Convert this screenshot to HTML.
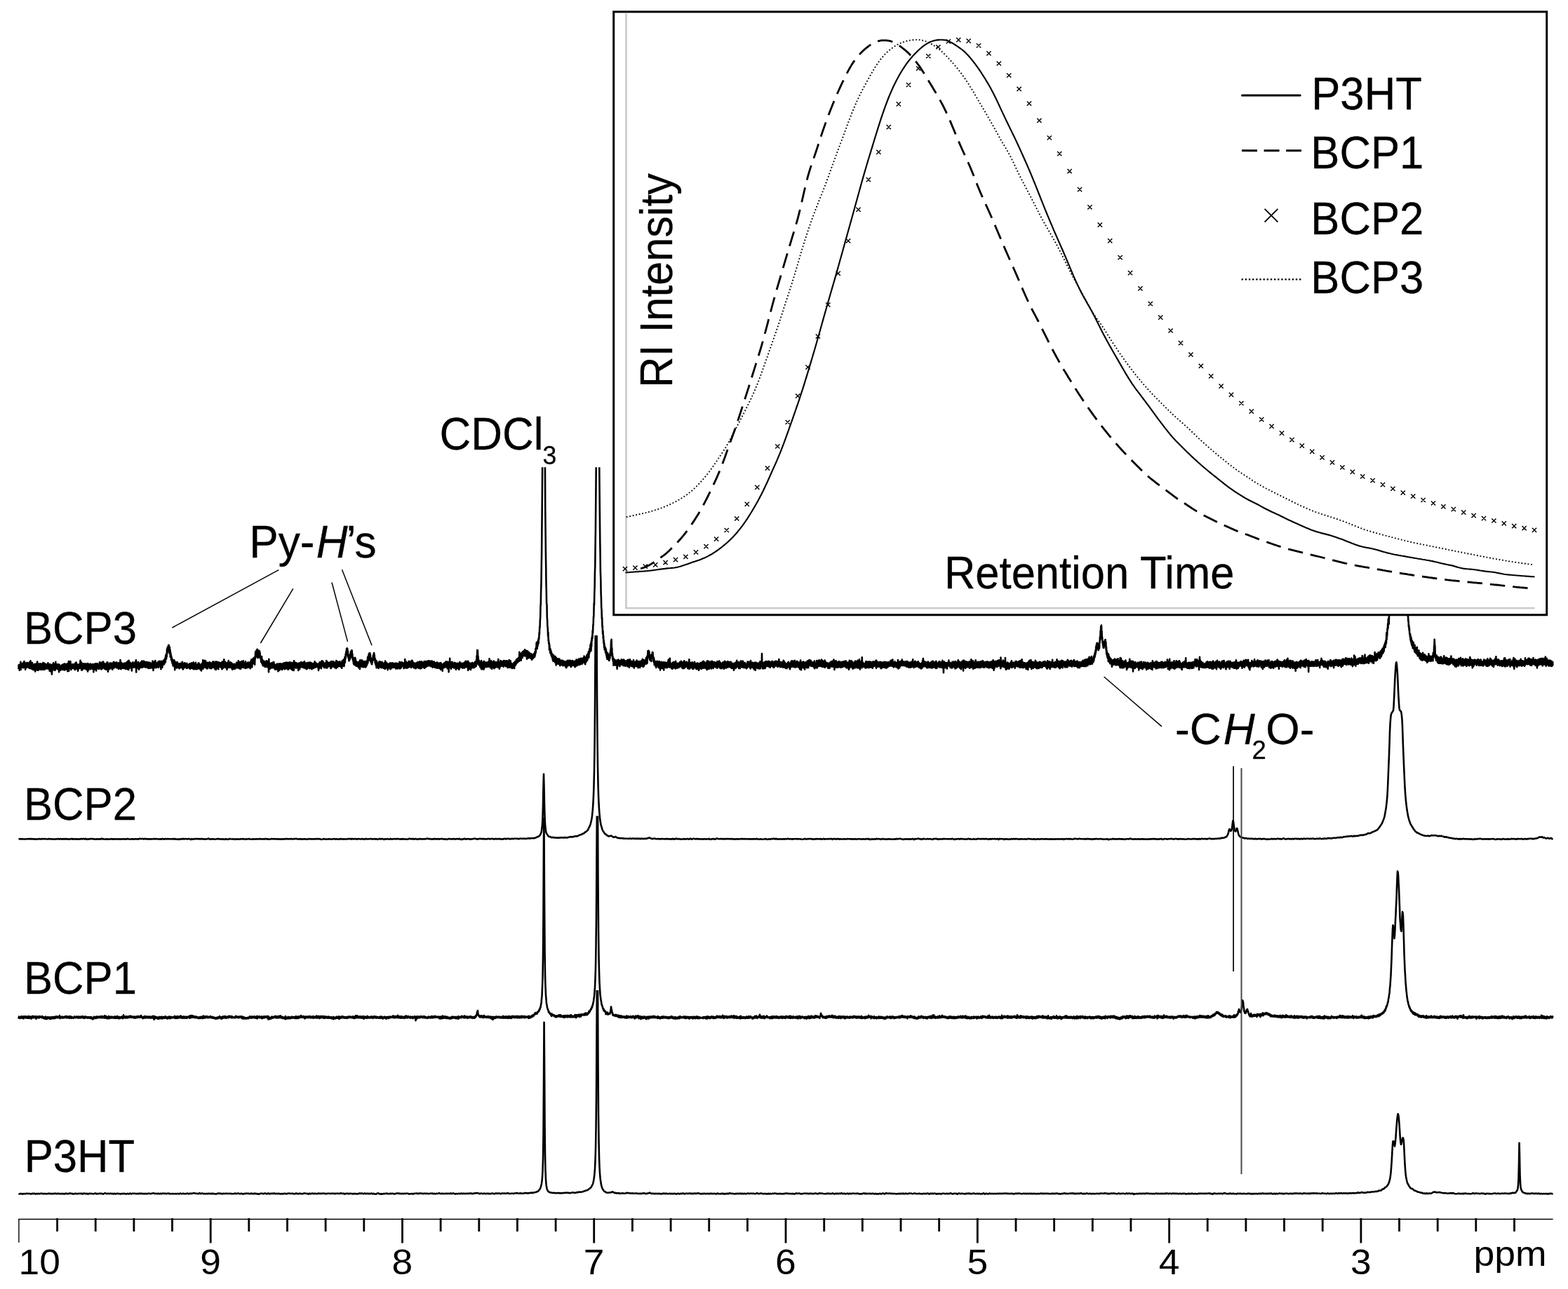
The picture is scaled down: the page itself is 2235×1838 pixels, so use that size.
<!DOCTYPE html>
<html lang="en"><head><meta charset="utf-8"><title>NMR spectra and GPC traces</title>
<style>html,body{margin:0;padding:0;background:#fff}svg{display:block}</style></head>
<body>
<svg width="2235" height="1838" viewBox="0 0 2235 1838" role="img" aria-label="1H NMR spectra of P3HT, BCP1, BCP2 and BCP3 with GPC traces inset">
<defs><clipPath id="c_bcp3"><rect x="0" y="666.3" width="2235" height="600"/></clipPath><clipPath id="c_bcp2"><rect x="0" y="905.9" width="2235" height="600"/></clipPath><clipPath id="c_bcp1"><rect x="0" y="1163.5" width="2235" height="600"/></clipPath><clipPath id="c_p3ht"><rect x="0" y="1411.9" width="2235" height="600"/></clipPath></defs>
<rect width="2235" height="1838" fill="#fff"/>
<g clip-path="url(#c_bcp3)"><polyline fill="none" stroke="#000" stroke-width="2.6" stroke-linejoin="round" points="26.5,954.1 26.8,948.1 27.1,952.4 27.5,949.1 27.8,955.8 28.1,949.6 28.4,953.8 28.7,947.6 29.1,953.2 29.4,943.7 29.7,954.6 30,947.9 30.3,951.2 30.7,946.4 31,951.5 31.3,946.4 31.6,951.5 31.9,946.4 32.3,950.9 32.6,946.1 32.9,952.3 33.2,944.8 33.5,949.8 33.9,946.2 34.2,951.3 34.5,943 34.8,951.3 35.1,944.3 35.5,952.2 35.8,945.7 36.1,954.6 36.4,945.9 36.7,952.6 37.1,946.3 37.4,952.2 37.7,946.8 38,951.9 38.3,945.1 38.7,950.4 39,945 39.3,950.3 39.6,946.3 39.9,950.6 40.3,945.8 40.6,951.7 40.9,945.7 41.2,951.2 41.5,945.8 41.9,953 42.2,944.1 42.5,952.1 42.8,947.3 43.1,950.5 43.5,942.2 43.8,949.6 44.1,946.1 44.4,953.4 44.7,944.7 45.1,952.9 45.4,947.9 45.7,951.1 46,945 46.3,954.1 46.7,947.7 47,952.7 47.3,949.1 47.6,955.2 47.9,947.9 48.3,953.2 48.6,948 48.9,954.6 49.2,947.1 49.5,954.6 49.9,947 50.2,957.4 50.5,948.5 50.8,953.4 51.1,946.7 51.5,951.7 51.8,946.6 52.1,952.7 52.4,947.2 52.7,955.5 53.1,943.5 53.4,952.4 53.7,948.7 54,955.7 54.3,948.9 54.7,954.3 55,948.6 55.3,955.1 55.6,946.5 55.9,952.7 56.3,947.9 56.6,951.7 56.9,948.8 57.2,954 57.5,946.3 57.9,952.8 58.2,949.3 58.5,955 58.8,947 59.1,954.3 59.5,949.4 59.8,954.5 60.1,948.9 60.4,954.3 60.7,946 61.1,952.4 61.4,945.1 61.7,954.7 62,947.6 62.3,952.4 62.7,945.6 63,954.8 63.3,948.3 63.6,952.4 63.9,946.4 64.3,951 64.6,949.7 64.9,953.9 65.2,947.6 65.5,952.8 65.9,947.3 66.2,952.9 66.5,947.8 66.8,951.7 67.1,948.9 67.5,953.1 67.8,947.5 68.1,953.3 68.4,945.4 68.7,953.7 69.1,948 69.4,951.3 69.7,947.6 70,954.2 70.3,947.2 70.7,956.6 71,947.1 71.3,955.9 71.6,950 71.9,957.3 72.3,949.6 72.6,956.2 72.9,947.7 73.2,957.3 73.5,949 73.9,961.5 74.2,950.2 74.5,956.9 74.8,949.7 75.1,954.8 75.5,947.1 75.8,953.5 76.1,945.4 76.4,953.4 76.7,948.3 77.1,954.9 77.4,947.1 77.7,955.7 78,946.9 78.3,954.5 78.7,949.5 79,955.4 79.3,943.8 79.6,952.7 79.9,948.9 80.3,951.8 80.6,948.1 80.9,953 81.2,948.9 81.5,951.9 81.9,947.2 82.2,954 82.5,948.2 82.8,954.5 83.1,948.3 83.5,953.4 83.8,947.3 84.1,958.1 84.4,950.4 84.7,954.4 85.1,948.2 85.4,955.1 85.7,952.1 86,955.8 86.3,949.8 86.7,953.6 87,950.3 87.3,953.2 87.6,949.8 87.9,954.8 88.3,948.2 88.6,953.7 88.9,948 89.2,954 89.5,948.7 89.9,954.8 90.2,947.4 90.5,952.9 90.8,948.1 91.1,954.7 91.5,946.9 91.8,955.4 92.1,946.6 92.4,954 92.7,948.6 93.1,955 93.4,947 93.7,954.2 94,949.8 94.3,953.5 94.7,949.4 95,953.5 95.3,947.6 95.6,953.9 95.9,946.2 96.3,957.3 96.6,948.5 96.9,955.3 97.2,946.6 97.5,954.3 97.9,943.1 98.2,956.6 98.5,947.3 98.8,952.9 99.1,947.1 99.5,951.7 99.8,947.2 100.1,951.8 100.4,943 100.7,952.4 101.1,948.8 101.4,954.9 101.7,947.7 102,953.2 102.3,947.8 102.7,952 103,947.2 103.3,951.7 103.6,948.2 103.9,952.9 104.3,947.8 104.6,952.5 104.9,947.4 105.2,952.5 105.5,947.2 105.9,953 106.2,947 106.5,954.9 106.8,946.8 107.1,954.7 107.5,945.4 107.8,952.6 108.1,948.9 108.4,953.4 108.7,944.6 109.1,953.4 109.4,947.2 109.7,952.3 110,947.8 110.3,952.3 110.7,947.5 111,956.6 111.3,949.1 111.6,954.6 111.9,948.2 112.3,951.9 112.6,947.5 112.9,951.9 113.2,947.4 113.5,952.8 113.9,946.3 114.2,951.9 114.5,941.9 114.8,952.8 115.1,947.8 115.5,951.9 115.8,944.3 116.1,955.3 116.4,945.4 116.7,955.7 117.1,948.4 117.4,953.9 117.7,949.9 118,954.4 118.3,949.9 118.7,953.1 119,946.4 119.3,953.3 119.6,948.2 119.9,952.6 120.3,948.8 120.6,952.7 120.9,946.6 121.2,953.5 121.5,946.9 121.9,950.7 122.2,946.5 122.5,951.7 122.8,947 123.1,954.6 123.5,948.2 123.8,953.7 124.1,946.6 124.4,955.2 124.7,949.3 125.1,957.4 125.4,946 125.7,953.5 126,948.7 126.3,955.3 126.7,948.3 127,952.6 127.3,947.7 127.6,953.8 127.9,948.4 128.3,952.7 128.6,946.6 128.9,954.1 129.2,949.2 129.5,950.8 129.9,947.5 130.2,951.3 130.5,947.7 130.8,953.3 131.1,947.5 131.5,953.4 131.8,947.1 132.1,953.9 132.4,947.5 132.7,952.7 133.1,947.3 133.4,958.1 133.7,948.3 134,952.7 134.3,949.8 134.7,954.4 135,946.8 135.3,953.8 135.6,949.3 135.9,954.4 136.3,946.4 136.6,953.9 136.9,947.8 137.2,956.4 137.5,946.7 137.9,952.1 138.2,948.3 138.5,953.5 138.8,946.2 139.1,952.7 139.5,947.2 139.8,951.5 140.1,947.7 140.4,952.6 140.7,948.2 141.1,953.9 141.4,948.2 141.7,950.1 142,944.3 142.3,952.8 142.7,946.8 143,951.5 143.3,946.8 143.6,952.7 143.9,944.7 144.3,954.4 144.6,947.3 144.9,952.8 145.2,947.6 145.5,951.3 145.9,944.7 146.2,953.3 146.5,943.7 146.8,952.1 147.1,943.6 147.5,950.2 147.8,946.6 148.1,952.1 148.4,945.9 148.7,951.6 149.1,946.6 149.4,953.9 149.7,946.7 150,952.6 150.3,949.1 150.7,953.5 151,946.7 151.3,954.6 151.6,946.1 151.9,952.1 152.3,945.2 152.6,953.3 152.9,944.4 153.2,951.5 153.5,944.6 153.9,957.6 154.2,947.3 154.5,954.3 154.8,947.4 155.1,952.7 155.5,948.3 155.8,954.3 156.1,947.5 156.4,953.8 156.7,945.2 157.1,952.6 157.4,946.1 157.7,951.9 158,946.9 158.3,952.1 158.7,946.1 159,951.4 159.3,945.5 159.6,953.7 159.9,946.9 160.3,954.7 160.6,947.2 160.9,952.3 161.2,946.1 161.5,952.6 161.9,943.8 162.2,951 162.5,946.5 162.8,952.1 163.1,945.6 163.5,949.4 163.8,944.7 164.1,949.9 164.4,945.3 164.7,951 165.1,944.7 165.4,950.6 165.7,946.8 166,952.2 166.3,944.6 166.7,951.3 167,946 167.3,951 167.6,946.3 167.9,952.1 168.3,947.4 168.6,953.1 168.9,945.4 169.2,954 169.5,946.6 169.9,951.5 170.2,945.2 170.5,951.5 170.8,945.5 171.1,952.6 171.5,941 171.8,951.7 172.1,946 172.4,954.1 172.7,946.1 173.1,953.2 173.4,945 173.7,951.9 174,948.6 174.3,952.8 174.7,946.9 175,952.3 175.3,947.4 175.6,952.3 175.9,946.6 176.3,952.9 176.6,947.5 176.9,951.1 177.2,945.8 177.5,952.5 177.9,945.6 178.2,951.7 178.5,946.5 178.8,953.8 179.1,945.9 179.5,952.1 179.8,945.4 180.1,952.8 180.4,944.8 180.7,953.6 181.1,946.3 181.4,953.1 181.7,943.1 182,953 182.3,948.1 182.7,955 183,943.3 183.3,955 183.6,941.9 183.9,951.3 184.3,945.1 184.6,952.2 184.9,944.4 185.2,952.3 185.5,947.5 185.9,950.6 186.2,945.8 186.5,950.9 186.8,945.6 187.1,951.9 187.5,946.8 187.8,956.5 188.1,946.3 188.4,950.2 188.7,947.3 189.1,951.8 189.4,944.4 189.7,951.5 190,946.2 190.3,951.6 190.7,946 191,950 191.3,947.5 191.6,950.9 191.9,946.6 192.3,951.4 192.6,943.9 192.9,950.6 193.2,945.9 193.5,950.5 193.9,941.4 194.2,958.4 194.5,944.1 194.8,951.6 195.1,946.1 195.5,952.6 195.8,946.2 196.1,952 196.4,946 196.7,951.8 197.1,944.1 197.4,951.3 197.7,946.1 198,954.8 198.3,945.7 198.7,952.1 199,947 199.3,952.5 199.6,945.6 199.9,951.4 200.3,944.5 200.6,951.8 200.9,945 201.2,951.3 201.5,944.3 201.9,951.8 202.2,942.5 202.5,951.6 202.8,946 203.1,951.4 203.5,944.6 203.8,950.5 204.1,944.1 204.4,951 204.7,942.5 205.1,949.8 205.4,943 205.7,948.2 206,944.1 206.3,949.9 206.7,947.3 207,951.5 207.3,944.5 207.6,951.5 207.9,946.7 208.3,950.6 208.6,943.9 208.9,951.3 209.2,945.1 209.5,951.2 209.9,946.3 210.2,951.6 210.5,946.4 210.8,949.7 211.1,944.2 211.5,953 211.8,945.9 212.1,952.1 212.4,946 212.7,950.3 213.1,945.2 213.4,950.8 213.7,944.8 214,952.7 214.3,947.1 214.7,952.5 215,946.1 215.3,950.7 215.6,946 215.9,951.2 216.3,946.9 216.6,952.1 216.9,945.8 217.2,949.5 217.5,942.5 217.9,951.5 218.2,946.8 218.5,955.9 218.8,946.6 219.1,953.1 219.5,943.7 219.8,951.2 220.1,945.4 220.4,950.4 220.7,943.7 221.1,951.8 221.4,942.1 221.7,950.5 222,944.6 222.3,952.1 222.7,947.3 223,951.6 223.3,945.7 223.6,951 223.9,945.7 224.3,948.1 224.6,944.7 224.9,951.3 225.2,945.4 225.5,948.8 225.9,943.1 226.2,951.8 226.5,944.3 226.8,949 227.1,944.4 227.5,949.4 227.8,942.7 228.1,949.2 228.4,943.7 228.7,948.8 229.1,943.3 229.4,954.1 229.7,943.6 230,950.8 230.3,942.8 230.7,948.4 231,943.3 231.3,951.7 231.6,943.6 231.9,948.7 232.3,943.5 232.6,947.9 232.9,941.8 233.2,945.7 233.5,942.4 233.9,947.1 234.2,940.6 234.5,946.1 234.8,940 235.1,944.4 235.5,938.3 235.8,944.3 236.1,935 236.4,940.5 236.7,933.3 237.1,939.1 237.4,932 237.7,936.1 238,925.5 238.3,931.7 238.7,923.4 239,928.6 239.3,922.9 239.6,925.9 239.9,920.5 240.3,927.1 240.6,919.8 240.9,927.1 241.2,921.9 241.5,931.4 241.9,923 242.2,930.8 242.5,926.7 242.8,936.6 243.1,930.5 243.5,936.4 243.8,933.7 244.1,941.3 244.4,936.3 244.7,942.2 245.1,938.7 245.4,945.1 245.7,940.3 246,946.7 246.3,942.3 246.7,949.4 247,941.3 247.3,947.6 247.6,942.6 247.9,949.8 248.3,941.3 248.6,949.9 248.9,943 249.2,955.2 249.5,943.5 249.9,949.7 250.2,944.6 250.5,948.1 250.8,944.5 251.1,951.7 251.5,946.6 251.8,952.4 252.1,946.4 252.4,951 252.7,944 253.1,951.6 253.4,946.1 253.7,951.8 254,946.8 254.3,951.1 254.7,946.4 255,952.5 255.3,946.6 255.6,953.3 255.9,947.5 256.3,951.9 256.6,946.4 256.9,951.7 257.2,947.7 257.5,952 257.9,945.9 258.2,952 258.5,946.2 258.8,951.4 259.1,946.7 259.5,951.6 259.8,943.8 260.1,952.8 260.4,945.5 260.7,954.4 261.1,947 261.4,953.5 261.7,947.2 262,950.9 262.3,945.9 262.7,951.9 263,945.4 263.3,951 263.6,945.6 263.9,951.1 264.3,947.2 264.6,950.7 264.9,947.7 265.2,951.1 265.5,947.8 265.9,953 266.2,945.9 266.5,952.6 266.8,947.2 267.1,951.6 267.5,947.6 267.8,951.6 268.1,948.5 268.4,952.1 268.7,947.7 269.1,950.9 269.4,948.9 269.7,951.7 270,946.5 270.3,952.7 270.7,946.4 271,953.6 271.3,947.3 271.6,952.7 271.9,946.6 272.3,951.5 272.6,946.4 272.9,951.5 273.2,945.3 273.5,952.6 273.9,945.5 274.2,948.2 274.5,946.8 274.8,950.4 275.1,946.5 275.5,953.9 275.8,944.2 276.1,951.6 276.4,946.3 276.7,954.2 277.1,948.6 277.4,952.7 277.7,946.9 278,953.7 278.3,946.1 278.7,953 279,944.7 279.3,954.3 279.6,948.5 279.9,952.7 280.3,948.4 280.6,953.1 280.9,948.1 281.2,953.9 281.5,949.5 281.9,952.8 282.2,947.1 282.5,952.9 282.8,945.6 283.1,953 283.5,945.5 283.8,952.7 284.1,946.7 284.4,953.5 284.7,948.1 285.1,950.4 285.4,948.3 285.7,955 286,949.1 286.3,952 286.7,948 287,956.5 287.3,946.5 287.6,953.4 287.9,947.9 288.3,951.5 288.6,947 288.9,952.7 289.2,941.3 289.5,953.7 289.9,946.5 290.2,951.6 290.5,946.5 290.8,951 291.1,943.9 291.5,949.6 291.8,941.9 292.1,950.9 292.4,945 292.7,951.6 293.1,942.5 293.4,950.1 293.7,946.9 294,949.6 294.3,946.8 294.7,953.3 295,945.8 295.3,951 295.6,944.7 295.9,953.1 296.3,945.5 296.6,950.8 296.9,946.4 297.2,950.6 297.5,945 297.9,950.5 298.2,946.6 298.5,950.7 298.8,944.1 299.1,952.9 299.5,945.7 299.8,950.2 300.1,945.3 300.4,950 300.7,947.4 301.1,953.1 301.4,946.3 301.7,951 302,947.2 302.3,952 302.7,944.8 303,951 303.3,943.6 303.6,951.5 303.9,945.7 304.3,951.9 304.6,943.5 304.9,951.1 305.2,946.1 305.5,951.6 305.9,944.8 306.2,952.6 306.5,948.4 306.8,954.7 307.1,947.5 307.5,954.1 307.8,943.4 308.1,954.7 308.4,947.6 308.7,951.7 309.1,945.4 309.4,952.1 309.7,946.4 310,952 310.3,943.8 310.7,951.9 311,948.2 311.3,954.2 311.6,945.5 311.9,949.3 312.3,944.7 312.6,950.2 312.9,944.8 313.2,950.4 313.5,945.1 313.9,950.9 314.2,946.7 314.5,949.3 314.8,945.4 315.1,951.6 315.5,945.4 315.8,950.5 316.1,945.9 316.4,954.1 316.7,943.5 317.1,950.7 317.4,945.4 317.7,953 318,945.9 318.3,949.8 318.7,943.1 319,951.7 319.3,940.4 319.6,949.4 319.9,944.5 320.3,948.9 320.6,944 320.9,950.1 321.2,943.8 321.5,951.6 321.9,946.2 322.2,952.3 322.5,945.2 322.8,952.1 323.1,947.6 323.5,954.6 323.8,946.1 324.1,952.1 324.4,947.2 324.7,951.5 325.1,944.1 325.4,950.5 325.7,942 326,951.7 326.3,946 326.7,951.9 327,944.9 327.3,951.6 327.6,946.6 327.9,951.1 328.3,944.3 328.6,950.1 328.9,946.3 329.2,951.6 329.5,946.6 329.9,951.8 330.2,945.3 330.5,953.2 330.8,947.6 331.1,954.6 331.5,947.7 331.8,951 332.1,947.1 332.4,953.9 332.7,948.1 333.1,952.7 333.4,947.2 333.7,952 334,946.9 334.3,953.7 334.7,947.6 335,953.6 335.3,948.5 335.6,952.3 335.9,947.7 336.3,952.3 336.6,946.9 336.9,950.5 337.2,944.9 337.5,952.3 337.9,945.1 338.2,950.5 338.5,945.5 338.8,950 339.1,945.2 339.5,952.4 339.8,942.2 340.1,949.9 340.4,945.9 340.7,951.1 341.1,944 341.4,953.1 341.7,945.8 342,951.4 342.3,944.1 342.7,954 343,946.7 343.3,951.3 343.6,946.4 343.9,952.5 344.3,943.1 344.6,951.2 344.9,943.3 345.2,950.8 345.5,943.9 345.9,948 346.2,944 346.5,951.6 346.8,942.3 347.1,951 347.5,945.3 347.8,949 348.1,945.9 348.4,952.2 348.7,946.3 349.1,951.9 349.4,946 349.7,951 350,943.4 350.3,952.9 350.7,945.3 351,950.5 351.3,947.8 351.6,952 351.9,946.4 352.3,951.3 352.6,946.6 352.9,951.3 353.2,944.7 353.5,952 353.9,944.6 354.2,950.8 354.5,945.1 354.8,951.1 355.1,944.7 355.5,950.1 355.8,945.1 356.1,951.1 356.4,946 356.7,953.2 357.1,943.8 357.4,951.7 357.7,942.6 358,948.7 358.3,940.5 358.7,948.8 359,943 359.3,951.1 359.6,940.2 359.9,946.3 360.3,939.9 360.6,945.3 360.9,938.8 361.2,945.1 361.5,939.7 361.9,944.8 362.2,937.8 362.5,946.6 362.8,937.5 363.1,947.7 363.5,936.3 363.8,939.8 364.1,929.8 364.4,937.4 364.7,928.9 365.1,933.8 365.4,928.1 365.7,933.9 366,926.8 366.3,934.1 366.7,925.7 367,937.3 367.3,929 367.6,938.1 367.9,929.8 368.3,937 368.6,927.5 368.9,934.8 369.2,929.4 369.5,934 369.9,928.3 370.2,935.5 370.5,930.2 370.8,938.2 371.1,934.8 371.5,939.4 371.8,937.3 372.1,943.9 372.4,937.8 372.7,943.7 373.1,936.3 373.4,946 373.7,941.7 374,946.8 374.3,941.1 374.7,948.9 375,942.9 375.3,949.5 375.6,944.5 375.9,948.6 376.3,942.8 376.6,949.2 376.9,943.1 377.2,949.8 377.5,945.8 377.9,951 378.2,944.7 378.5,949.5 378.8,943.3 379.1,950.8 379.5,943.7 379.8,948.6 380.1,942.3 380.4,950.9 380.7,943.3 381.1,951 381.4,943.4 381.7,949.1 382,945.8 382.3,951.2 382.7,943.1 383,958.3 383.3,939.8 383.6,950.7 383.9,947.9 384.3,952.7 384.6,946.5 384.9,953.8 385.2,945.9 385.5,952.6 385.9,946.5 386.2,952.7 386.5,945.9 386.8,950.5 387.1,945.6 387.5,951.6 387.8,947.4 388.1,950.6 388.4,944.7 388.7,952.3 389.1,945.6 389.4,949.9 389.7,944.9 390,950.4 390.3,944 390.7,952.1 391,948.3 391.3,951.9 391.6,947.4 391.9,954.5 392.3,948.1 392.6,953.1 392.9,948.7 393.2,954.7 393.5,948.6 393.9,953.4 394.2,949.5 394.5,952 394.8,946.5 395.1,953.7 395.5,951.2 395.8,953 396.1,947.2 396.4,957.3 396.7,946.9 397.1,951.6 397.4,946.6 397.7,956 398,946.5 398.3,951.2 398.7,947.2 399,953.1 399.3,947.7 399.6,954.5 399.9,946.4 400.3,952.4 400.6,946.5 400.9,953.3 401.2,947.5 401.5,953.7 401.9,948.4 402.2,954.9 402.5,947.7 402.8,953.7 403.1,946 403.5,952.4 403.8,946.7 404.1,952.5 404.4,947.6 404.7,953.3 405.1,945.3 405.4,952.1 405.7,948.2 406,954.3 406.3,946.3 406.7,953.4 407,944.9 407.3,951.3 407.6,945.2 407.9,951.2 408.3,944.7 408.6,951.3 408.9,948.4 409.2,953.3 409.5,944.7 409.9,953.1 410.2,947.3 410.5,954.6 410.8,945.1 411.1,954.5 411.5,948 411.8,951.3 412.1,946.1 412.4,953 412.7,944.3 413.1,951.8 413.4,944.3 413.7,952.3 414,946.1 414.3,951.8 414.7,946.3 415,954.1 415.3,946.4 415.6,952.1 415.9,945 416.3,952.6 416.6,945 416.9,955.5 417.2,948.2 417.5,953.2 417.9,947.4 418.2,952 418.5,946.9 418.8,955.9 419.1,942.4 419.5,951.2 419.8,944.9 420.1,951 420.4,945.8 420.7,950.3 421.1,944.8 421.4,952.3 421.7,945.3 422,952.4 422.3,945.4 422.7,952.1 423,946.3 423.3,951.3 423.6,946.5 423.9,952 424.3,946.6 424.6,951.5 424.9,945.7 425.2,956 425.5,946.2 425.9,951.5 426.2,946.3 426.5,950.8 426.8,945.6 427.1,954.1 427.5,945 427.8,949.7 428.1,947 428.4,950.9 428.7,946.7 429.1,951.2 429.4,944 429.7,951 430,945.6 430.3,949.3 430.7,945.7 431,950.4 431.3,944.7 431.6,951.6 431.9,946.9 432.3,951.8 432.6,946.3 432.9,950.4 433.2,944.3 433.5,952.4 433.9,943.1 434.2,951 434.5,946.3 434.8,952.5 435.1,948.3 435.5,951.5 435.8,949.4 436.1,952.1 436.4,945.2 436.7,954.2 437.1,945.8 437.4,953.3 437.7,947.6 438,953.5 438.3,947.5 438.7,952.1 439,944.8 439.3,950.5 439.6,947.2 439.9,950.8 440.3,944.9 440.6,949.5 440.9,947.3 441.2,953.3 441.5,945.6 441.9,952.9 442.2,944.5 442.5,950.1 442.8,944.8 443.1,950.6 443.5,945.1 443.8,950.6 444.1,947 444.4,954.1 444.7,946 445.1,950.9 445.4,947.9 445.7,949.4 446,946.8 446.3,952.9 446.7,946.1 447,950.2 447.3,946.3 447.6,952.2 447.9,946.2 448.3,951 448.6,943.2 448.9,951.9 449.2,945.5 449.5,949.7 449.9,945.5 450.2,950.9 450.5,945.6 450.8,950 451.1,945.9 451.5,950.2 451.8,947.4 452.1,950.6 452.4,947.1 452.7,951.4 453.1,946.7 453.4,951.8 453.7,947.9 454,955.9 454.3,946.5 454.7,953.8 455,947.3 455.3,952.3 455.6,944.3 455.9,951.3 456.3,944.4 456.6,950.8 456.9,947.3 457.2,949.1 457.5,943.8 457.9,953.2 458.2,944 458.5,948.4 458.8,942.3 459.1,947.8 459.5,942.6 459.8,949.3 460.1,943.7 460.4,948.1 460.7,943.5 461.1,950.6 461.4,945.6 461.7,949.8 462,945.5 462.3,952.1 462.7,947.2 463,950.5 463.3,945.6 463.6,951.4 463.9,946.8 464.3,952 464.6,947.9 464.9,951.8 465.2,942.1 465.5,952.3 465.9,943 466.2,952.4 466.5,944.2 466.8,951.1 467.1,944.8 467.5,950 467.8,944.9 468.1,950.4 468.4,945.9 468.7,949.3 469.1,944.9 469.4,949.9 469.7,945.7 470,949.2 470.3,944.7 470.7,949.8 471,945.9 471.3,952.9 471.6,943.5 471.9,952.8 472.3,945.9 472.6,949.6 472.9,943.1 473.2,950.2 473.5,943.6 473.9,950.4 474.2,943.3 474.5,950.8 474.8,943.4 475.1,949.9 475.5,943.5 475.8,949.8 476.1,944 476.4,949.2 476.7,945.9 477.1,951.8 477.4,945.1 477.7,949.4 478,946.1 478.3,949.3 478.7,944.7 479,953 479.3,942.1 479.6,950.8 479.9,945.1 480.3,951.8 480.6,944.8 480.9,949.3 481.2,943.4 481.5,950.4 481.9,944 482.2,947.5 482.5,945.4 482.8,950.2 483.1,944.1 483.5,950 483.8,943.7 484.1,949.6 484.4,943.2 484.7,949.6 485.1,945 485.4,949.7 485.7,947 486,951.2 486.3,945.1 486.7,950.6 487,945.4 487.3,952.8 487.6,942.6 487.9,949.5 488.3,943.1 488.6,949.4 488.9,942.6 489.2,947.6 489.5,940.5 489.9,949 490.2,943.2 490.5,949.9 490.8,940.8 491.1,945.8 491.5,936.9 491.8,944.6 492.1,937.6 492.4,939.6 492.7,932.4 493.1,937 493.4,929.1 493.7,934.1 494,925 494.3,928 494.7,924.3 495,933.2 495.3,925.4 495.6,933 495.9,928.9 496.3,937.2 496.6,933.3 496.9,939.5 497.2,936.9 497.5,942.4 497.9,936.8 498.2,940.2 498.5,935.4 498.8,940.3 499.1,933.5 499.5,938.2 499.8,929.4 500.1,936.7 500.4,929.6 500.7,933.2 501.1,927.2 501.4,933.6 501.7,927.6 502,936.5 502.3,932.3 502.7,940.3 503,937.3 503.3,942.3 503.6,937.9 503.9,945.9 504.3,942.3 504.6,947.5 504.9,941 505.2,947.9 505.5,939.9 505.9,948.1 506.2,937.8 506.5,947.2 506.8,939.5 507.1,947 507.5,943.1 507.8,949.6 508.1,943.4 508.4,948.8 508.7,944.9 509.1,948.1 509.4,945.3 509.7,949.3 510,945.4 510.3,950.6 510.7,944 511,950.3 511.3,946.3 511.6,952.4 511.9,946.3 512.3,952.7 512.6,943.1 512.9,953.9 513.2,941.3 513.5,950.3 513.9,944.4 514.2,947 514.5,945.6 514.8,946.6 515.1,941.3 515.5,950.7 515.8,941.9 516.1,948.5 516.4,941.7 516.7,950.6 517.1,943.8 517.4,950.6 517.7,943.4 518,951.2 518.3,944.2 518.7,950.3 519,945.6 519.3,950.2 519.6,943.1 519.9,949.6 520.3,947.3 520.6,951.4 520.9,943.5 521.2,951.2 521.5,945.6 521.9,950.1 522.2,943.5 522.5,948.8 522.8,942.4 523.1,948.1 523.5,941.9 523.8,945.8 524.1,936.9 524.4,945.2 524.7,938.9 525.1,941.3 525.4,934 525.7,936.4 526,931.7 526.3,936.2 526.7,931.4 527,941.4 527.3,931.3 527.6,938.6 527.9,933.3 528.3,943.1 528.6,940.6 528.9,944.5 529.2,938.6 529.5,946.5 529.9,941.1 530.2,947.1 530.5,939.1 530.8,944.2 531.1,939.4 531.5,942 531.8,935.3 532.1,939.3 532.4,933 532.7,938.5 533.1,931 533.4,937.6 533.7,933.7 534,941.1 534.3,938 534.7,945.5 535,940 535.3,947.3 535.6,942.8 535.9,949.1 536.3,943.8 536.6,952.3 536.9,942.6 537.2,951.7 537.5,947 537.9,950.8 538.2,945.9 538.5,951.2 538.8,946 539.1,952.3 539.5,945.5 539.8,952.9 540.1,944.3 540.4,950.6 540.7,943.3 541.1,949.9 541.4,944.2 541.7,951 542,943.5 542.3,950.2 542.7,944.9 543,951.9 543.3,944.4 543.6,949.4 543.9,944.3 544.3,952.2 544.6,943.8 544.9,951.9 545.2,946 545.5,951 545.9,946.2 546.2,950.6 546.5,947 546.8,952.6 547.1,945.6 547.5,952.4 547.8,948 548.1,952 548.4,946.1 548.7,954 549.1,942.5 549.4,953 549.7,944.8 550,952.5 550.3,946.4 550.7,951.7 551,944.8 551.3,949.9 551.6,946.3 551.9,950.1 552.3,946.9 552.6,955.3 552.9,947.3 553.2,951.2 553.5,947.1 553.9,951.8 554.2,946.6 554.5,951.9 554.8,947.6 555.1,952.7 555.5,947.8 555.8,952.5 556.1,945.3 556.4,954.2 556.7,946.7 557.1,953.6 557.4,946.4 557.7,951.5 558,946.4 558.3,951.9 558.7,945.3 559,951.1 559.3,946.4 559.6,952 559.9,945.9 560.3,951 560.6,946.2 560.9,951 561.2,946 561.5,951.8 561.9,947 562.2,951.1 562.5,946 562.8,951.5 563.1,946.5 563.5,952 563.8,945.9 564.1,953.5 564.4,945.8 564.7,951.7 565.1,947.4 565.4,951.8 565.7,945.9 566,952.6 566.3,947 566.7,953.4 567,947.6 567.3,952.5 567.6,947.8 567.9,952.4 568.3,946.1 568.6,952.1 568.9,947.3 569.2,951.7 569.5,943.8 569.9,953.5 570.2,947.4 570.5,952 570.8,946.5 571.1,952.4 571.5,944.5 571.8,952.2 572.1,947.9 572.4,948.7 572.7,944.4 573.1,949 573.4,945.8 573.7,950 574,945.4 574.3,948.4 574.7,945.4 575,950 575.3,946.6 575.6,953 575.9,945.6 576.3,950.4 576.6,946 576.9,952.3 577.2,940 577.5,950 577.9,946.4 578.2,951.6 578.5,943 578.8,952.3 579.1,943.9 579.5,950.8 579.8,947.3 580.1,952.6 580.4,945.3 580.7,950.5 581.1,946.2 581.4,951.7 581.7,944.5 582,950.6 582.3,945.6 582.7,951.5 583,942.7 583.3,949.4 583.6,945.5 583.9,950 584.3,945.8 584.6,949.8 584.9,944.1 585.2,950.5 585.5,945.1 585.9,951.9 586.2,942.6 586.5,950.1 586.8,945.2 587.1,950.2 587.5,941.9 587.8,950.8 588.1,943.5 588.4,950.8 588.7,945.5 589.1,951.1 589.4,944.7 589.7,952.1 590,945.4 590.3,951.6 590.7,947.1 591,952 591.3,947 591.6,952.2 591.9,946.3 592.3,953.1 592.6,945.7 592.9,951.9 593.2,945.4 593.5,952.5 593.9,946.4 594.2,951 594.5,946 594.8,951.4 595.1,944.4 595.5,948.9 595.8,944 596.1,950.4 596.4,946.8 596.7,952.8 597.1,946.3 597.4,950.1 597.7,943.9 598,950.5 598.3,943.2 598.7,950.3 599,946.2 599.3,953.5 599.6,946.6 599.9,951.9 600.3,945 600.6,951.3 600.9,943.2 601.2,952.5 601.5,945.7 601.9,950.5 602.2,944.6 602.5,950 602.8,946 603.1,950.3 603.5,947 603.8,951.2 604.1,945 604.4,952.1 604.7,943.1 605.1,952.8 605.4,943.9 605.7,950.3 606,944.1 606.3,951.5 606.7,943 607,948.9 607.3,945.3 607.6,950.8 607.9,945 608.3,949.9 608.6,943.2 608.9,949.4 609.2,942.9 609.5,949.4 609.9,942.8 610.2,949.5 610.5,943.3 610.8,949 611.1,942.4 611.5,948 611.8,942.7 612.1,948.2 612.4,942.7 612.7,949.3 613.1,942.9 613.4,949.3 613.7,944.9 614,950.1 614.3,942.9 614.7,948.8 615,943.1 615.3,948.4 615.6,942.5 615.9,949.8 616.3,943 616.6,951.6 616.9,946.8 617.2,950.7 617.5,945.6 617.9,949.7 618.2,945.5 618.5,950.4 618.8,943.6 619.1,951.1 619.5,946 619.8,951.4 620.1,946.7 620.4,951.8 620.7,945.5 621.1,950.1 621.4,947.7 621.7,952.3 622,944.9 622.3,950.2 622.7,947.3 623,951.3 623.3,944.6 623.6,952.7 623.9,946 624.3,952.5 624.6,945.6 624.9,952.3 625.2,948.1 625.5,952.5 625.9,947.2 626.2,951.7 626.5,946.4 626.8,952.8 627.1,945.2 627.5,953.6 627.8,947.3 628.1,954.6 628.4,945.1 628.7,954.3 629.1,947.2 629.4,953.8 629.7,947 630,953.9 630.3,948.6 630.7,956.6 631,947.9 631.3,952.9 631.6,947.4 631.9,949.7 632.3,946.5 632.6,951.4 632.9,945.9 633.2,951.9 633.5,946.8 633.9,951.2 634.2,945 634.5,949.5 634.8,945.9 635.1,949.5 635.5,943.5 635.8,951.3 636.1,946.1 636.4,951.2 636.7,944.5 637.1,951.4 637.4,943.5 637.7,953.1 638,944.9 638.3,951.8 638.7,947.1 639,951.8 639.3,946.4 639.6,958.1 639.9,943.7 640.3,951.6 640.6,943.8 640.9,949.4 641.2,938.9 641.5,949.7 641.9,945.4 642.2,949.2 642.5,945.4 642.8,953.7 643.1,944.9 643.5,950.4 643.8,944.9 644.1,950.7 644.4,943.8 644.7,950.8 645.1,946.3 645.4,951.6 645.7,946 646,951.4 646.3,946.1 646.7,950.6 647,946 647.3,952.5 647.6,944.9 647.9,951.1 648.3,946.2 648.6,951.1 648.9,945.3 649.2,951.7 649.5,948.8 649.9,954.7 650.2,948.8 650.5,953.1 650.8,946.2 651.1,952.4 651.5,945.9 651.8,953 652.1,947 652.4,952.3 652.7,946.8 653.1,952.9 653.4,945.8 653.7,950.7 654,947.6 654.3,954.6 654.7,946.5 655,952.9 655.3,944 655.6,951.3 655.9,946.7 656.3,950.5 656.6,945.8 656.9,949.4 657.2,945.5 657.5,950.9 657.9,947.4 658.2,951.8 658.5,946.3 658.8,951.8 659.1,946.5 659.5,952.7 659.8,945.7 660.1,951.8 660.4,946.8 660.7,948 661.1,945.6 661.4,949.2 661.7,945.7 662,952.5 662.3,944.6 662.7,950.5 663,945.7 663.3,951.2 663.6,942.8 663.9,950.1 664.3,944.8 664.6,951.2 664.9,943.3 665.2,949.8 665.5,946.2 665.9,949 666.2,945.7 666.5,950 666.8,942.7 667.1,955.7 667.5,943.3 667.8,954.5 668.1,946.9 668.4,951.1 668.7,945.2 669.1,953.7 669.4,946.8 669.7,950.9 670,946 670.3,951.7 670.7,946 671,954.9 671.3,946.6 671.6,950.8 671.9,945.7 672.3,950.3 672.6,947 672.9,952.3 673.2,945.1 673.5,951.4 673.9,945.5 674.2,951.7 674.5,946.9 674.8,951.1 675.1,946.1 675.5,952.1 675.8,946.5 676.1,951.7 676.4,944.8 676.7,950.3 677.1,943.9 677.4,950.6 677.7,943.5 678,949.6 678.3,945.3 678.7,950 679,940.7 679.3,947.5 679.6,935.4 679.9,940.1 680.3,927.1 680.6,929.3 680.9,927.2 681.2,937.9 681.5,935.5 681.9,946.8 682.2,940.9 682.5,948.1 682.8,941.8 683.1,948.3 683.5,945.4 683.8,948.8 684.1,944.1 684.4,951.2 684.7,944.4 685.1,952.1 685.4,945.9 685.7,950.3 686,942.1 686.3,954.1 686.7,946.8 687,953.4 687.3,944.8 687.6,953.6 687.9,946.7 688.3,954.1 688.6,945.9 688.9,953 689.2,943.4 689.5,954.5 689.9,943.1 690.2,952.3 690.5,945.1 690.8,952.2 691.1,945.2 691.5,950 691.8,944.9 692.1,948 692.4,944.9 692.7,950.3 693.1,944.6 693.4,950.7 693.7,944.9 694,951.1 694.3,944.8 694.7,949.9 695,944.6 695.3,949.5 695.6,945.9 695.9,948.4 696.3,943.5 696.6,950.7 696.9,943.3 697.2,949.4 697.5,939.4 697.9,949.4 698.2,941.5 698.5,949.6 698.8,942.4 699.1,952.3 699.5,942.9 699.8,950.3 700.1,942.4 700.4,951.1 700.7,945.4 701.1,953.8 701.4,946.5 701.7,951.6 702,943.7 702.3,949 702.7,944.1 703,950.5 703.3,945.6 703.6,951.2 703.9,942.5 704.3,953.3 704.6,944.5 704.9,949.3 705.2,945.1 705.5,950.5 705.9,945.9 706.2,951.8 706.5,944.1 706.8,949.3 707.1,945.1 707.5,949.7 707.8,944.9 708.1,950.9 708.4,944.7 708.7,949.5 709.1,943.9 709.4,951 709.7,946.7 710,951.7 710.3,940 710.7,951.2 711,944.8 711.3,951.9 711.6,944.5 711.9,953.6 712.3,946.4 712.6,951.3 712.9,946.5 713.2,948.8 713.5,942.1 713.9,949.8 714.2,946.3 714.5,949.8 714.8,943.7 715.1,949.4 715.5,943 715.8,949.2 716.1,944.8 716.4,949.4 716.7,946.1 717.1,948.2 717.4,944.3 717.7,950.7 718,942 718.3,948.9 718.7,942.9 719,949 719.3,943.8 719.6,948.5 719.9,942.3 720.3,948.2 720.6,944.9 720.9,950.1 721.2,943.5 721.5,949.6 721.9,942.2 722.2,948.7 722.5,945.1 722.8,949.5 723.1,942.6 723.5,952 723.8,943.6 724.1,949 724.4,946.8 724.7,951.6 725.1,946 725.4,950.1 725.7,941.1 726,951.8 726.3,944.6 726.7,950.3 727,946.8 727.3,951.5 727.6,942.4 727.9,951 728.3,945.1 728.6,951.9 728.9,946 729.2,951.2 729.5,946.9 729.9,952.9 730.2,947.4 730.5,952.2 730.8,946.7 731.1,950 731.5,946.5 731.8,948.8 732.1,945.3 732.4,952.5 732.7,945.9 733.1,953 733.4,945.6 733.7,949.8 734,943.2 734.3,948.2 734.7,943.4 735,948.1 735.3,943.2 735.6,946.9 735.9,940.8 736.3,945.8 736.6,940.1 736.9,945 737.2,939.8 737.5,944.1 737.9,940 738.2,944.3 738.5,938.5 738.8,941.8 739.1,939.3 739.5,942.8 739.8,937.1 740.1,942.8 740.4,929.9 740.7,941.2 741.1,932.9 741.4,939.1 741.7,933.2 742,938.7 742.3,932.2 742.7,941.8 743,933.3 743.3,937.5 743.6,931.1 743.9,936.9 744.3,931.9 744.6,938 744.9,929.3 745.2,936.1 745.5,930.5 745.9,934.9 746.2,930.3 746.5,934.7 746.8,927.9 747.1,934.4 747.5,927.7 747.8,933.5 748.1,926.4 748.4,935.5 748.7,929.1 749.1,935.1 749.4,930.9 749.7,934.2 750,927.7 750.3,934.2 750.7,928 751,939.8 751.3,928.5 751.6,935.6 751.9,928.2 752.3,935.3 752.6,929.3 752.9,936.2 753.2,931.3 753.5,938.1 753.9,931 754.2,936 754.5,930.5 754.8,937.8 755.1,931.7 755.5,937.3 755.8,932.8 756.1,937.8 756.4,934 756.7,938.8 757.1,932.2 757.4,937.8 757.7,933.8 758,940.8 758.3,935 758.7,939.6 759,933.4 759.3,939 759.6,935.6 759.9,938.8 760.3,933.6 760.6,937.3 760.9,932.6 761.2,937 761.5,931.8 761.9,937 762.2,930.6 762.5,935.5 762.8,928.7 763.1,932.6 763.5,924.9 763.8,930.2 764.1,923.6 764.4,925.6 764.7,916.6 765.1,922.6 765.4,916 765.7,925 766,914.9 766.3,921.8 766.7,914.3 767,918.8 767.3,911.9 767.6,917.5 767.9,909.5 768.3,911.2 768.6,902 768.9,904.7 769.2,894 769.5,895.1 769.9,882.8 770.2,880.6 770.5,862.7 770.8,862.7 771.1,843.9 771.5,830.8 771.8,807.2 772.1,789.3 772.4,753.5 772.7,723.9 773.1,670 773.4,636.3 773.7,636.3 774,636.3 774.3,636.3 774.7,636.3 775,636.3 775.3,636.3 775.6,636.3 775.9,636.3 776.3,636.3 776.6,636.3 776.9,662.3 777.2,721.5 777.5,749.7 777.9,787.9 778.2,805.5 778.5,831.8 778.8,841.3 779.1,860.2 779.5,862.2 779.8,880.5 780.1,884.2 780.4,894 780.7,894.1 781.1,906.9 781.4,901.7 781.7,913.9 782,911.8 782.3,918.1 782.7,916.4 783,926.8 783.3,919.7 783.6,927.4 783.9,924.5 784.3,931.2 784.6,925.5 784.9,931.4 785.2,927.9 785.5,933.8 785.9,929.7 786.2,935.9 786.5,931.9 786.8,936.3 787.1,933 787.5,939.5 787.8,933.4 788.1,941.6 788.4,935.7 788.7,942.9 789.1,934.4 789.4,942.4 789.7,936.9 790,941.4 790.3,936.1 790.7,942.3 791,936.6 791.3,944.6 791.6,936.1 791.9,943.7 792.3,938.9 792.6,948.4 792.9,938.1 793.2,945 793.5,939.5 793.9,946.8 794.2,939.2 794.5,945.6 794.8,939.4 795.1,945.7 795.5,941.3 795.8,945 796.1,939.8 796.4,946.9 796.7,940.2 797.1,946.7 797.4,939.6 797.7,945.9 798,941.7 798.3,949.1 798.7,942 799,945.4 799.3,941.7 799.6,947.1 799.9,942 800.3,945.8 800.6,941.7 800.9,948.2 801.2,943.6 801.5,946.8 801.9,941.9 802.2,949.2 802.5,942.8 802.8,947.8 803.1,943.6 803.5,948.4 803.8,942.8 804.1,948.7 804.4,943.5 804.7,947.8 805.1,944.3 805.4,948.5 805.7,943.7 806,950.6 806.3,944.1 806.7,948.4 807,943.3 807.3,952.3 807.6,943.5 807.9,949.1 808.3,942.5 808.6,949.4 808.9,941.9 809.2,949.6 809.5,942.1 809.9,947.5 810.2,943.3 810.5,948.1 810.8,941.9 811.1,947.3 811.5,942.2 811.8,948.4 812.1,942.2 812.4,948.6 812.7,941.9 813.1,948.7 813.4,944 813.7,951 814,942.6 814.3,948.9 814.7,943.6 815,949.3 815.3,944.4 815.6,947.7 815.9,942 816.3,948.5 816.6,943.5 816.9,948.2 817.2,943.5 817.5,948.9 817.9,944 818.2,948.9 818.5,942.7 818.8,948.4 819.1,943.8 819.5,951.3 819.8,944.1 820.1,948 820.4,943.4 820.7,949.9 821.1,941.2 821.4,946 821.7,940.6 822,945.6 822.3,943 822.7,948.9 823,941.4 823.3,947.7 823.6,942.4 823.9,946.7 824.3,942.1 824.6,948 824.9,939.6 825.2,947.9 825.5,941.2 825.9,946.2 826.2,941.5 826.5,947.3 826.8,941.2 827.1,947.4 827.5,938.9 827.8,945 828.1,939.7 828.4,945 828.7,940.2 829.1,946.3 829.4,938.9 829.7,946.8 830,940.6 830.3,944.1 830.7,938.7 831,944.7 831.3,938.7 831.6,943.7 831.9,938.2 832.3,945 832.6,935.6 832.9,945 833.2,937.1 833.5,941.7 833.9,938.4 834.2,947.1 834.5,937.4 834.8,942.8 835.1,938.5 835.5,943.8 835.8,938.2 836.1,943 836.4,934 836.7,939.5 837.1,933.6 837.4,941 837.7,933.9 838,936.9 838.3,931.6 838.7,936.2 839,929.1 839.3,937.6 839.6,929.1 839.9,932.2 840.3,925.3 840.6,929.6 840.9,924.6 841.2,929 841.5,919.6 841.9,924.9 842.2,917.6 842.5,927.9 842.8,914.5 843.1,921.8 843.5,909.8 843.8,913.3 844.1,906.7 844.4,910.3 844.7,898.7 845.1,902.2 845.4,890.7 845.7,891.5 846,879.2 846.3,879.6 846.7,859.9 847,863 847.3,845.2 847.6,838.3 847.9,817.9 848.3,805.8 848.6,779.4 848.9,757.9 849.2,723.5 849.5,691.9 849.9,643.4 850.2,636.3 850.5,636.3 850.8,636.3 851.1,636.3 851.5,636.3 851.8,636.3 852.1,636.3 852.4,636.3 852.7,636.3 853.1,636.3 853.4,636.3 853.7,636.3 854,636.3 854.3,668.3 854.7,715.3 855,743.1 855.3,772.4 855.6,790 855.9,815.7 856.3,825.2 856.6,846.3 856.9,851.6 857.2,866 857.5,868.6 857.9,882.8 858.2,880.7 858.5,894.4 858.8,892.4 859.1,903.6 859.5,899.9 859.8,910.4 860.1,906.8 860.4,916.9 860.7,913.1 861.1,922.9 861.4,917.5 861.7,926.2 862,921.2 862.3,926.4 862.7,923.4 863,930 863.3,924.2 863.6,931.6 863.9,926.6 864.3,934.5 864.6,929.5 864.9,937.6 865.2,933 865.5,939.9 865.9,931.1 866.2,937.3 866.5,932 866.8,938.1 867.1,934.2 867.5,939.9 867.8,934.4 868.1,941.9 868.4,934.1 868.7,941 869.1,934.8 869.4,938.2 869.7,930.5 870,934.1 870.3,926.2 870.7,927.3 871,913.9 871.3,917.6 871.6,911.7 871.9,924.9 872.3,924.2 872.6,935.7 872.9,931.9 873.2,940.1 873.5,936.2 873.9,943.1 874.2,940 874.5,948.7 874.8,939.2 875.1,946.3 875.5,939.7 875.8,946.4 876.1,942.1 876.4,945.3 876.7,941.3 877.1,948.4 877.4,941.7 877.7,948 878,941.9 878.3,948.4 878.7,941.5 879,947.1 879.3,942.9 879.6,953.8 879.9,942.3 880.3,946.8 880.6,943 880.9,947.6 881.2,940.5 881.5,946.9 881.9,941.1 882.2,948.4 882.5,944.7 882.8,949.9 883.1,943.5 883.5,950 883.8,942.2 884.1,947.2 884.4,942.2 884.7,946.9 885.1,943.1 885.4,947.5 885.7,940.3 886,946.7 886.3,943.2 886.7,946.6 887,941 887.3,948.1 887.6,942.1 887.9,948.4 888.3,941.2 888.6,949.3 888.9,940.6 889.2,947.4 889.5,942.3 889.9,948.3 890.2,941.7 890.5,947 890.8,942.9 891.1,949.6 891.5,942.8 891.8,948.3 892.1,943.9 892.4,948.3 892.7,942.9 893.1,948.9 893.4,944.1 893.7,948.4 894,941.7 894.3,950.2 894.7,941.1 895,948.4 895.3,942.6 895.6,948.4 895.9,940.9 896.3,948.7 896.6,944.1 896.9,951.8 897.2,944.9 897.5,949.8 897.9,940.4 898.2,948.1 898.5,942.9 898.8,949 899.1,943.2 899.5,949.3 899.8,942.8 900.1,947.4 900.4,944.7 900.7,950.1 901.1,943.4 901.4,950.3 901.7,944.9 902,950.5 902.3,943.7 902.7,948.3 903,941.1 903.3,949.2 903.6,943.3 903.9,952.4 904.3,944.2 904.6,948 904.9,944.2 905.2,948.4 905.5,944 905.9,949.4 906.2,944.1 906.5,949.9 906.8,943.3 907.1,948.3 907.5,941.5 907.8,949.4 908.1,942.9 908.4,950.4 908.7,943.8 909.1,951.1 909.4,944.9 909.7,952.2 910,943 910.3,949.3 910.7,944.5 911,948.8 911.3,944 911.6,950.8 911.9,943.1 912.3,951.9 912.6,944.9 912.9,948.9 913.2,944.3 913.5,948.8 913.9,942.9 914.2,949.7 914.5,942.1 914.8,948.3 915.1,943.1 915.5,948.2 915.8,939.7 916.1,948.2 916.4,941 916.7,951 917.1,941.7 917.4,947.9 917.7,941.1 918,949.6 918.3,941.2 918.7,947.4 919,941.7 919.3,946.3 919.6,943.1 919.9,945.4 920.3,941.8 920.6,945.1 920.9,938 921.2,946.6 921.5,940.2 921.9,944.3 922.2,936.3 922.5,945.8 922.8,935 923.1,939.5 923.5,928 923.8,937.4 924.1,930.5 924.4,932.1 924.7,927.8 925.1,933.6 925.4,929.6 925.7,937 926,933.4 926.3,941.2 926.7,934.1 927,941.3 927.3,936.1 927.6,941.8 927.9,937.1 928.3,942.9 928.6,934.2 928.9,938.1 929.2,933.4 929.5,935.8 929.9,930.1 930.2,936.9 930.5,930.2 930.8,937.2 931.1,936.3 931.5,943.2 931.8,937.5 932.1,944.4 932.4,940.1 932.7,948 933.1,942.6 933.4,947 933.7,943.2 934,949.2 934.3,943.6 934.7,949.9 935,944 935.3,951.9 935.6,943.2 935.9,948.9 936.3,944.8 936.6,949.5 936.9,942.9 937.2,948.9 937.5,944.5 937.9,948.5 938.2,945 938.5,951.1 938.8,945.1 939.1,952.1 939.5,943.1 939.8,950.1 940.1,945.7 940.4,950 940.7,945 941.1,955.4 941.4,944.2 941.7,950.5 942,945.8 942.3,952 942.7,943.8 943,949.7 943.3,948 943.6,952.9 943.9,944.8 944.3,952.9 944.6,944.7 944.9,952.3 945.2,947.2 945.5,951.3 945.9,944.3 946.2,955.5 946.5,945.1 946.8,951.4 947.1,944.6 947.5,950 947.8,946.2 948.1,951.8 948.4,944.6 948.7,951.3 949.1,945.3 949.4,951.9 949.7,945.1 950,950.6 950.3,946 950.7,952.1 951,945.3 951.3,950 951.6,945.1 951.9,949.7 952.3,942.5 952.6,950.8 952.9,940.5 953.2,950.9 953.5,946.6 953.9,951.3 954.2,943.7 954.5,951.4 954.8,938.8 955.1,949.3 955.5,945.2 955.8,950.2 956.1,946.6 956.4,950.7 956.7,947.7 957.1,952.9 957.4,948.1 957.7,951.4 958,946.9 958.3,953.6 958.7,944.8 959,952.5 959.3,944.5 959.6,952.5 959.9,944.8 960.3,951.4 960.6,944.1 960.9,952.3 961.2,944.2 961.5,950 961.9,944.1 962.2,952.1 962.5,944.1 962.8,953.5 963.1,942.9 963.5,950.8 963.8,945.9 964.1,950.9 964.4,948.3 964.7,951.2 965.1,946.1 965.4,952.7 965.7,947.7 966,951.7 966.3,945.9 966.7,951.4 967,947.4 967.3,951.4 967.6,946.2 967.9,951.6 968.3,947.8 968.6,950.8 968.9,944.3 969.2,949.7 969.5,944.3 969.9,949.3 970.2,945.2 970.5,950.5 970.8,942.7 971.1,949.3 971.5,946 971.8,949.9 972.1,944.4 972.4,952.5 972.7,944.4 973.1,950.8 973.4,945.2 973.7,953.1 974,947.1 974.3,951.6 974.7,943.9 975,951.9 975.3,942.2 975.6,952.7 975.9,943.9 976.3,949.8 976.6,945 976.9,951.1 977.2,945.7 977.5,949.7 977.9,946 978.2,948.7 978.5,943.9 978.8,949.2 979.1,944 979.5,950.6 979.8,946.4 980.1,952.8 980.4,946.4 980.7,953 981.1,945.8 981.4,953.4 981.7,944.5 982,950.1 982.3,940.3 982.7,949.5 983,944.4 983.3,953.4 983.6,944.5 983.9,950.2 984.3,946.3 984.6,950.4 984.9,945.2 985.2,951.6 985.5,945.6 985.9,951.9 986.2,945.6 986.5,951 986.8,944.2 987.1,953.6 987.5,948.3 987.8,953.1 988.1,945.7 988.4,953.7 988.7,947.2 989.1,952.3 989.4,946 989.7,951.9 990,943.7 990.3,952 990.7,945.7 991,949.8 991.3,947.6 991.6,950.2 991.9,946.2 992.3,953.8 992.6,946.4 992.9,950.7 993.2,946.4 993.5,954.1 993.9,945.5 994.2,950.5 994.5,946.7 994.8,951.4 995.1,946 995.5,951.5 995.8,947.9 996.1,955.6 996.4,947.2 996.7,953.8 997.1,946.3 997.4,951.2 997.7,945.9 998,953 998.3,946 998.7,951.3 999,944.7 999.3,952.5 999.6,945.3 999.9,953.7 1000.3,945.1 1000.6,949.8 1000.9,945.8 1001.2,949.2 1001.5,943.5 1001.9,952.4 1002.2,944.8 1002.5,952.6 1002.8,942.9 1003.1,950.7 1003.5,944.4 1003.8,948.9 1004.1,944.3 1004.4,950.3 1004.7,944.9 1005.1,952.8 1005.4,945.8 1005.7,951.3 1006,946.9 1006.3,952.4 1006.7,944.9 1007,950.9 1007.3,945.6 1007.6,955 1007.9,942.6 1008.3,950.1 1008.6,945.5 1008.9,953.6 1009.2,942.5 1009.5,951 1009.9,943.2 1010.2,950.6 1010.5,945 1010.8,953.6 1011.1,943.7 1011.5,952.7 1011.8,947.6 1012.1,952.4 1012.4,944.5 1012.7,950.5 1013.1,946.3 1013.4,950 1013.7,943.1 1014,953.4 1014.3,944.3 1014.7,950.2 1015,942.9 1015.3,948.9 1015.6,945.9 1015.9,951.1 1016.3,944.6 1016.6,952.9 1016.9,945.1 1017.2,949.8 1017.5,944.1 1017.9,950.6 1018.2,946.3 1018.5,950.3 1018.8,944.3 1019.1,947.8 1019.5,946 1019.8,951.4 1020.1,945.5 1020.4,950.3 1020.7,945.9 1021.1,950.6 1021.4,944.7 1021.7,949.5 1022,943.5 1022.3,952.8 1022.7,943.5 1023,948.8 1023.3,943.2 1023.6,949.5 1023.9,945.1 1024.3,950.3 1024.6,943.4 1024.9,948.5 1025.2,942.5 1025.5,951.8 1025.9,946.7 1026.2,951.2 1026.5,945.9 1026.8,952.9 1027.1,944.9 1027.5,952.4 1027.8,947 1028.1,950.9 1028.4,948.2 1028.7,953.1 1029.1,946.3 1029.4,951.8 1029.7,946.2 1030,952 1030.3,944.6 1030.7,950.5 1031,944.4 1031.3,950.3 1031.6,946 1031.9,953.7 1032.3,945 1032.6,948.9 1032.9,942.9 1033.2,951.6 1033.5,944.8 1033.9,950 1034.2,943.7 1034.5,952.5 1034.8,944.8 1035.1,952.5 1035.5,944.9 1035.8,950.2 1036.1,944.4 1036.4,950.1 1036.7,944.9 1037.1,951.4 1037.4,943.1 1037.7,950.2 1038,944.3 1038.3,950.3 1038.7,944.7 1039,950.9 1039.3,945.8 1039.6,948.8 1039.9,944.1 1040.3,948.9 1040.6,944.1 1040.9,949.2 1041.2,944 1041.5,951.6 1041.9,943.8 1042.2,950.8 1042.5,945.8 1042.8,952.9 1043.1,946.5 1043.5,952.2 1043.8,945.8 1044.1,949.9 1044.4,946.4 1044.7,952.5 1045.1,947 1045.4,953.3 1045.7,946.3 1046,955.6 1046.3,946.6 1046.7,952.7 1047,945.5 1047.3,953.1 1047.6,947.2 1047.9,951.2 1048.3,946.4 1048.6,950.8 1048.9,944.5 1049.2,952.4 1049.5,944.9 1049.9,950.9 1050.2,941.7 1050.5,949.9 1050.8,946.6 1051.1,949.8 1051.5,944.3 1051.8,950.4 1052.1,946.5 1052.4,951 1052.7,944.1 1053.1,952.9 1053.4,947.1 1053.7,951.4 1054,944.7 1054.3,952.1 1054.7,946.6 1055,952.9 1055.3,944.9 1055.6,950.5 1055.9,942.5 1056.3,950.4 1056.6,945.6 1056.9,949.9 1057.2,944.5 1057.5,951.3 1057.9,944.2 1058.2,949.7 1058.5,942.6 1058.8,951.4 1059.1,943 1059.5,951.5 1059.8,945.9 1060.1,951.5 1060.4,945.7 1060.7,952.1 1061.1,947 1061.4,951.5 1061.7,945 1062,950.4 1062.3,945.9 1062.7,950.6 1063,947.3 1063.3,952.3 1063.6,947.1 1063.9,953.1 1064.3,946.8 1064.6,951.4 1064.9,947.1 1065.2,952.3 1065.5,943.5 1065.9,950.9 1066.2,945.5 1066.5,950.5 1066.8,944.6 1067.1,950.1 1067.5,943.7 1067.8,949.9 1068.1,946.4 1068.4,950.5 1068.7,944.9 1069.1,952.1 1069.4,945.5 1069.7,953.4 1070,942.1 1070.3,951.9 1070.7,944.5 1071,951.3 1071.3,946 1071.6,950.3 1071.9,946.1 1072.3,951.9 1072.6,944.9 1072.9,950.3 1073.2,945.1 1073.5,950.8 1073.9,946 1074.2,952 1074.5,945.4 1074.8,954.4 1075.1,946.2 1075.5,949.2 1075.8,944.7 1076.1,953.5 1076.4,944.8 1076.7,955.6 1077.1,944.7 1077.4,950.3 1077.7,946.1 1078,951.6 1078.3,945.1 1078.7,952 1079,947.1 1079.3,949.7 1079.6,945.7 1079.9,953 1080.3,947.2 1080.6,952.5 1080.9,946.5 1081.2,951.9 1081.5,946.8 1081.9,953.3 1082.2,944.8 1082.5,953.4 1082.8,945.1 1083.1,950 1083.5,943.2 1083.8,953.3 1084.1,946.6 1084.4,950.7 1084.7,944.3 1085.1,950 1085.4,946.3 1085.7,949.6 1086,932.1 1086.3,948.4 1086.7,946.2 1087,953.1 1087.3,945.5 1087.6,950.3 1087.9,946.3 1088.3,950.9 1088.6,945 1088.9,953.2 1089.2,946.6 1089.5,950.4 1089.9,944.1 1090.2,952.8 1090.5,944.9 1090.8,952.7 1091.1,944.7 1091.5,948.4 1091.8,943 1092.1,948.3 1092.4,944.2 1092.7,949.9 1093.1,943.3 1093.4,948.3 1093.7,944 1094,949 1094.3,945 1094.7,949.9 1095,943.8 1095.3,949.6 1095.6,942.8 1095.9,950.5 1096.3,943.4 1096.6,950 1096.9,943.9 1097.2,951.2 1097.5,945.5 1097.9,951.8 1098.2,944.1 1098.5,949.8 1098.8,946.3 1099.1,949.7 1099.5,944.8 1099.8,949.2 1100.1,943.6 1100.4,949.8 1100.7,942.9 1101.1,948.1 1101.4,943.4 1101.7,949.3 1102,945 1102.3,951.6 1102.7,945.1 1103,948.7 1103.3,944.9 1103.6,951.4 1103.9,944.9 1104.3,950 1104.6,943 1104.9,949.1 1105.2,943.9 1105.5,947.7 1105.9,942.7 1106.2,947.8 1106.5,944 1106.8,949.1 1107.1,943.1 1107.5,949 1107.8,943.4 1108.1,950.7 1108.4,944.1 1108.7,950.6 1109.1,944.2 1109.4,949.5 1109.7,943.1 1110,948.8 1110.3,940 1110.7,948.2 1111,945.9 1111.3,950 1111.6,945.3 1111.9,951.2 1112.3,944 1112.6,950.4 1112.9,945.4 1113.2,950.9 1113.5,946.1 1113.9,950.9 1114.2,944.3 1114.5,949.3 1114.8,946.5 1115.1,950.3 1115.5,944.8 1115.8,950.9 1116.1,944.3 1116.4,951.7 1116.7,941.7 1117.1,950.7 1117.4,942.8 1117.7,949.8 1118,943.6 1118.3,950.3 1118.7,945.1 1119,952 1119.3,945.4 1119.6,952.5 1119.9,946.5 1120.3,952.6 1120.6,947 1120.9,951.5 1121.2,947 1121.5,953.2 1121.9,947.7 1122.2,951.8 1122.5,945.6 1122.8,950.5 1123.1,944.8 1123.5,951 1123.8,943.7 1124.1,950.4 1124.4,947.1 1124.7,950.8 1125.1,945.7 1125.4,952.5 1125.7,945.8 1126,954.1 1126.3,946.5 1126.7,952.1 1127,947.2 1127.3,950.2 1127.6,943.1 1127.9,950.2 1128.3,945.8 1128.6,949.4 1128.9,942.3 1129.2,950.8 1129.5,943.1 1129.9,949.3 1130.2,943.6 1130.5,949.3 1130.8,945 1131.1,949.4 1131.5,942.6 1131.8,951.1 1132.1,944.8 1132.4,951.2 1132.7,941.7 1133.1,950.1 1133.4,943.8 1133.7,950.2 1134,945.6 1134.3,951.4 1134.7,944.7 1135,950.9 1135.3,944.1 1135.6,949.8 1135.9,942.8 1136.3,949.7 1136.6,944.5 1136.9,950.5 1137.2,944 1137.5,949.6 1137.9,944.5 1138.2,951.4 1138.5,946.4 1138.8,951.7 1139.1,944.8 1139.5,951.8 1139.8,945.9 1140.1,954.3 1140.4,944.2 1140.7,950.1 1141.1,941.5 1141.4,950.7 1141.7,944.1 1142,955.3 1142.3,945.6 1142.7,952.5 1143,945.7 1143.3,949.9 1143.6,944.6 1143.9,950.6 1144.3,945.4 1144.6,951.8 1144.9,943.6 1145.2,951.8 1145.5,945.9 1145.9,952.6 1146.2,946.3 1146.5,950.9 1146.8,945.3 1147.1,954.5 1147.5,944.4 1147.8,951.6 1148.1,946.7 1148.4,950.5 1148.7,947.3 1149.1,951.3 1149.4,945.4 1149.7,950.7 1150,943.6 1150.3,952.1 1150.7,943.3 1151,949.4 1151.3,942.3 1151.6,948.6 1151.9,942.6 1152.3,951.9 1152.6,943.9 1152.9,949.2 1153.2,941.4 1153.5,948.1 1153.9,943.9 1154.2,947.9 1154.5,941.2 1154.8,948.2 1155.1,941.7 1155.5,949.4 1155.8,942 1156.1,949 1156.4,943.6 1156.7,949 1157.1,945.6 1157.4,950 1157.7,944.9 1158,949.2 1158.3,944.6 1158.7,949.8 1159,944.2 1159.3,949.9 1159.6,946.3 1159.9,951 1160.3,944.5 1160.6,952.5 1160.9,942.5 1161.2,953.1 1161.5,946.3 1161.9,950.5 1162.2,945.5 1162.5,951.6 1162.8,945.5 1163.1,949.3 1163.5,945.3 1163.8,950.6 1164.1,942.1 1164.4,952.4 1164.7,944 1165.1,951.7 1165.4,943.1 1165.7,949 1166,944 1166.3,949.8 1166.7,941.7 1167,949.3 1167.3,942.4 1167.6,947.6 1167.9,941.2 1168.3,950 1168.6,943.3 1168.9,949.4 1169.2,942.5 1169.5,947.1 1169.9,942.6 1170.2,949.7 1170.5,944 1170.8,949.7 1171.1,940.5 1171.5,950.5 1171.8,943.7 1172.1,950.9 1172.4,942.2 1172.7,949.7 1173.1,944.8 1173.4,949.9 1173.7,945.6 1174,950.6 1174.3,942.9 1174.7,950.9 1175,942.2 1175.3,950.7 1175.6,941.5 1175.9,951.6 1176.3,945.9 1176.6,949.7 1176.9,943.9 1177.2,949.2 1177.5,946 1177.9,948.3 1178.2,946.1 1178.5,950.1 1178.8,946.4 1179.1,949.5 1179.5,945.4 1179.8,951 1180.1,947.4 1180.4,952.7 1180.7,946.8 1181.1,951.5 1181.4,946.8 1181.7,951.4 1182,945.6 1182.3,952.8 1182.7,946.9 1183,950.1 1183.3,946.1 1183.6,950.9 1183.9,943.8 1184.3,949.5 1184.6,944.6 1184.9,950.3 1185.2,943.9 1185.5,949.3 1185.9,943.1 1186.2,949.6 1186.5,942.9 1186.8,950.7 1187.1,943.6 1187.5,950.1 1187.8,943.6 1188.1,948.5 1188.4,940.6 1188.7,949.4 1189.1,942.2 1189.4,954.9 1189.7,942.5 1190,948 1190.3,943.6 1190.7,951.4 1191,946.2 1191.3,950.8 1191.6,942.4 1191.9,949.1 1192.3,944.9 1192.6,951.5 1192.9,946.7 1193.2,949.7 1193.5,944.3 1193.9,950.4 1194.2,944 1194.5,951.8 1194.8,946 1195.1,950.7 1195.5,943.2 1195.8,950.1 1196.1,945 1196.4,950.9 1196.7,943.5 1197.1,948.5 1197.4,945.2 1197.7,950.8 1198,945.5 1198.3,951.7 1198.7,944.7 1199,949.9 1199.3,943.9 1199.6,951.3 1199.9,948.1 1200.3,951.5 1200.6,945.1 1200.9,950.3 1201.2,945.1 1201.5,950.5 1201.9,943.2 1202.2,950 1202.5,944.6 1202.8,949.9 1203.1,943.8 1203.5,950.3 1203.8,943.8 1204.1,950.2 1204.4,942.8 1204.7,949.3 1205.1,944.5 1205.4,951 1205.7,942.6 1206,950.3 1206.3,945.4 1206.7,952.5 1207,944.6 1207.3,952.1 1207.6,947 1207.9,951.9 1208.3,946.3 1208.6,951.3 1208.9,944.6 1209.2,951.6 1209.5,945.8 1209.9,954.6 1210.2,945.4 1210.5,953 1210.8,941.8 1211.1,950.9 1211.5,944.8 1211.8,950.1 1212.1,944.4 1212.4,951.1 1212.7,942.5 1213.1,948.4 1213.4,942.5 1213.7,951.1 1214,942.6 1214.3,951.2 1214.7,943.8 1215,951.3 1215.3,944.1 1215.6,953.7 1215.9,945.4 1216.3,951.7 1216.6,946 1216.9,952.7 1217.2,945.5 1217.5,950.4 1217.9,944.6 1218.2,949.6 1218.5,944.5 1218.8,952.3 1219.1,942.5 1219.5,950.4 1219.8,944.3 1220.1,949.9 1220.4,945.6 1220.7,950.3 1221.1,943.5 1221.4,952 1221.7,944.4 1222,950.7 1222.3,941.8 1222.7,952.4 1223,944.8 1223.3,951.8 1223.6,944.7 1223.9,950.8 1224.3,945.8 1224.6,952.1 1224.9,940.3 1225.2,951.4 1225.5,945.6 1225.9,954.4 1226.2,946.4 1226.5,950.2 1226.8,943.4 1227.1,948.3 1227.5,946.5 1227.8,950.5 1228.1,944.1 1228.4,952.1 1228.7,937.4 1229.1,949.5 1229.4,945.7 1229.7,949 1230,944.5 1230.3,950.2 1230.7,946 1231,951 1231.3,946.9 1231.6,951 1231.9,946.3 1232.3,950.3 1232.6,947.3 1232.9,950.6 1233.2,946.6 1233.5,952.5 1233.9,944.3 1234.2,950.1 1234.5,943 1234.8,952.1 1235.1,943.7 1235.5,951.1 1235.8,944.6 1236.1,950.1 1236.4,944.9 1236.7,950.7 1237.1,943.5 1237.4,951.9 1237.7,945.5 1238,950.2 1238.3,945.9 1238.7,952 1239,945 1239.3,949.7 1239.6,943.4 1239.9,950.5 1240.3,944.3 1240.6,949.9 1240.9,944 1241.2,951.6 1241.5,944.3 1241.9,950.7 1242.2,946.1 1242.5,950.2 1242.8,944.4 1243.1,950.6 1243.5,945.1 1243.8,952.8 1244.1,943.8 1244.4,950.6 1244.7,943.2 1245.1,949.8 1245.4,944.9 1245.7,949.9 1246,945.1 1246.3,949.5 1246.7,945 1247,949.3 1247.3,943.4 1247.6,949.2 1247.9,943.6 1248.3,949.9 1248.6,941.7 1248.9,952.7 1249.2,941.7 1249.5,951.7 1249.9,945.7 1250.2,951 1250.5,945.3 1250.8,950.3 1251.1,943.7 1251.5,949.8 1251.8,945.9 1252.1,950.5 1252.4,945 1252.7,948.2 1253.1,945 1253.4,949.4 1253.7,944.4 1254,950.2 1254.3,943.9 1254.7,951.8 1255,945.6 1255.3,950.8 1255.6,945.3 1255.9,953.3 1256.3,944 1256.6,952.3 1256.9,945.4 1257.2,952 1257.5,945.9 1257.9,947.9 1258.2,944.9 1258.5,949.6 1258.8,945.2 1259.1,951.4 1259.5,944.7 1259.8,951.1 1260.1,943.8 1260.4,950.6 1260.7,945.3 1261.1,950.3 1261.4,945.3 1261.7,952.1 1262,944.1 1262.3,951.6 1262.7,947 1263,950.2 1263.3,944.2 1263.6,952.4 1263.9,945.2 1264.3,951.4 1264.6,946.2 1264.9,951.1 1265.2,947.1 1265.5,951.3 1265.9,944 1266.2,949.4 1266.5,945 1266.8,950 1267.1,946.3 1267.5,949.6 1267.8,944.9 1268.1,949.4 1268.4,944.1 1268.7,949.4 1269.1,942.6 1269.4,949.4 1269.7,944.4 1270,949.1 1270.3,941.6 1270.7,948.1 1271,944.5 1271.3,947.3 1271.6,943.4 1271.9,949.7 1272.3,940.6 1272.6,949.9 1272.9,945.2 1273.2,950.3 1273.5,944.6 1273.9,951.4 1274.2,945 1274.5,948.5 1274.8,944.6 1275.1,950.2 1275.5,943.3 1275.8,949.3 1276.1,946.2 1276.4,949.6 1276.7,945.6 1277.1,951 1277.4,945.3 1277.7,948.2 1278,945.7 1278.3,951.4 1278.7,944.8 1279,949.7 1279.3,943.8 1279.6,950.5 1279.9,941 1280.3,953.5 1280.6,943.7 1280.9,950 1281.2,944.3 1281.5,951.4 1281.9,945.6 1282.2,952.1 1282.5,943.7 1282.8,949.9 1283.1,943 1283.5,949.7 1283.8,944.4 1284.1,948.9 1284.4,943.3 1284.7,947.5 1285.1,943.1 1285.4,947.2 1285.7,940.6 1286,948.7 1286.3,943.8 1286.7,949 1287,943.2 1287.3,948.9 1287.6,944.6 1287.9,947.5 1288.3,943.6 1288.6,948.7 1288.9,944.2 1289.2,949.2 1289.5,944.9 1289.9,947 1290.2,943.6 1290.5,949.4 1290.8,944 1291.1,948.7 1291.5,945.3 1291.8,947.3 1292.1,943.6 1292.4,950.8 1292.7,942.9 1293.1,949.5 1293.4,944 1293.7,950.8 1294,945.7 1294.3,950.5 1294.7,945.7 1295,950.7 1295.3,944.4 1295.6,951.7 1295.9,944.9 1296.3,950.7 1296.6,945 1296.9,950.3 1297.2,946.3 1297.5,951.7 1297.9,945.9 1298.2,951.5 1298.5,943.8 1298.8,949.9 1299.1,944.2 1299.5,950.9 1299.8,943.8 1300.1,950.4 1300.4,946.5 1300.7,949.5 1301.1,940.3 1301.4,950.5 1301.7,943.8 1302,950.5 1302.3,945.9 1302.7,951.9 1303,944.9 1303.3,950.5 1303.6,944.6 1303.9,947.7 1304.3,942.9 1304.6,948.6 1304.9,945.1 1305.2,950.9 1305.5,945 1305.9,950.2 1306.2,945.3 1306.5,948.1 1306.8,944.1 1307.1,949.6 1307.5,944.2 1307.8,950.3 1308.1,945.7 1308.4,949.1 1308.7,943.3 1309.1,950.8 1309.4,944.9 1309.7,950.5 1310,945.3 1310.3,951.9 1310.7,946.9 1311,952.3 1311.3,946.4 1311.6,952.3 1311.9,947.3 1312.3,950.4 1312.6,946.5 1312.9,953.4 1313.2,947.4 1313.5,949.5 1313.9,945.2 1314.2,950.4 1314.5,944.7 1314.8,952.2 1315.1,941.9 1315.5,949.5 1315.8,939 1316.1,948.7 1316.4,941.8 1316.7,950.3 1317.1,943.5 1317.4,949.7 1317.7,944.3 1318,948.5 1318.3,944.9 1318.7,950.2 1319,943.8 1319.3,948.9 1319.6,945.7 1319.9,950.7 1320.3,945.3 1320.6,950.7 1320.9,944.5 1321.2,952.1 1321.5,945.8 1321.9,952.3 1322.2,944.8 1322.5,951.2 1322.8,943.6 1323.1,949.5 1323.5,947 1323.8,951.7 1324.1,945.9 1324.4,950 1324.7,945.2 1325.1,951.7 1325.4,945.1 1325.7,949.3 1326,944.8 1326.3,949.1 1326.7,945.3 1327,949.6 1327.3,945.2 1327.6,952.4 1327.9,943.5 1328.3,949.1 1328.6,944.1 1328.9,948.3 1329.2,942.8 1329.5,952.1 1329.9,945.1 1330.2,950.7 1330.5,943.3 1330.8,950.5 1331.1,944.6 1331.5,950.1 1331.8,945.4 1332.1,951.5 1332.4,945.8 1332.7,949.7 1333.1,944.4 1333.4,949.4 1333.7,944.6 1334,953 1334.3,942.7 1334.7,950.4 1335,945.9 1335.3,952.8 1335.6,946.4 1335.9,951 1336.3,945.5 1336.6,950.5 1336.9,946.2 1337.2,948.1 1337.5,944.7 1337.9,949 1338.2,943.7 1338.5,951.2 1338.8,945.9 1339.1,949 1339.5,943.4 1339.8,949.2 1340.1,946.1 1340.4,951.5 1340.7,946.8 1341.1,950 1341.4,944.6 1341.7,950 1342,945.2 1342.3,948.6 1342.7,945 1343,952.2 1343.3,941.7 1343.6,950.7 1343.9,943.3 1344.3,951.1 1344.6,945.3 1344.9,959.1 1345.2,943.7 1345.5,949.7 1345.9,943.5 1346.2,950.8 1346.5,946.2 1346.8,951.9 1347.1,944.7 1347.5,950.3 1347.8,945.2 1348.1,952.1 1348.4,948.3 1348.7,949.9 1349.1,945 1349.4,950.6 1349.7,946.1 1350,953.4 1350.3,946.6 1350.7,950.1 1351,944.7 1351.3,948.4 1351.6,945.1 1351.9,949 1352.3,941.6 1352.6,948 1352.9,944.7 1353.2,949.7 1353.5,944.3 1353.9,948.4 1354.2,945.1 1354.5,951.6 1354.8,945.2 1355.1,950.4 1355.5,947.2 1355.8,950.7 1356.1,946 1356.4,952.5 1356.7,946.1 1357.1,949.4 1357.4,943.9 1357.7,951.9 1358,944.5 1358.3,950.1 1358.7,943.8 1359,948.9 1359.3,943.5 1359.6,949.3 1359.9,944.1 1360.3,951.1 1360.6,944.2 1360.9,950.3 1361.2,946.7 1361.5,953.5 1361.9,943 1362.2,950.4 1362.5,945.6 1362.8,950.7 1363.1,944.6 1363.5,952.4 1363.8,946.2 1364.1,951.1 1364.4,944.1 1364.7,949.5 1365.1,943.7 1365.4,948.5 1365.7,941.3 1366,950.6 1366.3,942.2 1366.7,949 1367,943.7 1367.3,950.4 1367.6,946.4 1367.9,952.4 1368.3,946.2 1368.6,950.4 1368.9,944.2 1369.2,951.1 1369.5,944.5 1369.9,954.1 1370.2,945.3 1370.5,951.4 1370.8,945.3 1371.1,950 1371.5,942.7 1371.8,950.6 1372.1,943.4 1372.4,952 1372.7,946.1 1373.1,956.5 1373.4,941.6 1373.7,951.2 1374,941.9 1374.3,951.7 1374.7,945.8 1375,951.4 1375.3,943.1 1375.6,950.1 1375.9,946 1376.3,952.8 1376.6,943.3 1376.9,950.4 1377.2,943.7 1377.5,950.2 1377.9,945 1378.2,950.2 1378.5,944.1 1378.8,951.1 1379.1,944.1 1379.5,950.8 1379.8,944.8 1380.1,950 1380.4,944.8 1380.7,948.7 1381.1,945.6 1381.4,951.4 1381.7,943.2 1382,952.6 1382.3,944.6 1382.7,950.5 1383,945 1383.3,951.4 1383.6,945.7 1383.9,951.7 1384.3,940.3 1384.6,951.3 1384.9,943.7 1385.2,949.4 1385.5,944.5 1385.9,951.2 1386.2,942.9 1386.5,951.5 1386.8,942.4 1387.1,953.6 1387.5,944.5 1387.8,949.3 1388.1,944.8 1388.4,950.7 1388.7,945.1 1389.1,952.5 1389.4,946.7 1389.7,952.8 1390,942.5 1390.3,952.2 1390.7,941.2 1391,951.2 1391.3,944.9 1391.6,949.8 1391.9,944.5 1392.3,951.4 1392.6,944.4 1392.9,948.8 1393.2,945.7 1393.5,949.8 1393.9,944.1 1394.2,951.6 1394.5,943.7 1394.8,949.5 1395.1,944.9 1395.5,951.7 1395.8,943.7 1396.1,949.7 1396.4,945.8 1396.7,952.3 1397.1,944.2 1397.4,950.9 1397.7,945.1 1398,950.7 1398.3,943.1 1398.7,949.2 1399,943.8 1399.3,951.4 1399.6,943.1 1399.9,949.4 1400.3,943.6 1400.6,949.5 1400.9,942.2 1401.2,950.4 1401.5,944.4 1401.9,950.2 1402.2,944.1 1402.5,952 1402.8,946.2 1403.1,950.9 1403.5,945.6 1403.8,950.9 1404.1,944.4 1404.4,949.5 1404.7,943.8 1405.1,949.8 1405.4,944 1405.7,949.4 1406,944.4 1406.3,951.1 1406.7,944.4 1407,951.3 1407.3,943.2 1407.6,950.2 1407.9,945.3 1408.3,950.5 1408.6,944.4 1408.9,952.1 1409.2,945 1409.5,951.3 1409.9,944.1 1410.2,952.2 1410.5,944.5 1410.8,949.8 1411.1,944.9 1411.5,948.7 1411.8,944.1 1412.1,950.8 1412.4,944.9 1412.7,951.6 1413.1,943.4 1413.4,952 1413.7,945.6 1414,951.2 1414.3,945.1 1414.7,952.6 1415,942.7 1415.3,950.7 1415.6,941.4 1415.9,952.2 1416.3,944.1 1416.6,955.7 1416.9,946.8 1417.2,950 1417.5,945.1 1417.9,952.4 1418.2,943 1418.5,948 1418.8,943.1 1419.1,948 1419.5,943 1419.8,949.7 1420.1,943.3 1420.4,949.7 1420.7,943.6 1421.1,950.9 1421.4,944.2 1421.7,948.7 1422,942 1422.3,950.3 1422.7,944.1 1423,948.8 1423.3,944.4 1423.6,949.2 1423.9,941.3 1424.3,947.5 1424.6,944 1424.9,949.5 1425.2,943.6 1425.5,948 1425.9,942.2 1426.2,953.2 1426.5,937.5 1426.8,951.6 1427.1,945.2 1427.5,949.8 1427.8,943.3 1428.1,950.2 1428.4,944.9 1428.7,949.3 1429.1,945.4 1429.4,948.3 1429.7,941.5 1430,950.5 1430.3,944.2 1430.7,951 1431,943 1431.3,951 1431.6,946.8 1431.9,949.5 1432.3,946.1 1432.6,951.8 1432.9,938.1 1433.2,951.6 1433.5,946.4 1433.9,954.8 1434.2,946.1 1434.5,950.4 1434.8,947 1435.1,950.9 1435.5,945.4 1435.8,953.4 1436.1,944.6 1436.4,950.2 1436.7,945.4 1437.1,952.1 1437.4,945.8 1437.7,951 1438,947.3 1438.3,953.8 1438.7,947.4 1439,952.3 1439.3,946 1439.6,951.1 1439.9,945.8 1440.3,950.5 1440.6,944.5 1440.9,949.7 1441.2,944.1 1441.5,949.3 1441.9,942.3 1442.2,952 1442.5,945.2 1442.8,949.9 1443.1,947.6 1443.5,950.8 1443.8,945.2 1444.1,951 1444.4,944.7 1444.7,950.5 1445.1,944.9 1445.4,950 1445.7,946.3 1446,949.5 1446.3,946.1 1446.7,952.6 1447,945.5 1447.3,948.4 1447.6,943.1 1447.9,949.1 1448.3,943.6 1448.6,948.8 1448.9,943 1449.2,949.6 1449.5,943.9 1449.9,950.4 1450.2,945.9 1450.5,950.3 1450.8,945.5 1451.1,948.8 1451.5,945.2 1451.8,949.9 1452.1,943.2 1452.4,949.9 1452.7,945.4 1453.1,951.8 1453.4,946.3 1453.7,951.1 1454,942.1 1454.3,950.3 1454.7,945.8 1455,951.8 1455.3,946.5 1455.6,950.9 1455.9,944.7 1456.3,950.9 1456.6,940.2 1456.9,950.3 1457.2,945.6 1457.5,951.9 1457.9,944.9 1458.2,952.3 1458.5,944.5 1458.8,951.4 1459.1,947.2 1459.5,951.8 1459.8,945.9 1460.1,950.9 1460.4,945.4 1460.7,950.6 1461.1,946.1 1461.4,950.8 1461.7,945.5 1462,951.7 1462.3,946.2 1462.7,954 1463,949.6 1463.3,951.9 1463.6,946.6 1463.9,952.6 1464.3,945.1 1464.6,951.8 1464.9,946.9 1465.2,955 1465.5,945 1465.9,948.5 1466.2,943.2 1466.5,951 1466.8,945.3 1467.1,950.9 1467.5,941.9 1467.8,949.7 1468.1,943.1 1468.4,950.5 1468.7,945.4 1469.1,951.4 1469.4,941 1469.7,950.1 1470,943.9 1470.3,953.9 1470.7,945.1 1471,949.8 1471.3,945.8 1471.6,951.3 1471.9,943.9 1472.3,952 1472.6,944.1 1472.9,952.8 1473.2,946.6 1473.5,950.8 1473.9,944.9 1474.2,950.1 1474.5,944.7 1474.8,948.6 1475.1,945.1 1475.5,951.5 1475.8,941.9 1476.1,949.3 1476.4,945.2 1476.7,950.3 1477.1,943.9 1477.4,952.7 1477.7,944.8 1478,953.3 1478.3,944.8 1478.7,951.4 1479,946.2 1479.3,952.5 1479.6,946.3 1479.9,950.6 1480.3,944.7 1480.6,952.9 1480.9,945.6 1481.2,950.6 1481.5,943.8 1481.9,951.6 1482.2,944.6 1482.5,949.7 1482.8,944 1483.1,951.6 1483.5,945.9 1483.8,951.1 1484.1,944.9 1484.4,951.8 1484.7,945.1 1485.1,950.4 1485.4,946.6 1485.7,951.6 1486,945.5 1486.3,948.7 1486.7,943.8 1487,947.8 1487.3,944 1487.6,949.8 1487.9,945.3 1488.3,948.4 1488.6,943.3 1488.9,948.8 1489.2,943 1489.5,949.7 1489.9,944.8 1490.2,949.5 1490.5,944.2 1490.8,950.9 1491.1,944.7 1491.5,951.1 1491.8,947.5 1492.1,953.3 1492.4,944.5 1492.7,953.4 1493.1,942.3 1493.4,949.7 1493.7,944.2 1494,951.8 1494.3,944.5 1494.7,950.6 1495,945.6 1495.3,950.8 1495.6,943.4 1495.9,949.6 1496.3,945.9 1496.6,954 1496.9,944.9 1497.2,951.8 1497.5,944.1 1497.9,951.3 1498.2,946.8 1498.5,950.8 1498.8,944.2 1499.1,951 1499.5,944.8 1499.8,950.2 1500.1,940.7 1500.4,949.3 1500.7,944.9 1501.1,951 1501.4,944.7 1501.7,948.9 1502,945.9 1502.3,950.7 1502.7,945 1503,951.7 1503.3,945.4 1503.6,949.2 1503.9,943.9 1504.3,948.8 1504.6,944.3 1504.9,951.6 1505.2,944.1 1505.5,949.2 1505.9,943.8 1506.2,949.3 1506.5,940.2 1506.8,950.2 1507.1,942.5 1507.5,950.2 1507.8,944.8 1508.1,949.3 1508.4,943.6 1508.7,950.5 1509.1,942.9 1509.4,952 1509.7,946.8 1510,952.1 1510.3,946.4 1510.7,953.1 1511,943.3 1511.3,950.6 1511.6,944.9 1511.9,951.5 1512.3,942.9 1512.6,948.2 1512.9,941.7 1513.2,949 1513.5,943.8 1513.9,949.7 1514.2,943.6 1514.5,952.2 1514.8,942.1 1515.1,948.4 1515.5,944.8 1515.8,948.6 1516.1,944.7 1516.4,949.1 1516.7,945 1517.1,948.6 1517.4,943.5 1517.7,951.2 1518,945.2 1518.3,950.6 1518.7,944.4 1519,950.4 1519.3,944.6 1519.6,951.2 1519.9,943.2 1520.3,948.1 1520.6,942.9 1520.9,947.7 1521.2,943.7 1521.5,951.2 1521.9,940.8 1522.2,947.8 1522.5,944.9 1522.8,949.3 1523.1,943.3 1523.5,948.9 1523.8,942.8 1524.1,948.6 1524.4,944.5 1524.7,948.7 1525.1,943.3 1525.4,949.7 1525.7,944.2 1526,947.9 1526.3,942 1526.7,948.4 1527,942.1 1527.3,950 1527.6,942.8 1527.9,950.7 1528.3,943 1528.6,948.7 1528.9,943.1 1529.2,948.7 1529.5,942.7 1529.9,948.6 1530.2,943.3 1530.5,949.2 1530.8,941 1531.1,950.2 1531.5,943.6 1531.8,949.6 1532.1,944.5 1532.4,949.2 1532.7,943.2 1533.1,949.8 1533.4,944.8 1533.7,949.4 1534,943.6 1534.3,950.3 1534.7,944 1535,950.2 1535.3,942.6 1535.6,947.9 1535.9,944.1 1536.3,952 1536.6,944.6 1536.9,948.8 1537.2,944.1 1537.5,951.4 1537.9,945.3 1538.2,949.3 1538.5,945.5 1538.8,952.1 1539.1,944 1539.5,949 1539.8,944.6 1540.1,950.1 1540.4,944.9 1540.7,948.9 1541.1,944.7 1541.4,949.9 1541.7,943.8 1542,949.2 1542.3,944.4 1542.7,948.8 1543,943.2 1543.3,949.7 1543.6,941.8 1543.9,948 1544.3,943.2 1544.6,948.3 1544.9,943.2 1545.2,950.2 1545.5,942.2 1545.9,948.8 1546.2,940.8 1546.5,947.5 1546.8,942.9 1547.1,946.6 1547.5,942.9 1547.8,950.2 1548.1,940.3 1548.4,946.5 1548.7,943.6 1549.1,947.4 1549.4,940.6 1549.7,946.1 1550,940.5 1550.3,949.3 1550.7,942 1551,946.2 1551.3,939.1 1551.6,945.4 1551.9,940.1 1552.3,945.3 1552.6,936.7 1552.9,947.2 1553.2,938.4 1553.5,944.6 1553.9,939.5 1554.2,947.2 1554.5,940.2 1554.8,943.7 1555.1,938.1 1555.5,944.7 1555.8,936 1556.1,943 1556.4,938.6 1556.7,946.6 1557.1,938.9 1557.4,945.1 1557.7,938.8 1558,942.8 1558.3,938.8 1558.7,943.5 1559,935.9 1559.3,941.4 1559.6,935 1559.9,938.2 1560.3,932.3 1560.6,936.6 1560.9,929.9 1561.2,933.8 1561.5,927.6 1561.9,931 1562.2,922.3 1562.5,927.7 1562.8,919.5 1563.1,924.8 1563.5,917 1563.8,923.1 1564.1,916.7 1564.4,922.2 1564.7,917.8 1565.1,925.5 1565.4,919.3 1565.7,927.2 1566,919.5 1566.3,925.5 1566.7,919.6 1567,924.7 1567.3,915 1567.6,916.1 1567.9,908.3 1568.3,912.1 1568.6,899.9 1568.9,902.3 1569.2,893.1 1569.5,897 1569.9,891.5 1570.2,899.7 1570.5,900.1 1570.8,910.4 1571.1,908.6 1571.5,916.6 1571.8,914.8 1572.1,920.4 1572.4,917.4 1572.7,923.6 1573.1,916.8 1573.4,923.6 1573.7,915.3 1574,920.4 1574.3,914.9 1574.7,916.7 1575,912.9 1575.3,919 1575.6,912 1575.9,921.5 1576.3,915.9 1576.6,926.8 1576.9,922.6 1577.2,932.5 1577.5,927.6 1577.9,934.8 1578.2,930.7 1578.5,937.8 1578.8,932.1 1579.1,938.6 1579.5,935 1579.8,943.3 1580.1,932.8 1580.4,942.5 1580.7,935.9 1581.1,943.6 1581.4,936.8 1581.7,943.6 1582,938.9 1582.3,946.2 1582.7,939.8 1583,943.8 1583.3,939.1 1583.6,946.5 1583.9,941.3 1584.3,945.4 1584.6,942.9 1584.9,950.6 1585.2,941 1585.5,946.7 1585.9,942.1 1586.2,947.3 1586.5,942.2 1586.8,948 1587.1,941.5 1587.5,946.9 1587.8,940.5 1588.1,946 1588.4,940 1588.7,946.6 1589.1,939.6 1589.4,947.4 1589.7,940.5 1590,948.2 1590.3,941.8 1590.7,947 1591,943.5 1591.3,945.9 1591.6,940.5 1591.9,948.1 1592.3,942 1592.6,947.9 1592.9,942 1593.2,947.8 1593.5,939.2 1593.9,947 1594.2,944 1594.5,948.5 1594.8,941.9 1595.1,946.6 1595.5,942.3 1595.8,948.9 1596.1,943 1596.4,951.6 1596.7,938.1 1597.1,951 1597.4,941.4 1597.7,952.2 1598,938.8 1598.3,947.2 1598.7,943.4 1599,948.8 1599.3,943.6 1599.6,948.9 1599.9,942.4 1600.3,952.4 1600.6,944 1600.9,951.1 1601.2,944.5 1601.5,949.8 1601.9,943.5 1602.2,951.6 1602.5,945.2 1602.8,950.7 1603.1,945.1 1603.5,950.4 1603.8,942.1 1604.1,949.2 1604.4,941.5 1604.7,948.9 1605.1,944.8 1605.4,950.8 1605.7,945.3 1606,955 1606.3,945.1 1606.7,951.8 1607,946.1 1607.3,952.5 1607.6,946.1 1607.9,950.6 1608.3,945.5 1608.6,950.6 1608.9,944.4 1609.2,950.9 1609.5,945.1 1609.9,950 1610.2,939.9 1610.5,951.3 1610.8,944.4 1611.1,950.7 1611.5,944.4 1611.8,950.5 1612.1,945.6 1612.4,951.6 1612.7,942.8 1613.1,950.8 1613.4,947.1 1613.7,949.5 1614,946.4 1614.3,952.6 1614.7,942.8 1615,957.5 1615.3,947.1 1615.6,951.7 1615.9,944.9 1616.3,953 1616.6,944.4 1616.9,950.3 1617.2,946.1 1617.5,951.7 1617.9,944.9 1618.2,952.8 1618.5,944.3 1618.8,951 1619.1,947.1 1619.5,949.6 1619.8,946.8 1620.1,950.6 1620.4,947.9 1620.7,950.4 1621.1,946.3 1621.4,951.1 1621.7,944.8 1622,950.4 1622.3,945.5 1622.7,952.5 1623,944.8 1623.3,955.4 1623.6,945.7 1623.9,952 1624.3,946.9 1624.6,952.9 1624.9,944 1625.2,952 1625.5,946.8 1625.9,951.3 1626.2,946.9 1626.5,950.7 1626.8,943.6 1627.1,952.9 1627.5,946 1627.8,951.9 1628.1,946.7 1628.4,954.3 1628.7,945.8 1629.1,951.4 1629.4,945.6 1629.7,951.8 1630,944.1 1630.3,952.2 1630.7,946.3 1631,951.3 1631.3,944.9 1631.6,950.7 1631.9,945.5 1632.3,951.1 1632.6,944.5 1632.9,950.8 1633.2,945.6 1633.5,952.7 1633.9,946.5 1634.2,954.9 1634.5,945.7 1634.8,951.4 1635.1,947.1 1635.5,950.7 1635.8,944.9 1636.1,950.7 1636.4,945.6 1636.7,953.7 1637.1,947.7 1637.4,952 1637.7,945.8 1638,952.2 1638.3,946.6 1638.7,952.5 1639,947.4 1639.3,952.7 1639.6,947.3 1639.9,952 1640.3,945.2 1640.6,953.6 1640.9,945.8 1641.2,951.1 1641.5,946.2 1641.9,953.4 1642.2,945.8 1642.5,954.9 1642.8,942.2 1643.1,949.8 1643.5,944.9 1643.8,949.6 1644.1,944.6 1644.4,948.6 1644.7,945.8 1645.1,951.2 1645.4,945.2 1645.7,951.5 1646,944.9 1646.3,951.1 1646.7,946.6 1647,952 1647.3,946.5 1647.6,953.2 1647.9,943.1 1648.3,951.1 1648.6,945.4 1648.9,953.3 1649.2,943.5 1649.5,951.1 1649.9,946.3 1650.2,950.5 1650.5,944.7 1650.8,952 1651.1,947 1651.5,952.5 1651.8,945.7 1652.1,951.2 1652.4,945 1652.7,951.5 1653.1,945.4 1653.4,951.2 1653.7,946.6 1654,951.6 1654.3,945 1654.7,951.9 1655,943.7 1655.3,951.6 1655.6,945.6 1655.9,952.3 1656.3,945 1656.6,950.5 1656.9,943.9 1657.2,949.4 1657.5,945.7 1657.9,951.1 1658.2,946.4 1658.5,952.1 1658.8,945.3 1659.1,949.6 1659.5,945.9 1659.8,951.3 1660.1,944.8 1660.4,951.1 1660.7,943.7 1661.1,950.8 1661.4,945.4 1661.7,951.2 1662,945.8 1662.3,950.1 1662.7,944.4 1663,949 1663.3,944 1663.6,949 1663.9,940.5 1664.3,949.9 1664.6,945.9 1664.9,953.7 1665.2,943.1 1665.5,951.8 1665.9,945.3 1666.2,951.4 1666.5,945.7 1666.8,955.1 1667.1,939.8 1667.5,951 1667.8,944.5 1668.1,952.6 1668.4,946 1668.7,953.2 1669.1,946.7 1669.4,952.1 1669.7,944.8 1670,949.5 1670.3,946.7 1670.7,950 1671,944.3 1671.3,948.5 1671.6,944.6 1671.9,952.4 1672.3,944.2 1672.6,952.3 1672.9,946 1673.2,950.4 1673.5,942.3 1673.9,953.7 1674.2,946.1 1674.5,952.3 1674.8,945.6 1675.1,953 1675.5,944.8 1675.8,951.1 1676.1,944.8 1676.4,951.2 1676.7,942.3 1677.1,950 1677.4,945.4 1677.7,951.6 1678,944.4 1678.3,950 1678.7,943.3 1679,948.2 1679.3,944.1 1679.6,950.4 1679.9,943.1 1680.3,947.9 1680.6,943 1680.9,951.9 1681.2,942.3 1681.5,950.1 1681.9,944.6 1682.2,949.9 1682.5,946.1 1682.8,951 1683.1,945.8 1683.5,952.7 1683.8,947.1 1684.1,953.8 1684.4,946 1684.7,955 1685.1,948.1 1685.4,950.4 1685.7,947.1 1686,951.4 1686.3,944.5 1686.7,951.3 1687,945.6 1687.3,948.9 1687.6,943.8 1687.9,950 1688.3,945.8 1688.6,951.3 1688.9,946.3 1689.2,950.5 1689.5,942.3 1689.9,951 1690.2,938.2 1690.5,950.3 1690.8,947.1 1691.1,951.4 1691.5,945.2 1691.8,951.6 1692.1,945.9 1692.4,952.6 1692.7,946.1 1693.1,951 1693.4,946 1693.7,952 1694,944.9 1694.3,952.6 1694.7,946.8 1695,950 1695.3,944.9 1695.6,953.3 1695.9,945.5 1696.3,951.5 1696.6,945.1 1696.9,951.8 1697.2,944.9 1697.5,952.2 1697.9,946.2 1698.2,951.1 1698.5,946.4 1698.8,953 1699.1,945 1699.5,951.7 1699.8,944.4 1700.1,952.5 1700.4,945.7 1700.7,950 1701.1,945.9 1701.4,952.2 1701.7,944.4 1702,949.5 1702.3,943.2 1702.7,949.5 1703,946.2 1703.3,948.3 1703.6,940.1 1703.9,948.2 1704.3,944.5 1704.6,947.5 1704.9,942.5 1705.2,950.5 1705.5,941.9 1705.9,948.3 1706.2,940.4 1706.5,948.6 1706.8,943.3 1707.1,949.2 1707.5,942 1707.8,949.9 1708.1,944 1708.4,950.5 1708.7,944.8 1709.1,954.9 1709.4,942.2 1709.7,951.1 1710,936.8 1710.3,949.5 1710.7,941.3 1711,949.4 1711.3,943.3 1711.6,950.7 1711.9,943.1 1712.3,951.3 1712.6,945.6 1712.9,949.3 1713.2,945 1713.5,951.7 1713.9,946.8 1714.2,951.5 1714.5,944.8 1714.8,951.8 1715.1,947 1715.5,951.8 1715.8,947.2 1716.1,952 1716.4,948.3 1716.7,952 1717.1,946.6 1717.4,951.9 1717.7,946.3 1718,950.7 1718.3,946.1 1718.7,952 1719,946.4 1719.3,950.8 1719.6,944.2 1719.9,950.4 1720.3,946.7 1720.6,949.7 1720.9,943.2 1721.2,951.5 1721.5,945.3 1721.9,951.5 1722.2,946.1 1722.5,950.8 1722.8,944.3 1723.1,949.1 1723.5,945.9 1723.8,952.6 1724.1,943.7 1724.4,952 1724.7,945.4 1725.1,950.6 1725.4,944.1 1725.7,952.1 1726,945.5 1726.3,950.1 1726.7,944 1727,951.1 1727.3,945.2 1727.6,953.6 1727.9,946.4 1728.3,951.6 1728.6,943.7 1728.9,951.6 1729.2,942.5 1729.5,953.4 1729.9,947 1730.2,950.8 1730.5,944.6 1730.8,951.9 1731.1,945.7 1731.5,948.8 1731.8,946.6 1732.1,952.1 1732.4,947.3 1732.7,951.3 1733.1,943.3 1733.4,951.3 1733.7,944 1734,954.1 1734.3,944.5 1734.7,950.2 1735,941.9 1735.3,950.4 1735.6,943.3 1735.9,950.7 1736.3,944 1736.6,949.1 1736.9,945.6 1737.2,950 1737.5,944.5 1737.9,951.7 1738.2,943.6 1738.5,949.1 1738.8,944.7 1739.1,950.5 1739.5,946.5 1739.8,953.7 1740.1,945.2 1740.4,953.2 1740.7,944.8 1741.1,951.8 1741.4,944 1741.7,950.8 1742,942.7 1742.3,951.2 1742.7,945.8 1743,947.7 1743.3,942.5 1743.6,950.4 1743.9,944.1 1744.3,952 1744.6,942 1744.9,948.9 1745.2,944.4 1745.5,948.8 1745.9,945.2 1746.2,948.5 1746.5,947.4 1746.8,950.2 1747.1,948.2 1747.5,954.3 1747.8,947.4 1748.1,950 1748.4,943.9 1748.7,948.4 1749.1,943.6 1749.4,951.3 1749.7,943.4 1750,948.4 1750.3,943.3 1750.7,948.3 1751,942.7 1751.3,950.9 1751.6,943 1751.9,948.9 1752.3,945 1752.6,953.8 1752.9,945.6 1753.2,951.2 1753.5,942.9 1753.9,948.6 1754.2,944.3 1754.5,950.7 1754.8,944.7 1755.1,950.4 1755.5,945.2 1755.8,951.3 1756.1,945.4 1756.4,950.2 1756.7,945.6 1757.1,951.6 1757.4,944.7 1757.7,951.7 1758,944.6 1758.3,950.3 1758.7,945.9 1759,952.6 1759.3,946.1 1759.6,952 1759.9,944.2 1760.3,952.6 1760.6,947.1 1760.9,951.3 1761.2,945.6 1761.5,950.7 1761.9,941.3 1762.2,951.4 1762.5,946.8 1762.8,953.8 1763.1,945.7 1763.5,950.5 1763.8,944.6 1764.1,951.6 1764.4,945.6 1764.7,952.6 1765.1,945.4 1765.4,949.2 1765.7,944.8 1766,950.7 1766.3,945.1 1766.7,948.6 1767,944.5 1767.3,947.6 1767.6,944.5 1767.9,948.9 1768.3,943.9 1768.6,948.2 1768.9,943 1769.2,949.6 1769.5,945.1 1769.9,949.7 1770.2,944.6 1770.5,952.7 1770.8,944.1 1771.1,950.7 1771.5,945.9 1771.8,950.1 1772.1,944.6 1772.4,950.4 1772.7,941.9 1773.1,949.3 1773.4,945.1 1773.7,951.6 1774,943.6 1774.3,947.9 1774.7,941.7 1775,949.8 1775.3,943 1775.6,948.2 1775.9,940.8 1776.3,948.5 1776.6,943.8 1776.9,948.2 1777.2,944 1777.5,948.7 1777.9,941.5 1778.2,949.5 1778.5,942.2 1778.8,949 1779.1,940.8 1779.5,950.7 1779.8,944.3 1780.1,952.2 1780.4,945.4 1780.7,953.7 1781.1,946 1781.4,955.3 1781.7,945.4 1782,952.5 1782.3,945.3 1782.7,950 1783,944.8 1783.3,950.5 1783.6,944.9 1783.9,949 1784.3,942 1784.6,949.1 1784.9,943.7 1785.2,949.2 1785.5,943.2 1785.9,948.7 1786.2,943.5 1786.5,950.4 1786.8,945 1787.1,950 1787.5,945.4 1787.8,949.1 1788.1,940.4 1788.4,949.8 1788.7,946.7 1789.1,949 1789.4,944.3 1789.7,948.7 1790,945.5 1790.3,949.1 1790.7,943 1791,949.5 1791.3,945.2 1791.6,950.4 1791.9,942.7 1792.3,950 1792.6,941.3 1792.9,949.8 1793.2,942.7 1793.5,949.7 1793.9,943.5 1794.2,950.7 1794.5,942.6 1794.8,948.9 1795.1,942.2 1795.5,948.9 1795.8,943.5 1796.1,947.3 1796.4,943.7 1796.7,949.1 1797.1,942.7 1797.4,948.4 1797.7,942.7 1798,951.6 1798.3,944.4 1798.7,947.3 1799,943.5 1799.3,949.9 1799.6,944.4 1799.9,953.9 1800.3,944.4 1800.6,950.7 1800.9,943.1 1801.2,949.7 1801.5,945.4 1801.9,951.5 1802.2,944.9 1802.5,950.8 1802.8,944.1 1803.1,949.7 1803.5,941.5 1803.8,949.2 1804.1,942.8 1804.4,949.4 1804.7,945.2 1805.1,949.1 1805.4,945.3 1805.7,949.8 1806,942.8 1806.3,948.6 1806.7,941.5 1807,948 1807.3,941.7 1807.6,949 1807.9,942.3 1808.3,948.9 1808.6,941.2 1808.9,951.5 1809.2,944.6 1809.5,951.6 1809.9,944.9 1810.2,950.5 1810.5,945.1 1810.8,949.6 1811.1,945.7 1811.5,952.8 1811.8,943.2 1812.1,948.8 1812.4,944.4 1812.7,950 1813.1,943.1 1813.4,950.7 1813.7,945.6 1814,951.8 1814.3,944 1814.7,951.6 1815,947.4 1815.3,952.7 1815.6,944.2 1815.9,950.2 1816.3,944.9 1816.6,948.7 1816.9,943.3 1817.2,948.5 1817.5,943.3 1817.9,950.8 1818.2,942.8 1818.5,949.6 1818.8,942.7 1819.1,950 1819.5,943.3 1819.8,948.8 1820.1,942.5 1820.4,949.5 1820.7,940.6 1821.1,947.7 1821.4,943.3 1821.7,950.1 1822,942.6 1822.3,950.8 1822.7,943.7 1823,953.6 1823.3,943 1823.6,949.9 1823.9,944.6 1824.3,948.6 1824.6,943.6 1824.9,949.2 1825.2,944 1825.5,949.1 1825.9,944.1 1826.2,950 1826.5,944.9 1826.8,947.6 1827.1,944.2 1827.5,949 1827.8,943.8 1828.1,950.6 1828.4,944.7 1828.7,950 1829.1,944.3 1829.4,948 1829.7,944.1 1830,949.1 1830.3,942.1 1830.7,948.2 1831,941.4 1831.3,950.7 1831.6,946.1 1831.9,949.5 1832.3,945.8 1832.6,949.9 1832.9,942.9 1833.2,951.4 1833.5,946.4 1833.9,949.7 1834.2,940.5 1834.5,950.3 1834.8,943.2 1835.1,948.6 1835.5,938.8 1835.8,950.6 1836.1,944.7 1836.4,948.4 1836.7,944.1 1837.1,950.6 1837.4,942.8 1837.7,950 1838,944.8 1838.3,950.7 1838.7,941.9 1839,952.6 1839.3,944.3 1839.6,950.3 1839.9,942.3 1840.3,950.4 1840.6,943.8 1840.9,949.1 1841.2,944.3 1841.5,947.9 1841.9,944.2 1842.2,952.5 1842.5,942.4 1842.8,948.3 1843.1,944.3 1843.5,949.8 1843.8,944.4 1844.1,950.4 1844.4,944.6 1844.7,952.6 1845.1,945.7 1845.4,950 1845.7,944.5 1846,950.4 1846.3,944.9 1846.7,956.7 1847,944.9 1847.3,953 1847.6,945.6 1847.9,952.7 1848.3,943.9 1848.6,952 1848.9,946.6 1849.2,952.4 1849.5,944.7 1849.9,948.9 1850.2,946.4 1850.5,950.9 1850.8,944.5 1851.1,949.7 1851.5,945.2 1851.8,949.7 1852.1,945.4 1852.4,950.4 1852.7,943.4 1853.1,951 1853.4,946.6 1853.7,952.1 1854,941.7 1854.3,949.6 1854.7,944 1855,948.6 1855.3,942.4 1855.6,948.7 1855.9,943.4 1856.3,949.5 1856.6,944 1856.9,948.8 1857.2,943.8 1857.5,947.1 1857.9,943.8 1858.2,949.3 1858.5,942.1 1858.8,950.6 1859.1,945.9 1859.5,948.8 1859.8,941.5 1860.1,950.8 1860.4,943.5 1860.7,951.1 1861.1,943.7 1861.4,949.5 1861.7,940.1 1862,948.6 1862.3,942.5 1862.7,948.6 1863,943 1863.3,947.3 1863.6,943.2 1863.9,947.6 1864.3,942.1 1864.6,950.9 1864.9,943.9 1865.2,957.9 1865.5,942.1 1865.9,950.2 1866.2,943.9 1866.5,948.8 1866.8,944.3 1867.1,949.6 1867.5,944.7 1867.8,948.7 1868.1,944.4 1868.4,949.8 1868.7,943.5 1869.1,949.7 1869.4,945.3 1869.7,948.8 1870,943.3 1870.3,947.8 1870.7,944.1 1871,949.3 1871.3,943.6 1871.6,950 1871.9,944.3 1872.3,949.6 1872.6,944.5 1872.9,949.7 1873.2,943.8 1873.5,949.7 1873.9,943.7 1874.2,948.7 1874.5,944.1 1874.8,949.2 1875.1,941.8 1875.5,948.1 1875.8,941.2 1876.1,949.1 1876.4,944 1876.7,949.7 1877.1,943.5 1877.4,949.7 1877.7,942.8 1878,949.3 1878.3,941 1878.7,948.8 1879,944.5 1879.3,949 1879.6,944.2 1879.9,948.4 1880.3,945.2 1880.6,948.2 1880.9,944 1881.2,951.9 1881.5,943.8 1881.9,948.6 1882.2,944.3 1882.5,946.6 1882.8,941.5 1883.1,946.7 1883.5,938.8 1883.8,945 1884.1,941.9 1884.4,947.9 1884.7,941.6 1885.1,947.4 1885.4,943.5 1885.7,947 1886,943.5 1886.3,949.5 1886.7,942.7 1887,951 1887.3,943.1 1887.6,947.7 1887.9,942.8 1888.3,949.7 1888.6,943.1 1888.9,948.8 1889.2,944.1 1889.5,951.1 1889.9,943.9 1890.2,949.4 1890.5,945.5 1890.8,949.5 1891.1,944.8 1891.5,951.4 1891.8,945.5 1892.1,948 1892.4,945.6 1892.7,953.8 1893.1,942.9 1893.4,949 1893.7,944.4 1894,949.5 1894.3,944.9 1894.7,947.2 1895,943.9 1895.3,947.8 1895.6,944.8 1895.9,947.9 1896.3,941.1 1896.6,949.2 1896.9,944.6 1897.2,950.1 1897.5,943.3 1897.9,948.3 1898.2,942.5 1898.5,948.1 1898.8,945.1 1899.1,949 1899.5,943 1899.8,948.9 1900.1,943.7 1900.4,949.7 1900.7,944.1 1901.1,952.3 1901.4,941.6 1901.7,949.1 1902,944.3 1902.3,948.9 1902.7,944.9 1903,948.7 1903.3,943.1 1903.6,948.1 1903.9,940.9 1904.3,948.5 1904.6,940.8 1904.9,946.9 1905.2,942 1905.5,948.2 1905.9,941.4 1906.2,947.8 1906.5,945.4 1906.8,948.7 1907.1,944.1 1907.5,949.8 1907.8,942.2 1908.1,947.4 1908.4,941 1908.7,949 1909.1,943.5 1909.4,948.5 1909.7,943.4 1910,945.8 1910.3,941.6 1910.7,949.1 1911,942.6 1911.3,948.2 1911.6,943.5 1911.9,951.1 1912.3,944.1 1912.6,946.9 1912.9,941 1913.2,947.7 1913.5,940 1913.9,949.4 1914.2,939.5 1914.5,947.9 1914.8,942.2 1915.1,947.1 1915.5,942.6 1915.8,945.8 1916.1,940.6 1916.4,945.6 1916.7,940.7 1917.1,946.6 1917.4,940.3 1917.7,945.9 1918,938.3 1918.3,947.2 1918.7,940.6 1919,947.9 1919.3,939.6 1919.6,944.9 1919.9,938.8 1920.3,944.7 1920.6,939.2 1920.9,945.7 1921.2,942.2 1921.5,947.5 1921.9,941.4 1922.2,945.9 1922.5,941.5 1922.8,947.2 1923.1,939.1 1923.5,946.5 1923.8,941.2 1924.1,946.3 1924.4,940.4 1924.7,946.9 1925.1,940.9 1925.4,947.9 1925.7,940.2 1926,946 1926.3,938.6 1926.7,945.5 1927,940.7 1927.3,946.3 1927.6,940.1 1927.9,950.1 1928.3,941.6 1928.6,948.6 1928.9,941.3 1929.2,947.1 1929.5,941.1 1929.9,946.5 1930.2,934.5 1930.5,946.9 1930.8,940.6 1931.1,947.9 1931.5,936.4 1931.8,947.7 1932.1,940.8 1932.4,949.8 1932.7,942.1 1933.1,946 1933.4,941.9 1933.7,946.6 1934,942 1934.3,946.6 1934.7,939.6 1935,946.1 1935.3,943.3 1935.6,946.9 1935.9,939.7 1936.3,945.6 1936.6,940.8 1936.9,945.4 1937.2,939 1937.5,943.8 1937.9,938.3 1938.2,943.3 1938.5,939.7 1938.8,943.1 1939.1,940.1 1939.5,945.6 1939.8,939.8 1940.1,946 1940.4,938.1 1940.7,944.1 1941.1,940.9 1941.4,944.8 1941.7,935.1 1942,943.7 1942.3,935.7 1942.7,946 1943,938.8 1943.3,945.1 1943.6,939.9 1943.9,944 1944.3,939.9 1944.6,946 1944.9,938.8 1945.2,944.2 1945.5,933.6 1945.9,942.4 1946.2,938.2 1946.5,944 1946.8,939.8 1947.1,945.2 1947.5,938.9 1947.8,942.5 1948.1,939.3 1948.4,944.9 1948.7,938.3 1949.1,944.6 1949.4,937 1949.7,944.2 1950,937.2 1950.3,943.5 1950.7,935.6 1951,945.7 1951.3,940.7 1951.6,942.3 1951.9,938.1 1952.3,942 1952.6,934.3 1952.9,942.9 1953.2,936.7 1953.5,941.7 1953.9,934.9 1954.2,941.7 1954.5,936.7 1954.8,943.2 1955.1,935.8 1955.5,943 1955.8,935.1 1956.1,944.9 1956.4,938.9 1956.7,944.8 1957.1,936.8 1957.4,942.5 1957.7,937.9 1958,945.8 1958.3,936.1 1958.7,942.3 1959,936.5 1959.3,940 1959.6,930 1959.9,941.4 1960.3,933.5 1960.6,940.5 1960.9,935.4 1961.2,942.2 1961.5,933.1 1961.9,939.8 1962.2,932.2 1962.5,941.5 1962.8,933.7 1963.1,940.9 1963.5,933.3 1963.8,938 1964.1,932.7 1964.4,937.7 1964.7,930.4 1965.1,936.7 1965.4,931.4 1965.7,936.6 1966,930.6 1966.3,937.6 1966.7,930.9 1967,938.7 1967.3,929.8 1967.6,936.4 1967.9,928.5 1968.3,934.3 1968.6,929.7 1968.9,936.1 1969.2,927.1 1969.5,933.9 1969.9,926.8 1970.2,932.5 1970.5,924.8 1970.8,931 1971.1,925.3 1971.5,931 1971.8,924.2 1972.1,927.7 1972.4,922.1 1972.7,928.4 1973.1,919.9 1973.4,923.9 1973.7,918.7 1974,923.1 1974.3,916.8 1974.7,923 1975,914.6 1975.3,918.6 1975.6,912.6 1975.9,917.5 1976.3,902.2 1976.6,912 1976.9,903.4 1977.2,906.6 1977.5,896.4 1977.9,898.3 1978.2,889.6 1978.5,895.8 1978.8,883.1 1979.1,889.5 1979.5,880.7 1979.8,889.7 1980.1,870.3 1980.4,867.8 1980.7,856.7 1981.1,853.5 1981.4,841.8 1981.7,838.2 1982,826.2 1982.3,823.6 1982.7,811.6 1983,810.8 1983.3,793.5 1983.6,794.4 1983.9,780.9 1984.3,778.4 1984.6,766.8 1984.9,763.4 1985.2,750.8 1985.5,748 1985.9,733.5 1986.2,730.7 1986.5,716 1986.8,715 1987.1,701.6 1987.5,698.3 1987.8,681.3 1988.1,679.8 1988.4,665.5 1988.7,664.9 1989.1,650.4 1989.4,651.6 1989.7,637.6 1990,639.9 1990.3,636.3 1990.7,636.3 1991,636.3 1991.3,636.3 1991.6,636.3 1991.9,636.3 1992.3,636.3 1992.6,636.3 1992.9,636.3 1993.2,636.3 1993.5,636.3 1993.9,636.3 1994.2,636.3 1994.5,636.3 1994.8,636.3 1995.1,636.3 1995.5,636.3 1995.8,636.3 1996.1,636.3 1996.4,638.5 1996.7,636.3 1997.1,649.1 1997.4,651.2 1997.7,663.7 1998,668.1 1998.3,684.1 1998.7,680.6 1999,696.6 1999.3,695.6 1999.6,711.9 1999.9,714.7 2000.3,729.7 2000.6,731.2 2000.9,745.1 2001.2,743.6 2001.5,760.3 2001.9,763.8 2002.2,776.3 2002.5,779.1 2002.8,789.6 2003.1,793.6 2003.5,806.5 2003.8,809.5 2004.1,820.2 2004.4,825.1 2004.7,835.9 2005.1,840.8 2005.4,851.5 2005.7,853.8 2006,866 2006.3,863.6 2006.7,878.7 2007,876.9 2007.3,886.3 2007.6,885.1 2007.9,893.7 2008.3,891.7 2008.6,899 2008.9,895.8 2009.2,903.8 2009.5,903.2 2009.9,908.1 2010.2,904.2 2010.5,912.6 2010.8,907.7 2011.1,915 2011.5,909.4 2011.8,918 2012.1,914.1 2012.4,920.3 2012.7,913.2 2013.1,921 2013.4,917.1 2013.7,924.1 2014,917 2014.3,923.5 2014.7,915.9 2015,924 2015.3,920.3 2015.6,926 2015.9,921.6 2016.3,929.3 2016.6,919.7 2016.9,930 2017.2,925.1 2017.5,929.3 2017.9,926.3 2018.2,930.6 2018.5,924.4 2018.8,931.9 2019.1,925.5 2019.5,931.3 2019.8,922.9 2020.1,932.9 2020.4,929.5 2020.7,935.3 2021.1,928.5 2021.4,935.2 2021.7,930.1 2022,934.5 2022.3,927.4 2022.7,935.7 2023,932 2023.3,937.8 2023.6,930.7 2023.9,939.1 2024.3,931.5 2024.6,937.6 2024.9,933.7 2025.2,940.3 2025.5,932.3 2025.9,941.1 2026.2,935.3 2026.5,940.4 2026.8,935.8 2027.1,941.1 2027.5,934.3 2027.8,941.4 2028.1,930.9 2028.4,941.2 2028.7,934.4 2029.1,938.5 2029.4,934.1 2029.7,940.5 2030,933.9 2030.3,940.4 2030.7,933.2 2031,941.3 2031.3,934.6 2031.6,941.7 2031.9,935.8 2032.3,940.6 2032.6,935.6 2032.9,942.8 2033.2,939.1 2033.5,942 2033.9,937.8 2034.2,944.7 2034.5,936.8 2034.8,943.8 2035.1,937.6 2035.5,942.8 2035.8,935.2 2036.1,942.8 2036.4,932.4 2036.7,940.5 2037.1,936.5 2037.4,939.6 2037.7,935.3 2038,942.1 2038.3,936.6 2038.7,941.8 2039,936.9 2039.3,942.8 2039.6,936 2039.9,942.4 2040.3,936.1 2040.6,941.6 2040.9,939.3 2041.2,942.2 2041.5,935.9 2041.9,941.9 2042.2,934.9 2042.5,942.2 2042.8,930.9 2043.1,938.2 2043.5,932.2 2043.8,935.9 2044.1,921.3 2044.4,920.4 2044.7,911.8 2045.1,921 2045.4,920.5 2045.7,934.3 2046,933.2 2046.3,938.7 2046.7,934.3 2047,941.6 2047.3,934.3 2047.6,941.6 2047.9,934.7 2048.3,942.4 2048.6,937.5 2048.9,943.6 2049.2,937.8 2049.5,944.9 2049.9,936.7 2050.2,945.5 2050.5,939.1 2050.8,945.8 2051.1,938.7 2051.5,943.3 2051.8,937.8 2052.1,943 2052.4,940 2052.7,945.8 2053.1,939.5 2053.4,944.2 2053.7,936.6 2054,944.4 2054.3,941 2054.7,946 2055,937.9 2055.3,944.1 2055.6,940 2055.9,946.3 2056.3,941.9 2056.6,945.7 2056.9,941 2057.2,946.3 2057.5,939.6 2057.9,945.3 2058.2,935.3 2058.5,944.1 2058.8,937.8 2059.1,943.4 2059.5,938.8 2059.8,945.8 2060.1,938.7 2060.4,943.7 2060.7,937.8 2061.1,946.5 2061.4,937.5 2061.7,945 2062,939.7 2062.3,947.2 2062.7,938.4 2063,944.8 2063.3,939.1 2063.6,947.4 2063.9,940.7 2064.3,946.5 2064.6,940.8 2064.9,947.8 2065.2,940.9 2065.5,947.8 2065.9,939 2066.2,943.9 2066.5,939.7 2066.8,945.8 2067.1,940.1 2067.5,946.5 2067.8,938.8 2068.1,944 2068.4,935.5 2068.7,943.1 2069.1,940.6 2069.4,944.9 2069.7,939.3 2070,944.9 2070.3,941.6 2070.7,945.9 2071,939.8 2071.3,947.2 2071.6,942.3 2071.9,947.7 2072.3,939.6 2072.6,946.4 2072.9,941.4 2073.2,946 2073.5,941.7 2073.9,950.3 2074.2,941.5 2074.5,947.9 2074.8,941.9 2075.1,947.3 2075.5,940.7 2075.8,950.8 2076.1,940.9 2076.4,948.3 2076.7,943.9 2077.1,946.4 2077.4,940.9 2077.7,949.3 2078,942 2078.3,946.3 2078.7,942 2079,949.3 2079.3,939 2079.6,946.8 2079.9,941.4 2080.3,946.7 2080.6,940 2080.9,946 2081.2,940 2081.5,946.6 2081.9,937.9 2082.2,945.4 2082.5,941.5 2082.8,949.2 2083.1,941.5 2083.5,946.4 2083.8,942.1 2084.1,947.2 2084.4,939.9 2084.7,947.8 2085.1,939.4 2085.4,949.4 2085.7,940.2 2086,949 2086.3,941.4 2086.7,945.5 2087,941.4 2087.3,946.2 2087.6,942 2087.9,946.6 2088.3,941 2088.6,948.4 2088.9,939.3 2089.2,947.1 2089.5,939.6 2089.9,945.5 2090.2,941.7 2090.5,949.9 2090.8,940.7 2091.1,945.1 2091.5,940.6 2091.8,947.4 2092.1,941.7 2092.4,948.2 2092.7,940.2 2093.1,947 2093.4,941.7 2093.7,945.2 2094,941.4 2094.3,949.3 2094.7,942.6 2095,947.2 2095.3,937 2095.6,947.9 2095.9,939.1 2096.3,948.1 2096.6,942.7 2096.9,948.3 2097.2,940.8 2097.5,948.5 2097.9,943 2098.2,948.4 2098.5,941.1 2098.8,952.1 2099.1,941.5 2099.5,947.5 2099.8,941.2 2100.1,950.1 2100.4,943.1 2100.7,949.1 2101.1,941.2 2101.4,946.6 2101.7,940.7 2102,945.5 2102.3,940.9 2102.7,945.6 2103,941.1 2103.3,947 2103.6,941.7 2103.9,946.7 2104.3,942.4 2104.6,948.6 2104.9,941.9 2105.2,946.4 2105.5,941.9 2105.9,946.8 2106.2,940.7 2106.5,946 2106.8,940.1 2107.1,946.3 2107.5,941.2 2107.8,948.9 2108.1,941.6 2108.4,948.6 2108.7,941.3 2109.1,947.9 2109.4,941.3 2109.7,946.5 2110,941.1 2110.3,948.7 2110.7,940.6 2111,948.2 2111.3,942.8 2111.6,947.7 2111.9,943.2 2112.3,948.9 2112.6,944 2112.9,948 2113.2,944.4 2113.5,947.5 2113.9,943.1 2114.2,949.4 2114.5,943.5 2114.8,947.9 2115.1,940.5 2115.5,947.7 2115.8,940.7 2116.1,946 2116.4,941.4 2116.7,947.6 2117.1,943 2117.4,947.1 2117.7,942.9 2118,947.6 2118.3,942.8 2118.7,949.8 2119,941.3 2119.3,947.9 2119.6,942.7 2119.9,947.6 2120.3,939.4 2120.6,949.8 2120.9,943.2 2121.2,949.2 2121.5,943.6 2121.9,949.1 2122.2,943.4 2122.5,948.9 2122.8,941.4 2123.1,946.7 2123.5,940.7 2123.8,947.5 2124.1,938.7 2124.4,946.3 2124.7,942 2125.1,945.3 2125.4,940.2 2125.7,947.8 2126,941.9 2126.3,948.3 2126.7,942.3 2127,949.2 2127.3,942.9 2127.6,949.8 2127.9,943.2 2128.3,948.2 2128.6,941.6 2128.9,951 2129.2,942.9 2129.5,946.2 2129.9,941.6 2130.2,947.7 2130.5,941.6 2130.8,946 2131.1,939.2 2131.5,946.4 2131.8,940.9 2132.1,946.9 2132.4,936.3 2132.7,945.5 2133.1,940.1 2133.4,946.7 2133.7,941.4 2134,945.7 2134.3,941.2 2134.7,948.6 2135,941.9 2135.3,948.2 2135.6,940.3 2135.9,947.3 2136.3,941 2136.6,947 2136.9,942.1 2137.2,945.7 2137.5,944.2 2137.9,949.3 2138.2,942.6 2138.5,948.9 2138.8,943.3 2139.1,947.3 2139.5,942.6 2139.8,947.8 2140.1,942.9 2140.4,948.5 2140.7,942.2 2141.1,950 2141.4,944 2141.7,948.4 2142,943.9 2142.3,948.8 2142.7,942.1 2143,949 2143.3,942.6 2143.6,949.4 2143.9,938.8 2144.3,948.2 2144.6,940.2 2144.9,950.2 2145.2,938.4 2145.5,947.4 2145.9,941.7 2146.2,950.3 2146.5,943.1 2146.8,947.4 2147.1,941.3 2147.5,947.5 2147.8,942.1 2148.1,948.4 2148.4,942.3 2148.7,949.7 2149.1,941.8 2149.4,947.6 2149.7,941.4 2150,947.5 2150.3,940.6 2150.7,946.8 2151,941.1 2151.3,948.3 2151.6,941 2151.9,948.5 2152.3,940.1 2152.6,950.7 2152.9,943.9 2153.2,949.3 2153.5,944.3 2153.9,948.6 2154.2,943.3 2154.5,946.4 2154.8,943 2155.1,948.5 2155.5,941.9 2155.8,948.4 2156.1,942.7 2156.4,948.4 2156.7,943.4 2157.1,950.2 2157.4,938.1 2157.7,949.3 2158,943.8 2158.3,953.7 2158.7,942.4 2159,948.4 2159.3,939.6 2159.6,949.5 2159.9,941.2 2160.3,948.1 2160.6,942 2160.9,948.3 2161.2,942 2161.5,947 2161.9,941.9 2162.2,951.3 2162.5,942.7 2162.8,947.8 2163.1,943.6 2163.5,949.2 2163.8,942.7 2164.1,948.7 2164.4,944.3 2164.7,948.3 2165.1,942.2 2165.4,947.4 2165.7,942 2166,949.2 2166.3,942.8 2166.7,946.4 2167,941.7 2167.3,948.5 2167.6,939.8 2167.9,946.9 2168.3,941.4 2168.6,947.3 2168.9,942 2169.2,949.6 2169.5,943 2169.9,946.9 2170.2,942.4 2170.5,948.7 2170.8,944 2171.1,947.4 2171.5,943.2 2171.8,948.5 2172.1,942.9 2172.4,948 2172.7,943.3 2173.1,949.8 2173.4,942.6 2173.7,948.8 2174,938.3 2174.3,947.1 2174.7,942.1 2175,946.6 2175.3,942.8 2175.6,945.8 2175.9,942.2 2176.3,946.6 2176.6,940.9 2176.9,947.2 2177.2,942.1 2177.5,945.3 2177.9,941.8 2178.2,946.1 2178.5,938.9 2178.8,946.9 2179.1,940.4 2179.5,945.2 2179.8,938.7 2180.1,947 2180.4,940.5 2180.7,945.8 2181.1,940.5 2181.4,948.6 2181.7,941 2182,947.3 2182.3,940.1 2182.7,948.5 2183,942.7 2183.3,948.6 2183.6,940.7 2183.9,944.4 2184.3,942 2184.6,945 2184.9,941.5 2185.2,946.6 2185.5,938.1 2185.9,946.7 2186.2,941.4 2186.5,947.2 2186.8,943.1 2187.1,947 2187.5,941.3 2187.8,945.7 2188.1,942 2188.4,948.6 2188.7,940.6 2189.1,947 2189.4,943.6 2189.7,948.1 2190,941.3 2190.3,949.5 2190.7,942.1 2191,952.4 2191.3,943.1 2191.6,948 2191.9,941 2192.3,949 2192.6,941.9 2192.9,946.9 2193.2,940.3 2193.5,945.2 2193.9,942.7 2194.2,947.2 2194.5,941.6 2194.8,947.6 2195.1,939.2 2195.5,945.6 2195.8,940 2196.1,946.9 2196.4,940.8 2196.7,946.7 2197.1,941.6 2197.4,945.9 2197.7,938.8 2198,947.8 2198.3,940.6 2198.7,949.5 2199,942.6 2199.3,947.5 2199.6,941.8 2199.9,947.7 2200.3,939.1 2200.6,946.9 2200.9,939.3 2201.2,946.9 2201.5,939.6 2201.9,945.1 2202.2,941.4 2202.5,947.9 2202.8,936.6 2203.1,945.6 2203.5,940.7 2203.8,949.7 2204.1,942.1 2204.4,948.2 2204.7,938.9 2205.1,947.4 2205.4,940.6 2205.7,946.7 2206,941.7 2206.3,946.5 2206.7,942.7 2207,948.7 2207.3,941.8 2207.6,949.5 2207.9,941.7 2208.3,949.4 2208.6,942 2208.9,949 2209.2,941.6 2209.5,947.7 2209.9,943.3 2210.2,949.1 2210.5,943.7 2210.8,946.6 2211.1,942.5 2211.5,949.9 2211.8,945.4 2212.1,949.7 2212.4,945.7 2212.7,949.3 2213.1,943.7 2213.4,948.9"/></g>
<rect x="874.7" y="16.8" width="1330" height="860" fill="#fff" stroke="#000" stroke-width="3"/>
<path d="M892.5 18.5 V867.2 H2187.5" fill="none" stroke="#cdcdcd" stroke-width="2.8"/>
<g clip-path="url(#c_bcp2)"><polyline fill="none" stroke="#000" stroke-width="2.6" stroke-linejoin="round" points="26.5,1196.6 27,1196.5 28,1196.2 29,1196.1 30,1196.5 30.5,1196.6 31.5,1196.1 33,1196.5 34,1196.5 34.5,1196.6 36,1196.5 38.5,1196.2 40,1196.1 41,1196.5 42,1196.3 43,1195.8 44,1196.5 44.5,1196.4 45,1196.1 45.5,1196.2 46,1196.4 47,1196.4 47.5,1196.3 49,1196.6 49.5,1196.6 50,1196.3 50.5,1196.2 52,1196.7 53,1196.8 54.5,1196.3 56,1196.1 57,1196.5 58.5,1196.5 59.5,1196.1 60.5,1196 61.5,1196.3 63,1196.2 64,1196 65,1196.2 67,1196.5 68,1196.5 68.5,1196.6 70,1196.1 71.5,1196.2 72.5,1196.4 75.5,1196.5 76.5,1196.6 77,1196.8 77.5,1196.8 78,1196.5 78.5,1196.4 79,1196.6 80,1196.4 81,1196.5 83,1196.1 84.5,1196.6 85,1196.6 86,1196 86.5,1196 88,1196.6 88.5,1196.6 89.5,1196.2 90,1196.1 90.5,1196.4 92,1196.4 93,1196.1 95,1196.4 96,1196.3 97,1196.6 98.5,1196.6 99.5,1196.8 101,1196.2 102.5,1195.9 103,1196.2 103.5,1196.7 104,1196.8 105.5,1196.3 106.5,1196.2 107.5,1196.6 108.5,1196.2 109,1196.3 109.5,1196.7 110,1196.8 111,1196.4 112.5,1196.5 113,1196.7 113.5,1196.7 114,1196.4 116,1196.1 117.5,1196.4 118.5,1196 119,1195.9 120.5,1196.5 121,1196.5 122,1196 122.5,1195.9 123,1196.2 123.5,1196.6 124,1196.9 125,1196.5 126,1196.6 127,1196.3 128,1196.5 129.5,1195.9 130,1195.9 131,1196.2 132.5,1196.1 133.5,1196.3 134,1196.6 135,1196.6 136,1196.8 137,1196.3 137.5,1196.2 138,1196.3 139,1196.7 140,1196.6 141.5,1196.3 142.5,1196.4 143.5,1196.7 144,1196.5 144.5,1195.9 145,1195.6 145.5,1195.8 146.5,1196.4 147,1196.4 148,1196.3 149,1196.8 151,1196.4 152.5,1196.6 153,1196.4 153.5,1196.3 154.5,1196.8 155.5,1196.5 156.5,1196.7 158,1196.1 158.5,1196.2 159,1196.5 160,1196.4 160.5,1196.7 161,1196.7 161.5,1196.3 162,1196.3 163.5,1196.7 164.5,1196.3 166,1196.5 168,1196.4 169,1196.8 170,1196.4 170.5,1196.4 171.5,1196.8 172.5,1196.3 174.5,1196.5 176.5,1196.3 178,1196.4 178.5,1196.4 179.5,1196.8 181.5,1196.1 182,1195.9 184,1196.5 185,1196.7 186.5,1196.5 187.5,1196.2 189,1196.4 189.5,1196.6 191.5,1196.4 192.5,1196.4 193,1196.2 193.5,1196.2 194,1196.5 194.5,1196.5 196,1196.2 197,1196.6 197.5,1196.6 198,1196.4 198.5,1196 199,1195.8 201,1196.3 202.5,1196 204,1196 204.5,1196.4 205,1196.5 205.5,1196.1 206,1196 207,1196.1 208,1196.1 210,1196.6 211,1196.2 211.5,1196.2 212.5,1196.6 213,1196.6 214,1196.4 216,1196.4 216.5,1196.5 218,1196.3 219,1195.9 220.5,1196.4 221,1196.4 222,1196 225.5,1196.5 226,1196.7 228.5,1196.3 229.5,1196.7 230,1196.6 231,1196 231.5,1195.9 232.5,1196.5 233.5,1196.5 234,1196.7 234.5,1196.5 235,1196.2 235.5,1196 237,1196.5 238,1196.3 239,1196.1 240,1196.4 240.5,1196.4 241,1196.2 242,1196.3 243,1196.2 244,1196.5 245,1196.5 246,1196.1 246.5,1196.1 247.5,1196.4 249.5,1196.1 250,1196.2 250.5,1196.6 251,1196.8 253,1196.5 253.5,1196.5 254.5,1197 255,1196.9 255.5,1196.5 256.5,1196.6 257.5,1196.3 258.5,1196.4 259.5,1196.5 260,1196.3 260.5,1196 261,1195.9 262,1196.5 262.5,1196.4 263.5,1196.1 265.5,1196.2 266,1196.2 267,1196.4 268,1196.3 269,1195.9 271,1196.5 272,1197.1 272.5,1196.8 273,1196.3 273.5,1196.1 274.5,1196.8 275,1196.7 276,1196.4 276.5,1196.4 277.5,1196 278.5,1196.2 280,1196.1 281,1196.2 282,1195.9 283,1196.4 284.5,1196.1 285.5,1196.5 287,1196 287.5,1196 288.5,1196.5 289.5,1196.3 290.5,1196.5 291,1196.4 292.5,1196.6 293.5,1196.5 294,1196.4 294.5,1196.5 295,1196.4 296,1195.9 297.5,1195.6 298.5,1196.7 299,1196.7 299.5,1196.5 300.5,1196.6 302.5,1196.3 303,1196.4 304.5,1196.2 305.5,1196.5 307,1196.7 309,1196.3 310.5,1196 311,1196 312,1196.4 313,1196.2 316,1196.7 317,1196.3 317.5,1196.3 319,1196.9 319.5,1196.9 321.5,1196.2 322,1196.2 323,1196.7 324,1196.9 325,1196.5 326,1196.7 326.5,1196.6 327,1196.2 327.5,1196 328.5,1196.3 331,1196.5 332.5,1196.2 333.5,1196.4 334.5,1196.9 336,1196.4 337,1196.8 338,1196.4 338.5,1196.4 339.5,1196.8 341,1196.4 342,1196.7 342.5,1196.6 343,1196.3 343.5,1196.1 344,1196.3 345,1196.2 346,1196.7 347,1196.2 347.5,1196.1 349.5,1196.9 350,1196.8 351,1196.3 351.5,1196.2 352.5,1196.5 354,1196.3 355,1196 356,1196.5 357.5,1196.7 359,1196.5 360,1196.6 361,1196.3 361.5,1196.3 362.5,1196.8 363.5,1196.4 364.5,1196.5 366,1196.2 367,1196.4 368.5,1196.5 369,1196.4 369.5,1196.1 370,1196 371.5,1196.4 374.5,1196.5 375.5,1196.3 376.5,1196.6 377.5,1196.4 378.5,1195.9 379.5,1196.3 380.5,1196.4 381,1196.6 381.5,1196.6 382,1196.3 382.5,1196.3 383.5,1196.8 385,1196.6 386,1196.4 387,1196 388,1196.4 389.5,1196.2 391,1196.1 392,1196.5 392.5,1196.5 393,1196.3 393.5,1196.2 394,1196.4 395,1196.4 395.5,1196.5 396,1196.6 396.5,1196.3 397,1196.1 398,1196.6 398.5,1196.7 400,1196.4 401.5,1196.6 403,1196.4 404,1196.6 405,1196.3 406,1196.5 407,1196.1 409.5,1196.1 410.5,1196.5 411,1196.5 411.5,1196.2 412,1196.2 412.5,1196.3 414,1196.4 415,1196 416.5,1196.5 417.5,1196.5 418.5,1196.2 419,1196 419.5,1195.9 420.5,1196.2 421.5,1196 422,1195.8 422.5,1195.9 423.5,1196.4 425,1196.5 425.5,1196.6 427,1196.3 428,1196.4 428.5,1196.6 429.5,1196.3 430,1196.3 430.5,1196.7 431,1196.8 432,1196.4 433,1196.5 434,1196.2 435,1196.4 435.5,1196.4 436.5,1196.8 437,1196.6 438,1196.8 439,1196.5 439.5,1196.6 440,1196.2 440.5,1196 441,1196.3 441.5,1196.3 442,1196.1 443,1196.5 444.5,1196.4 446,1196.5 447,1196.4 448,1196.5 449,1196.4 449.5,1196.2 450,1196.1 451.5,1196.5 453,1196.1 454,1196.1 455.5,1196.4 456.5,1196.4 458,1197 459.5,1196.8 460,1196.7 461,1196 463,1196.5 464,1196.6 465,1196.4 466.5,1196.7 468.5,1196.3 470,1196.4 470.5,1196.5 471.5,1196.5 472.5,1196.8 473.5,1196.7 474.5,1196.3 476,1196.3 477,1196.1 478,1196.6 480,1196.3 481.5,1196.7 483.5,1196.6 484,1196.4 485,1196.5 486,1196 487,1196.3 488,1196.7 490,1196.4 490.5,1196.3 493,1196.7 494,1196.4 494.5,1196.2 496,1196.1 496.5,1196.1 497.5,1196.3 498.5,1196.3 499.5,1195.9 500,1196 500.5,1196.4 501,1196.7 502,1196.1 502.5,1196 503.5,1196.4 505,1196.2 505.5,1196 507,1196.2 508,1196.7 508.5,1196.8 510,1196.1 512,1196.3 512.5,1196.2 513.5,1196.5 515,1196.5 516.5,1196.1 517.5,1196.4 518.5,1196.4 519.5,1196.7 520,1196.9 520.5,1196.7 521,1196.2 521.5,1195.9 522.5,1196.1 523.5,1196.5 524.5,1196.5 526,1196.2 526.5,1196.2 527.5,1196.3 528,1196.1 529,1196.1 531,1196.6 531.5,1196.6 533,1196.2 534,1196.1 535,1196.6 536,1196.1 537,1196.6 538.5,1196.9 539.5,1196.5 540.5,1196.3 541,1195.9 541.5,1195.9 543,1196.4 544.5,1196 545.5,1196.4 546,1196.4 547,1196.9 547.5,1197 549,1196.3 550.5,1196.5 551,1196.5 552,1196.1 553.5,1196.5 555,1196.7 555.5,1196.5 556,1196.1 556.5,1195.9 557,1196.2 557.5,1196.6 558,1196.7 559,1196.4 560,1196.5 561,1196.3 562,1196.3 562.5,1196.1 563,1196.1 564,1196.5 566,1196.1 567.5,1196.1 568.5,1196.3 570.5,1196.6 572,1196.2 572.5,1196.3 573,1196.7 573.5,1196.7 574.5,1196.1 575,1196.1 576,1196.5 578,1196.6 579,1196.5 581,1196.8 582.5,1196.1 583,1195.8 583.5,1195.8 584,1196.1 585,1196.1 586,1196 588,1196.4 589,1195.9 590,1196.6 591,1196.5 592.5,1195.9 594,1196.6 595.5,1196.9 596,1196.7 597,1196.1 598.5,1196.4 599.5,1196.1 600.5,1196.5 601.5,1196.2 602.5,1196.5 605,1196.4 607,1196.3 608,1195.8 608.5,1195.5 609,1195.6 610,1196.1 611,1196 611.5,1196.2 612.5,1196 613.5,1196.4 614.5,1196.5 615.5,1196.8 616,1196.7 616.5,1196.4 617,1196.3 618,1196.6 618.5,1196.6 619.5,1195.8 620,1195.9 620.5,1196.3 621,1196.5 622,1196.3 623,1196.6 624,1196.1 625,1196.2 625.5,1196.3 626,1196.6 626.5,1196.7 627.5,1196.2 628.5,1196.3 629.5,1195.9 630.5,1196.3 631.5,1196.2 632.5,1196.8 633,1196.7 634,1196.4 635,1196.4 637,1196.9 637.5,1196.9 639.5,1196 642,1196.3 643,1196.5 644,1196.3 645,1196.4 646.5,1196.1 649.5,1196.6 651,1196 652.5,1196.3 653.5,1196.5 654.5,1195.9 655,1195.9 656,1196.7 656.5,1197 657,1197 658,1196.5 659,1197 660,1196.4 661,1196.5 662,1195.7 662.5,1195.7 663.5,1196.5 664,1196.7 666.5,1196.1 667.5,1196.3 668,1196.3 669,1196.6 670.5,1196.4 671.5,1196.8 673,1196.3 674,1196.3 674.5,1195.9 675,1195.8 676.5,1195.9 677.5,1195.7 678.5,1196.2 679.5,1196.2 680.5,1196.8 681.5,1196.3 683,1196.2 684,1195.7 684.5,1195.7 685,1196.1 685.5,1196.2 686.5,1196 687.5,1196 688.5,1196.5 690,1196 691,1196.3 693,1196.6 694,1196.3 695,1196 696,1196.1 696.5,1195.9 697,1195.9 698,1196.4 699,1196.4 700,1196 701,1196 702,1195.7 703,1196.4 703.5,1196.5 704.5,1196.2 705.5,1196.4 706.5,1195.7 707,1195.8 707.5,1196.3 709,1196.5 710,1196 710.5,1196 711,1196.2 711.5,1196.2 712.5,1196 713.5,1196.5 714,1196.7 715,1196.6 716.5,1196.4 717.5,1196.5 718.5,1196 719.5,1195.7 720,1195.7 721,1196.4 721.5,1196.4 722.5,1195.9 724,1196 725,1195.8 725.5,1195.8 726.5,1196.2 728,1196.5 729,1195.9 729.5,1195.7 731,1196.1 731.5,1196.2 733,1195.7 735.5,1195.7 736,1195.9 738,1195.8 739.5,1196.4 740.5,1195.8 741.5,1195.8 742,1195.6 743,1195.8 744.5,1195.8 745.5,1196 747.5,1195.6 748.5,1196 749.5,1195.9 750.5,1195.7 751.5,1195.6 753.5,1195.3 754.5,1195.5 755,1195.7 756.5,1195.2 758,1195.3 759.5,1195.2 760.5,1195 761.5,1195.3 762.5,1194.7 764.5,1194.2 765,1193.9 765.5,1193.4 766,1193.1 767,1193.1 768,1192.6 770,1190.5 770.5,1189.5 771,1188.2 771.5,1186.6 772,1184.3 772.5,1180.8 773,1175.2 773.5,1165.5 774,1148.3 774.5,1121.4 775,1103.7 775.5,1121.6 776,1148.3 776.5,1165.4 777,1175.1 777.5,1180.8 778,1184.4 778.5,1186.9 779,1188.4 779.5,1189.1 780,1189.7 781.5,1192.1 782,1192.6 782.5,1192.9 783.5,1193.1 784.5,1193.1 785.5,1194 786,1194.3 787,1194.2 788.5,1193.7 789.5,1194.4 791.5,1194.5 792.5,1194.3 793,1194.4 793.5,1194.7 794,1194.8 794.5,1194.5 797,1194.6 797.5,1194.6 798.5,1194.2 799.5,1194.6 800.5,1194.2 801.5,1194.3 802,1194.2 802.5,1194.3 803,1194.6 803.5,1194.6 804.5,1194 805,1194.1 805.5,1194.4 806,1194.4 806.5,1194.1 807,1194.2 807.5,1194.5 809,1194.4 810,1193.8 811.5,1193.8 813,1193.2 814,1193.1 815,1193.5 815.5,1193.6 816.5,1193.1 818.5,1192.9 819.5,1192.5 821,1192.3 822,1192.5 823.5,1192 824,1191.9 825,1191.1 826.5,1190.7 827.5,1190.2 828,1190.1 829,1190 830,1189 830.5,1188.8 831,1188.8 832.5,1188.2 833.5,1187 834,1186.6 835,1186.3 836,1185.3 837,1184.5 837.5,1184 838,1183.4 839,1181.1 840.5,1178.2 841,1177.1 841.5,1175.8 842,1173.9 842.5,1171.8 843,1169.5 843.5,1166.7 844,1163.2 844.5,1158.5 845,1152.4 845.5,1144.6 846,1134.6 846.5,1120.2 847,1098.9 847.5,1066.3 848,1014.2 848.5,930.5 849,875.9 850,875.9 850.5,891 851,989.5 851.5,1052.6 852,1091.7 852.5,1116.9 853,1133.8 853.5,1145.5 854,1154.1 854.5,1160.7 855,1165.7 855.5,1169.6 856,1173.1 856.5,1175.8 857,1177.7 858.5,1182.7 859,1184 859.5,1185 860.5,1186.3 861.5,1187.9 862.5,1189.1 863,1189.7 863.5,1189.9 864,1189.9 864.5,1190.2 865.5,1191.5 866,1191.8 866.5,1191.8 867,1192 867.5,1192.4 868,1192.5 869,1192 870,1192 871,1191.6 871.5,1191.8 872.5,1192.6 873.5,1193.2 874,1193.7 874.5,1194 875,1193.9 876,1193.4 877.5,1192.9 878,1193.3 878.5,1193.8 879.5,1194.3 880,1194.8 880.5,1195 882,1194.8 883.5,1195.4 884,1195.4 885,1195 886,1195.2 887,1195.5 888,1195.2 889,1195.8 890,1195.6 891,1195.8 893,1195.8 894,1195.8 895.5,1195.8 896.5,1196 898,1195.5 898.5,1195.5 900,1196.1 901,1195.6 902,1195.7 903,1195.4 904.5,1195.8 905,1195.9 906,1195.9 906.5,1196.1 908,1195.5 908.5,1195.6 909,1196.1 909.5,1196.2 910.5,1195.6 912.5,1196.2 913,1196.1 913.5,1195.8 914,1195.6 915,1195.9 915.5,1195.8 917,1196.1 918.5,1195.7 919.5,1195.9 921.5,1195.9 922,1195.7 922.5,1195.3 923,1195.1 924,1195.1 925,1194.6 925.5,1194.4 926.5,1195.1 928,1195.5 929.5,1196.1 930.5,1196.2 931.5,1195.7 933,1195.5 933.5,1195.6 935,1196.3 937,1196.3 938,1196 941,1196.4 942.5,1196.2 943,1196 947,1196.2 948,1196.4 950.5,1196.1 951.5,1196.1 952.5,1196.4 953.5,1196.2 954.5,1196.4 955.5,1196.2 957,1196.7 958,1196.1 958.5,1195.8 959,1196 959.5,1196.6 960,1196.7 960.5,1196.3 961,1196.2 962,1196.6 962.5,1196.4 963.5,1195.6 964,1195.6 965,1196.3 965.5,1196.4 967,1196 968.5,1196.4 969.5,1196.5 970,1196.6 971,1196.6 972,1196.8 973,1196.5 974,1196.1 975,1196.4 975.5,1196.2 976,1196.3 976.5,1196.6 977.5,1196.5 979,1196 980.5,1196.1 982,1196.7 982.5,1196.6 983.5,1195.9 984,1195.7 984.5,1195.7 985,1196 985.5,1196.5 986,1196.7 987.5,1196.1 988.5,1195.7 989,1195.7 989.5,1195.9 990.5,1196.3 991.5,1196.4 992,1196.4 993.5,1195.9 994,1196 995,1196.4 996.5,1196.4 997.5,1196.2 1000,1196.5 1001.5,1196.4 1002,1196.6 1004,1196.4 1004.5,1196.2 1005,1196.2 1005.5,1196.5 1006.5,1196.6 1007.5,1196.4 1009,1196.5 1009.5,1196.4 1010.5,1195.9 1011.5,1196.6 1012.5,1196.7 1013,1196.9 1015.5,1196.1 1016,1196.1 1017,1196.4 1018,1196.3 1019.5,1196.7 1020,1196.6 1021,1195.8 1022,1195.5 1022.5,1195.5 1023.5,1196.1 1024,1196.2 1026,1196.2 1026.5,1196.1 1028,1196.3 1029,1196 1029.5,1196.1 1030,1196.4 1030.5,1196.5 1031.5,1196.1 1033,1196.6 1034.5,1196 1035.5,1196.2 1037,1195.9 1039,1196.3 1040.5,1196.1 1041.5,1196.5 1043,1196.1 1044,1196.2 1045,1196.6 1046.5,1196.4 1047.5,1196.7 1048,1196.7 1049,1196.3 1049.5,1196.5 1050,1196.4 1050.5,1196.2 1052.5,1196.5 1053,1196.7 1054,1196.2 1055,1196.2 1056,1196.3 1057,1196 1057.5,1196 1058.5,1196.5 1059.5,1196.2 1060.5,1196.1 1062,1196.4 1063,1196.2 1063.5,1196.3 1064.5,1196.2 1066,1196.5 1067.5,1196.2 1068.5,1196.4 1069,1196.2 1071,1196.4 1072,1196.6 1073,1196.2 1074.5,1196.4 1075.5,1196.1 1076.5,1196.5 1077,1196.6 1078.5,1195.9 1079,1196 1080.5,1196.6 1082,1196.7 1082.5,1196.8 1083,1196.7 1083.5,1196.4 1084,1196.3 1085,1196.6 1085.5,1196.5 1086.5,1196.8 1087,1196.8 1088,1196.7 1088.5,1196.7 1091,1196.1 1091.5,1196.1 1092,1196.3 1092.5,1196.7 1093,1196.9 1095.5,1196.4 1096.5,1196.5 1097,1196.7 1098,1196.6 1099,1196.2 1099.5,1196.1 1101.5,1196.3 1103,1195.7 1103.5,1195.7 1104.5,1196.4 1105,1196.5 1106,1195.8 1106.5,1196 1107,1196.4 1107.5,1196.6 1108.5,1196.2 1110.5,1196.7 1111,1196.7 1112,1196.2 1112.5,1196.2 1113.5,1196.5 1115,1196.6 1117,1196.2 1118,1196.6 1118.5,1196.6 1119.5,1196.2 1120.5,1196.2 1121.5,1196.4 1122.5,1195.9 1123,1195.8 1124.5,1196.4 1125,1196.5 1126,1196.2 1128,1196.3 1129,1196.7 1129.5,1196.4 1130,1196.4 1130.5,1196.6 1131.5,1196.2 1133,1196.3 1135,1196.3 1136,1196.1 1136.5,1196.2 1137,1196.5 1137.5,1196.6 1139,1196.2 1140.5,1196.3 1142,1196.7 1145,1196.7 1145.5,1196.6 1146.5,1196.1 1147.5,1195.9 1148,1196.1 1149,1196.8 1149.5,1196.8 1150,1196.5 1152,1196.1 1154,1196.2 1154.5,1196 1156,1196 1157,1196.6 1158,1196.3 1158.5,1196.4 1159.5,1196.9 1160,1196.8 1161,1196.3 1162,1196.4 1163.5,1196.4 1164,1196.1 1165.5,1196.3 1166,1196.4 1167,1196.2 1167.5,1196.2 1168,1196.4 1169.5,1196.5 1170.5,1196 1171.5,1196.8 1172,1196.8 1172.5,1196.7 1173.5,1195.9 1174.5,1196 1175.5,1196.6 1176,1196.6 1176.5,1196.4 1178,1196.3 1179,1196.2 1180,1196.4 1182,1196 1183,1196.3 1184.5,1196 1185.5,1196.1 1186.5,1196.9 1187,1196.8 1188,1196.1 1189,1196.1 1190,1196.2 1190.5,1196.1 1191.5,1196.6 1192,1196.6 1193,1196 1194,1196.2 1195,1196 1196,1196.8 1196.5,1196.7 1197,1196.3 1198.5,1196.4 1202,1196.5 1203,1196.2 1205.5,1196.5 1206,1196.6 1206.5,1196.5 1207.5,1196.1 1209,1196.3 1210,1196.3 1211.5,1196.3 1212,1196.2 1213,1196.6 1214,1196.2 1215.5,1196.7 1217,1196.2 1218,1196.4 1219,1196.2 1220,1196.7 1221,1196.6 1222,1196.6 1223,1196.3 1224,1196.3 1225,1196.2 1226,1196.3 1227,1196.7 1228,1196.7 1229.5,1196.2 1232,1196.6 1233.5,1196.5 1234.5,1196.3 1235,1196.4 1236,1196 1237,1196.4 1237.5,1196.4 1238,1196.1 1238.5,1196.1 1239.5,1196.9 1240.5,1196.7 1241.5,1196.9 1242.5,1196.4 1244.5,1196.6 1245,1196.7 1246,1196.4 1247,1196.4 1248,1196.7 1248.5,1196.5 1249.5,1195.8 1250,1195.9 1250.5,1196.2 1251,1196.4 1252,1196.3 1253,1196.3 1254,1196.2 1255,1196.9 1255.5,1196.8 1256,1196.5 1256.5,1196.4 1257,1196.6 1257.5,1196.4 1258,1196.1 1258.5,1196 1260,1196.6 1261.5,1196.6 1262.5,1196.5 1263.5,1196.6 1264,1196.5 1265,1196.7 1266,1196.3 1267,1196.4 1267.5,1196.3 1270,1196.6 1270.5,1196.8 1272.5,1196.6 1273.5,1196.8 1274,1196.8 1275.5,1196.3 1276.5,1196.7 1277,1196.4 1277.5,1196 1278,1195.9 1279,1196.4 1279.5,1196.5 1280.5,1196.3 1281.5,1196.1 1283,1195.8 1284,1196.2 1285,1196.3 1286,1196.8 1287,1196.9 1287.5,1197 1288.5,1196.5 1290.5,1196.6 1291.5,1196.2 1292,1196.2 1293,1196.6 1293.5,1196.4 1294.5,1196.6 1296.5,1196.4 1298,1196.6 1299,1196.6 1300,1196.1 1301,1196 1301.5,1196.1 1302.5,1197.1 1303,1197.1 1304,1196.1 1304.5,1196.1 1305,1196.4 1307.5,1196 1308.5,1195.7 1309,1195.6 1310,1196.3 1310.5,1196.3 1311.5,1196.1 1313,1196.9 1313.5,1196.9 1314.5,1196.3 1315.5,1196.5 1316.5,1195.8 1317.5,1196.2 1320.5,1196.5 1321.5,1196.2 1322,1196 1323.5,1196.5 1325,1196.2 1327,1196.3 1327.5,1196.6 1328.5,1196.7 1329,1197 1329.5,1196.9 1330.5,1196.1 1331,1196 1332.5,1196.3 1333.5,1195.9 1334,1195.9 1335,1196.4 1336,1196.1 1336.5,1196.3 1337,1196.7 1337.5,1196.9 1339,1196.4 1339.5,1196.2 1340.5,1196.5 1342,1196.5 1343,1196.4 1344,1196.4 1345,1196 1348,1196.2 1349,1196.3 1350.5,1196.2 1351.5,1196.6 1352.5,1196.3 1355,1196.2 1356,1196.5 1356.5,1196.3 1357,1195.9 1357.5,1195.8 1358.5,1196.3 1359.5,1197 1360,1197 1361,1196.5 1363.5,1196.6 1364.5,1196.3 1366.5,1196.1 1368,1196.8 1369,1196 1369.5,1195.9 1371,1196.2 1372.5,1196.1 1374,1196.7 1375.5,1196.5 1376.5,1196.3 1377,1196.4 1377.5,1196.8 1378,1196.8 1380,1195.8 1381,1196.1 1382,1196.6 1382.5,1196.5 1383,1196.3 1383.5,1196.2 1384.5,1196.7 1385.5,1196.7 1387,1196.4 1388,1196.1 1389,1196.7 1389.5,1196.8 1390.5,1196.6 1392,1196.6 1393,1196.1 1394,1196.1 1394.5,1195.9 1395.5,1196.3 1397,1196.3 1398,1196.4 1399,1196.1 1401,1196.3 1402,1196.1 1403,1196.4 1404.5,1196 1406.5,1196.1 1408.5,1196.9 1409,1196.8 1409.5,1196.4 1411,1196.2 1411.5,1196.3 1412,1196.6 1412.5,1196.7 1413.5,1196.2 1414,1196.1 1416,1196.3 1417.5,1196.1 1420,1196.6 1421,1196.3 1421.5,1196 1422,1196 1422.5,1196.4 1423,1196.9 1423.5,1197.2 1424.5,1196.2 1425,1195.9 1426,1196.3 1427.5,1196.2 1429.5,1196.2 1430.5,1196.7 1431,1197.1 1431.5,1196.9 1432,1196.5 1432.5,1196.3 1433,1196.6 1433.5,1196.6 1434,1196.3 1435,1196.2 1436,1196.5 1437,1196.9 1438.5,1196.5 1439.5,1196.6 1440,1196.8 1440.5,1196.7 1441.5,1196 1442,1196.2 1442.5,1196.5 1443,1196.6 1444.5,1196 1446,1196.5 1446.5,1196.5 1447.5,1196 1448,1196 1449,1196.3 1450,1196.3 1451,1196.6 1452,1196.4 1453,1196.7 1453.5,1196.7 1454.5,1196.3 1455.5,1196.4 1456,1196.2 1456.5,1196.3 1457,1196.5 1458.5,1196.5 1460.5,1196.5 1461,1196.3 1463,1196.8 1464,1196.6 1465,1196.1 1466,1195.9 1467,1196.3 1467.5,1196.3 1468,1196.2 1469,1196.5 1470,1196.4 1471,1196.6 1472,1196.8 1472.5,1196.7 1473.5,1196.2 1474,1196.2 1475.5,1196.9 1476.5,1196.7 1477.5,1196.4 1478.5,1196.5 1480,1196.3 1481.5,1196.6 1482.5,1196.7 1484,1196.1 1485,1196.2 1487,1196.5 1488,1196.4 1488.5,1196.5 1489.5,1196.3 1490.5,1196.5 1491.5,1196.2 1492,1196.2 1493,1196.6 1494,1196.4 1494.5,1196.5 1495,1196.8 1495.5,1196.8 1496.5,1196.4 1497.5,1196.3 1498.5,1196.7 1499,1196.6 1499.5,1196.4 1500,1196.3 1501,1196.7 1501.5,1196.7 1502.5,1196.4 1505,1196.6 1505.5,1196.4 1506.5,1196.5 1508,1196.2 1509.5,1196.5 1511.5,1196.4 1513.5,1196.5 1514,1196.4 1514.5,1196.1 1515,1196.2 1515.5,1196.7 1516,1197 1517,1196.5 1518,1196.4 1518.5,1196.5 1520,1196.1 1521.5,1196.2 1522.5,1196.5 1523.5,1196 1524,1196.1 1524.5,1196.4 1525,1196.6 1525.5,1196.5 1526,1196.2 1526.5,1196.1 1528,1196.7 1529.5,1196.6 1531,1196.1 1532.5,1195.9 1534,1196 1534.5,1196.3 1535.5,1196.2 1536.5,1196.4 1538,1196 1538.5,1195.7 1539,1195.8 1539.5,1196.1 1542,1196.3 1543,1196.3 1545,1196.5 1546.5,1196.1 1547.5,1196.6 1548,1196.6 1548.5,1196.5 1549,1196.1 1549.5,1196 1553.5,1196.4 1554,1196.3 1555,1196.5 1556,1196.9 1556.5,1196.9 1557.5,1196.2 1558,1196.2 1558.5,1196.5 1559.5,1196.4 1560,1196.3 1561,1196.4 1561.5,1196.3 1562,1195.9 1562.5,1195.9 1563.5,1196.2 1565.5,1196.5 1566.5,1196.2 1567,1196.2 1568,1196.3 1569.5,1196.1 1570,1196.2 1571,1196.7 1572,1196.6 1572.5,1196.7 1573.5,1196.6 1575.5,1196.8 1576,1196.5 1578.5,1196.2 1579.5,1197 1580,1197.2 1580.5,1197.2 1581.5,1196.6 1582.5,1196.5 1583.5,1196.7 1585,1196.6 1585.5,1196.4 1586,1196 1586.5,1195.9 1587.5,1196.4 1588.5,1196.3 1590,1196.6 1593,1196.2 1594,1196.5 1595,1196.1 1596,1196.4 1597,1196.3 1597.5,1196.4 1598.5,1196.3 1599,1196.6 1599.5,1196.6 1600,1196.3 1600.5,1196.2 1603,1196.9 1603.5,1196.8 1604.5,1196.4 1605.5,1196.5 1606.5,1196.2 1607.5,1196.2 1609,1196.5 1610,1196 1610.5,1195.9 1611.5,1195.6 1612.5,1196.3 1613.5,1196.6 1615,1196.5 1616.5,1196.6 1618,1196.2 1619.5,1196.7 1620.5,1196.6 1622,1196.2 1623.5,1196.5 1624,1196.7 1625,1196.4 1626,1196.7 1627,1196.2 1627.5,1196.2 1628.5,1196.6 1629,1196.7 1630,1196.3 1630.5,1196.3 1631.5,1196.7 1633,1196.6 1635,1196.5 1636.5,1196.6 1637.5,1196.6 1638,1196.6 1638.5,1196.3 1639,1196.2 1640,1196.5 1640.5,1196.4 1641.5,1196.5 1642,1196.2 1642.5,1196.1 1644,1196.4 1645.5,1196.1 1646.5,1196.4 1647.5,1196.2 1648.5,1196.6 1649.5,1196.5 1650.5,1196.6 1652.5,1196.4 1653,1196.5 1655,1196 1655.5,1196.1 1656.5,1196.7 1657.5,1197 1658,1196.9 1659.5,1196.1 1661,1196.3 1662,1196.2 1663,1196.3 1663.5,1196.6 1664,1196.6 1665.5,1196.2 1667.5,1196.2 1668,1196.3 1668.5,1196.2 1669,1195.9 1669.5,1195.8 1671.5,1196.5 1673.5,1196.6 1675,1196 1676.5,1196 1677.5,1196.4 1678.5,1196.4 1679,1196.6 1679.5,1196.6 1680,1196.4 1681,1196.4 1682.5,1196.1 1683,1196.2 1684,1196.5 1686,1196.3 1687,1196.6 1688,1196.4 1689,1196.7 1690,1196.7 1691,1196.8 1692.5,1196.3 1693.5,1196.1 1694.5,1196.2 1695,1196.2 1696.5,1196.5 1698.5,1196.5 1701,1196 1701.5,1196.2 1702,1196.3 1702.5,1196.1 1703,1196.1 1704.5,1196.5 1706,1196.3 1707,1196.4 1707.5,1196.6 1708,1196.6 1709,1196 1709.5,1196 1710.5,1196.6 1711,1196.6 1713,1195.8 1713.5,1195.8 1714.5,1196.2 1717,1196.1 1718,1195.9 1718.5,1196.1 1719,1196.4 1720.5,1196.4 1722.5,1195.7 1725,1195.6 1725.5,1195.8 1726,1196.2 1726.5,1196.3 1729.5,1196.1 1730.5,1196.3 1732,1195.9 1734.5,1196 1735.5,1195.6 1737.5,1195.6 1738.5,1195.5 1739.5,1195.6 1740.5,1194.9 1741.5,1194.8 1742.5,1195.1 1743.5,1194.8 1744.5,1194.8 1745.5,1194.2 1746,1194.1 1746.5,1193.8 1747,1193.3 1747.5,1193.2 1748,1193.4 1748.5,1192.9 1749.5,1191 1750,1190.3 1750.5,1189.1 1751,1187.1 1751.5,1184.9 1752,1182.9 1752.5,1182.1 1753,1182.9 1753.5,1184 1754,1184.8 1754.5,1184.9 1755,1184.4 1755.5,1183.3 1756,1181 1756.5,1177.3 1757,1172.9 1757.5,1170.1 1758,1171.2 1759,1179.1 1759.5,1182.2 1760,1184.2 1760.5,1185.3 1761,1185.5 1761.5,1185 1762,1183.8 1762.5,1182.3 1763,1181.1 1763.5,1181.5 1764,1183.6 1765,1188.2 1765.5,1190 1766,1191.2 1767,1192.6 1767.5,1192.9 1768,1193 1768.5,1193.3 1769,1193.9 1769.5,1194.2 1770.5,1194.2 1773,1195 1774,1195.5 1774.5,1195.5 1775.5,1195.1 1776.5,1195.1 1778,1196 1779,1195.9 1780,1195.6 1781.5,1196 1783,1195.8 1784,1195.9 1784.5,1195.8 1785.5,1196 1786.5,1196.1 1788,1196.4 1789,1195.9 1789.5,1195.8 1790,1196 1790.5,1196.4 1791,1196.4 1791.5,1196.2 1793,1196.3 1793.5,1196 1794,1195.8 1795,1196.3 1796,1195.8 1798,1196.6 1798.5,1196.7 1799.5,1196.1 1800.5,1196.3 1801.5,1196 1802,1196 1802.5,1196.3 1803.5,1196.2 1804,1196.3 1805,1196.8 1805.5,1196.9 1806.5,1196.6 1808,1196.5 1809,1196.8 1810.5,1196.5 1811.5,1196.2 1812,1196 1813,1196.1 1814,1196.4 1815,1196.3 1815.5,1196.1 1816,1196 1817.5,1196.3 1818,1196.5 1818.5,1196.5 1819.5,1196.2 1821,1195.6 1822.5,1196.2 1824,1196.1 1826,1196.4 1826.5,1196.6 1827,1196.5 1828.5,1195.9 1829,1195.4 1829.5,1195.3 1832,1196.5 1833.5,1196.5 1834.5,1196.1 1835.5,1196.2 1836,1196.1 1836.5,1195.9 1837,1195.9 1838,1196.5 1838.5,1196.4 1839,1196.2 1839.5,1196.1 1840.5,1196.5 1841.5,1196.1 1843,1196.1 1843.5,1196.4 1844,1196.5 1845,1195.8 1846.5,1196 1847.5,1195.8 1848.5,1196.2 1849,1196.3 1850,1195.8 1851,1196.2 1852,1196.3 1852.5,1196.5 1853,1196.4 1853.5,1196 1854,1195.9 1854.5,1196.1 1855.5,1195.9 1856.5,1196.5 1858,1196 1858.5,1195.6 1859,1195.5 1860,1196.2 1860.5,1196.3 1862.5,1195.7 1864,1195.8 1865,1195.7 1866,1196.2 1868.5,1195.7 1870,1196 1871,1195.8 1871.5,1195.5 1872,1195.5 1873,1196.2 1874.5,1196.3 1876,1195.9 1877,1196 1877.5,1195.8 1878,1195.7 1879,1195.9 1880.5,1195.9 1881.5,1195.3 1882.5,1196 1884,1196.2 1885.5,1195.8 1887,1196 1888,1195.5 1888.5,1195.4 1890,1196 1891,1195.7 1892,1195.3 1893,1195.4 1893.5,1195 1894,1194.9 1895,1195.2 1895.5,1195.4 1898,1195.5 1898.5,1195.3 1899.5,1195.2 1900.5,1194.7 1903,1194.8 1903.5,1194.9 1907.5,1194.1 1908.5,1194.4 1909,1194.3 1910,1193.9 1912.5,1194.1 1913,1194.1 1914,1193.9 1914.5,1193.8 1915.5,1193.1 1916.5,1193.3 1918,1192.9 1920,1192.9 1921.5,1192.4 1923,1192.5 1924,1192.5 1926.5,1191.9 1927,1192.1 1928,1192.7 1928.5,1192.8 1929,1192.6 1930,1191.7 1930.5,1191.8 1931,1192.3 1931.5,1192.3 1932,1192.1 1933.5,1191.9 1934.5,1191.7 1935.5,1191.9 1937,1191.5 1938,1191.1 1939,1190.8 1940,1191 1941,1190.6 1942,1190.9 1943.5,1190.8 1944.5,1190.2 1946.5,1189.9 1947.5,1189.8 1948.5,1189 1949.5,1188.5 1950,1188.1 1950.5,1188 1951.5,1188.4 1953,1188.1 1955,1187.2 1956,1186.4 1958,1185.8 1959.5,1185.1 1960.5,1184.7 1961.5,1183.9 1962,1184 1962.5,1183.8 1963.5,1182.8 1964,1182.4 1967,1178.5 1968.5,1176.1 1969.5,1174.6 1970.5,1172.6 1972.5,1167.4 1973,1165.9 1973.5,1164.1 1974,1161.6 1975,1155.8 1975.5,1152.7 1976,1149.2 1976.5,1144.9 1977,1139.7 1977.5,1133.6 1978,1124.2 1978.5,1112.3 1979,1100 1979.5,1088 1980,1075.5 1980.5,1061.1 1981,1044.1 1981.5,1033.2 1982,1026.1 1982.5,1020.8 1983,1018.2 1983.5,1017 1985,1014.6 1985.5,1014 1986,1012.7 1986.5,1008.2 1987.5,987 1988,975.1 1988.5,964.3 1989,956.5 1989.5,949.6 1990,944.7 1990.5,944.3 1991,948.4 1991.5,954.8 1992,962.1 1992.5,973 1993,985.2 1993.5,994.6 1994,1002.8 1994.5,1009.5 1995,1012.4 1995.5,1013.1 1996.5,1013.9 1997,1014.6 1997.5,1016.7 1998,1020.7 1998.5,1026.2 1999,1035.9 1999.5,1051.8 2000,1065.4 2000.5,1078 2001,1089.9 2001.5,1101.5 2002,1112.8 2002.5,1122.7 2003,1130.5 2003.5,1137 2004,1142.5 2004.5,1147 2005,1151.1 2005.5,1154.8 2006,1157.8 2007,1163.4 2007.5,1165.7 2008.5,1169.2 2009,1170.8 2010.5,1174.9 2011,1175.8 2012,1177.3 2013,1179.1 2014,1180.5 2015,1182.3 2016.5,1184.2 2017,1185 2017.5,1185.6 2019,1186.5 2020,1187.5 2020.5,1187.8 2021,1188 2021.5,1187.8 2022,1187.9 2023,1188.8 2024,1189.4 2025.5,1190 2026.5,1190.4 2027.5,1190.6 2028,1190.9 2030,1191.5 2031,1191.8 2031.5,1191.7 2033,1192 2034.5,1191.8 2035,1191.6 2037,1192.3 2037.5,1192.3 2039,1191.6 2039.5,1191.6 2040.5,1191.1 2041,1191.1 2041.5,1191.3 2042.5,1191.3 2043,1191.5 2044,1191.3 2045.5,1191.3 2047,1191.4 2048,1191.6 2049,1192.1 2050.5,1192.3 2051,1192 2051.5,1191.8 2052.5,1192.2 2053,1192.3 2054,1191.9 2054.5,1191.9 2055.5,1192.5 2057.5,1192.7 2059,1193.7 2059.5,1193.8 2061,1193.2 2061.5,1193.2 2062.5,1194 2063,1194 2063.5,1193.9 2064,1194 2065,1194.5 2067,1194.9 2068,1194.8 2070.5,1195.6 2072,1195.5 2073,1195.8 2074,1196.2 2076.5,1195.7 2077,1195.9 2078,1196.5 2080.5,1196.1 2082.5,1196.4 2084,1196.2 2085,1195.9 2086.5,1196.1 2087.5,1196.4 2088.5,1196.3 2089,1196.1 2091,1196.5 2093.5,1196.3 2095.5,1196.6 2096,1196.8 2097,1196.4 2097.5,1196.3 2098,1196.5 2098.5,1196.8 2100,1197.1 2100.5,1197 2101.5,1196.3 2102,1196.1 2103,1196.6 2104,1196.5 2105.5,1196.4 2106.5,1196 2107.5,1196.3 2108,1196.2 2108.5,1195.9 2109,1195.8 2111.5,1196.1 2112.5,1196.6 2114.5,1196.5 2115,1196.5 2116,1196.2 2117,1196.5 2118,1196.3 2119.5,1196.6 2121,1196.2 2122,1196.6 2122.5,1196.6 2123,1196.4 2124,1196.6 2126,1196.2 2127,1196.2 2128,1196 2131.5,1196.9 2132,1197 2133,1196.8 2133.5,1196.5 2134,1196.3 2135,1196.5 2137,1196.5 2138,1196.4 2139,1196.9 2139.5,1196.9 2140.5,1196.6 2141.5,1196.6 2143,1196.1 2143.5,1196.1 2145,1196.7 2146.5,1196.4 2148,1196.7 2149,1196.3 2149.5,1196.3 2150.5,1196.7 2151.5,1196.5 2152.5,1196.6 2154,1196 2155,1196.1 2155.5,1196 2156.5,1196.2 2158.5,1196.1 2159.5,1196.5 2160.5,1196.4 2161.5,1196.7 2163,1196 2163.5,1195.9 2164.5,1196.2 2167.5,1196.3 2168.5,1195.9 2169,1196 2170,1196.5 2171.5,1196.6 2172.5,1196.4 2173.5,1196 2175,1196.3 2176,1196.7 2177,1196.1 2179,1196.1 2180,1195.8 2181,1195.8 2181.5,1195.7 2182,1195.7 2182.5,1196 2183.5,1195.9 2184,1195.9 2185,1196.4 2185.5,1196.3 2186,1195.9 2187.5,1195.9 2188.5,1195.6 2189.5,1195.6 2191,1195.3 2193.5,1193.8 2195,1193.4 2196,1193.8 2196.5,1193.8 2197.5,1193.3 2198,1193.3 2199.5,1194.6 2200,1194.6 2200.5,1194.2 2201,1194.1 2202,1194.6 2203,1195.4 2204.5,1195.5 2205,1195.3 2205.5,1194.9 2206,1194.8 2208.5,1195.9 2209,1195.7 2210.5,1194.9 2211,1195 2212,1196 2212.5,1196.2 2213.5,1195.8"/></g>
<g clip-path="url(#c_bcp1)"><polyline fill="none" stroke="#000" stroke-width="2.6" stroke-linejoin="round" points="26.5,1452.7 27,1449.6 27.5,1451.1 28,1450.5 28.5,1452 29,1450.6 29.5,1451.4 30,1449.4 30.5,1451.4 31,1449.2 31.5,1451.8 32,1450.1 32.5,1451.6 33,1449.5 33.5,1452.5 34,1449.3 34.5,1451 35,1449.3 35.5,1451.1 36,1450 36.5,1451.1 37,1449.3 37.5,1451.6 38,1450 38.5,1451.3 39,1449.9 39.5,1451.7 40,1449.1 40.5,1451.6 41,1450.3 41.5,1451.9 42,1449.3 42.5,1451.4 43,1449.7 43.5,1451.6 44,1449.8 44.5,1452.6 45,1449.6 45.5,1451.9 46,1449.2 46.5,1451.1 47,1448.8 47.5,1450.4 48,1449.4 48.5,1451.3 49,1449.4 49.5,1450.4 50,1449.7 50.5,1451.1 51,1449.4 51.5,1452.9 52,1449.4 52.5,1450.9 53,1449.7 53.5,1451.2 54,1449.5 54.5,1451.2 55,1449.7 55.5,1451.6 56,1449.3 56.5,1450.5 57,1449.2 57.5,1450.7 58,1449.7 58.5,1450.7 59,1450 59.5,1451.1 60,1449.1 60.5,1451 61,1450.5 61.5,1451.8 62,1450 62.5,1452.2 63,1450.5 63.5,1451.4 64,1450.5 64.5,1453 65,1449.6 65.5,1451.7 66,1450.6 66.5,1453.1 67,1450.9 67.5,1452.4 68,1450.3 68.5,1451.5 69,1450.4 69.5,1452.1 70,1451.4 70.5,1452.4 71,1450.4 71.5,1453 72,1450.9 72.5,1452.9 73,1450.4 73.5,1451.9 74,1450.6 74.5,1451.9 75,1450 75.5,1452.1 76,1450.2 76.5,1452.2 77,1450.4 77.5,1451.7 78,1449.8 78.5,1452.1 79,1450.3 79.5,1451.3 80,1449.2 80.5,1451.1 81,1449.6 81.5,1450.8 82,1449.8 82.5,1451.4 83,1449.7 83.5,1451 84,1449.4 84.5,1451 85,1448.1 85.5,1452.1 86,1450.2 86.5,1451.6 87,1450.3 87.5,1451.4 88,1449.9 88.5,1450.9 89,1449.7 89.5,1451.6 90,1450 90.5,1451.2 91,1450.3 91.5,1451.4 92,1449.9 92.5,1450.7 93,1449.3 93.5,1450.9 94,1449.2 94.5,1450.8 95,1449.2 95.5,1451.6 96,1450 96.5,1451 97,1449.4 97.5,1451 98,1449.9 98.5,1451.8 99,1449.6 99.5,1451.4 100,1449.1 100.5,1451 101,1450.7 101.5,1451.9 102,1449.8 102.5,1451.6 103,1450.3 103.5,1451.2 104,1451.4 104.5,1451.9 105,1450.9 105.5,1451.2 106,1449.4 106.5,1451.2 107,1450.2 107.5,1451 108,1449.8 108.5,1451.2 109,1449.7 109.5,1451 110,1449.5 110.5,1451.1 111,1450.2 111.5,1451.7 112,1449.6 112.5,1451.1 113,1449.8 113.5,1451.4 114,1450.2 114.5,1451.4 115,1449.5 115.5,1451.2 116,1450 116.5,1451.1 117,1449.4 117.5,1450.8 118,1449.4 118.5,1451.4 119,1449.7 119.5,1451.6 120,1449.9 120.5,1451.9 121,1450.2 121.5,1451.4 122,1449.4 122.5,1450.8 123,1450 123.5,1451.4 124,1450.2 124.5,1451.3 125,1450.3 125.5,1451.7 126,1450.2 126.5,1451.3 127,1450.3 127.5,1451.5 128,1450.3 128.5,1452 129,1450.7 129.5,1452 130,1450.2 130.5,1452.4 131,1450.9 131.5,1452.3 132,1451 132.5,1453.4 133,1450.7 133.5,1452 134,1449.7 134.5,1452 135,1450.1 135.5,1452 136,1450.2 136.5,1451.8 137,1450 137.5,1451.8 138,1449.4 138.5,1450.9 139,1449.8 139.5,1451.5 140,1449.8 140.5,1450.4 141,1449.7 141.5,1450.9 142,1450.2 142.5,1451.2 143,1449.3 143.5,1450.7 144,1449.6 144.5,1451.4 145,1449.1 145.5,1451.3 146,1449.2 146.5,1450.9 147,1449.8 147.5,1451.1 148,1449.5 148.5,1451.7 149,1448.2 149.5,1450.8 150,1449.8 150.5,1451.3 151,1448.8 151.5,1452 152,1450.3 152.5,1451.7 153,1450 153.5,1452.4 154,1450.8 154.5,1451.8 155,1449 155.5,1452.1 156,1449.9 156.5,1452 157,1449.7 157.5,1451.2 158,1450.2 158.5,1451.4 159,1449.7 159.5,1451.5 160,1450.1 160.5,1451.5 161,1449.9 161.5,1451.5 162,1450.7 162.5,1451.7 163,1449.9 163.5,1451.8 164,1449.4 164.5,1451.8 165,1449.8 165.5,1452 166,1450.5 166.5,1451.2 167,1449.1 167.5,1451.6 168,1450.2 168.5,1451.8 169,1449.8 169.5,1452.4 170,1449.9 170.5,1450.8 171,1450.9 171.5,1451.8 172,1450.3 172.5,1451.2 173,1449.8 173.5,1450.9 174,1449.8 174.5,1452.2 175,1450.3 175.5,1451.8 176,1447.3 176.5,1451.3 177,1449.7 177.5,1451.1 178,1449.5 178.5,1451.3 179,1449.6 179.5,1451.3 180,1449.7 180.5,1451.4 181,1449.4 181.5,1451.4 182,1449.7 182.5,1450.5 183,1449.7 183.5,1451.1 184,1449.2 184.5,1450.2 185,1448.9 185.5,1450.5 186,1448.8 186.5,1450.5 187,1448.9 187.5,1451.1 188,1449.7 188.5,1450.7 189,1449.7 189.5,1450.4 190,1449.9 190.5,1451.3 191,1449.6 191.5,1451.3 192,1449.8 192.5,1451.4 193,1449.9 193.5,1451.6 194,1449.9 194.5,1450.7 195,1449.4 195.5,1450.9 196,1449.6 196.5,1451 197,1449.1 197.5,1450 198,1449.2 198.5,1450.7 199,1449.5 199.5,1450.9 200,1449.6 200.5,1450.3 201,1448.1 201.5,1450.8 202,1449.4 202.5,1450.8 203,1450 203.5,1452.2 204,1450.2 204.5,1451.8 205,1449.9 205.5,1451.1 206,1449.1 206.5,1451.4 207,1449.3 207.5,1451.6 208,1449.9 208.5,1451.1 209,1449.4 209.5,1450.8 210,1449.9 210.5,1451.4 211,1449.5 211.5,1451.2 212,1450.3 212.5,1451.5 213,1449.6 213.5,1450.6 214,1450.2 214.5,1451.6 215,1449.9 215.5,1450.6 216,1449.6 216.5,1451.6 217,1450 217.5,1451.1 218,1448.8 218.5,1451.3 219,1449.7 219.5,1453.8 220,1449.1 220.5,1451.8 221,1449.7 221.5,1452 222,1449.9 222.5,1451.9 223,1450.3 223.5,1451.7 224,1450.5 224.5,1452.3 225,1450.8 225.5,1453 226,1450.5 226.5,1451.5 227,1449.9 227.5,1452.4 228,1450.8 228.5,1451.6 229,1450.1 229.5,1452.2 230,1450.1 230.5,1452.1 231,1449.7 231.5,1452.5 232,1450.5 232.5,1452 233,1450.1 233.5,1451.6 234,1450.2 234.5,1451.8 235,1449.9 235.5,1451.5 236,1449.2 236.5,1451.3 237,1450.7 237.5,1452.1 238,1450.5 238.5,1452.5 239,1450.3 239.5,1452.2 240,1449.7 240.5,1450.9 241,1450.2 241.5,1451.8 242,1449.5 242.5,1452.1 243,1449.9 243.5,1451.9 244,1450.2 244.5,1451.1 245,1450.5 245.5,1451.3 246,1450.4 246.5,1451.1 247,1450 247.5,1451 248,1449.9 248.5,1451.3 249,1448.9 249.5,1451.8 250,1449.5 250.5,1451.9 251,1450.4 251.5,1451.8 252,1449.5 252.5,1450.8 253,1449.1 253.5,1451.9 254,1449.7 254.5,1451.1 255,1449.8 255.5,1450.9 256,1449.9 256.5,1451.3 257,1448.6 257.5,1451 258,1448.8 258.5,1451.5 259,1449.4 259.5,1451 260,1450.3 260.5,1452 261,1449.8 261.5,1451.3 262,1449.4 262.5,1451.3 263,1450.2 263.5,1451.8 264,1449.9 264.5,1450.6 265,1450 265.5,1451.7 266,1449.8 266.5,1452 267,1450.1 267.5,1450.8 268,1449.7 268.5,1450.3 269,1449.5 269.5,1451.1 270,1448.7 270.5,1451.9 271,1448.4 271.5,1451.1 272,1449.1 272.5,1450.4 273,1448.1 273.5,1450.9 274,1449.1 274.5,1450.2 275,1448.4 275.5,1450.7 276,1449.3 276.5,1450.9 277,1449.4 277.5,1450.9 278,1449.5 278.5,1451 279,1449.4 279.5,1451.4 280,1449.8 280.5,1451 281,1450.4 281.5,1451.4 282,1450.4 282.5,1451.9 283,1450.7 283.5,1452.2 284,1450.6 284.5,1451.1 285,1450.1 285.5,1452 286,1449.9 286.5,1451.8 287,1450.4 287.5,1451.3 288,1449.5 288.5,1452.1 289,1450.7 289.5,1451.7 290,1448.6 290.5,1451.5 291,1449.5 291.5,1451.6 292,1449.3 292.5,1451.5 293,1449.6 293.5,1451 294,1449.3 294.5,1450.7 295,1449.2 295.5,1451.1 296,1449.5 296.5,1451.2 297,1449.9 297.5,1451.1 298,1449.9 298.5,1450.8 299,1449.8 299.5,1450.9 300,1449 300.5,1451 301,1450.3 301.5,1451.3 302,1450.1 302.5,1451 303,1449.9 303.5,1451.8 304,1450.4 304.5,1451.4 305,1450.6 305.5,1452.2 306,1451.5 306.5,1452.6 307,1451.2 307.5,1452.2 308,1451 308.5,1452.7 309,1450.7 309.5,1451.8 310,1451 310.5,1452.4 311,1450.3 311.5,1451.6 312,1450.1 312.5,1451.5 313,1449.1 313.5,1451.7 314,1450.3 314.5,1451.4 315,1450.4 315.5,1453 316,1450.6 316.5,1452.2 317,1449.5 317.5,1451.7 318,1449.7 318.5,1451.5 319,1449.2 319.5,1451.3 320,1450 320.5,1451.5 321,1449.1 321.5,1450.5 322,1450 322.5,1451.9 323,1450.1 323.5,1450.7 324,1449.5 324.5,1451 325,1449.8 325.5,1451.3 326,1449 326.5,1450.7 327,1448.8 327.5,1450.2 328,1449.1 328.5,1450.5 329,1449 329.5,1451.1 330,1449.8 330.5,1451.3 331,1449.4 331.5,1450.8 332,1450.3 332.5,1451.2 333,1450.3 333.5,1451.1 334,1450.4 334.5,1451.1 335,1450.3 335.5,1451.2 336,1448.8 336.5,1450.9 337,1449.2 337.5,1450.3 338,1449.8 338.5,1450.8 339,1449.6 339.5,1450.2 340,1449.9 340.5,1451.5 341,1449.7 341.5,1450.4 342,1449.7 342.5,1450.2 343,1449.4 343.5,1450.9 344,1449.3 344.5,1451.9 345,1449.5 345.5,1451.2 346,1449.8 346.5,1452.7 347,1450.2 347.5,1451.2 348,1450.5 348.5,1452.2 349,1451 349.5,1452.6 350,1451.6 350.5,1452.5 351,1451.4 351.5,1452.3 352,1451.4 352.5,1452 353,1450.8 353.5,1452.1 354,1451.1 354.5,1452.1 355,1450.4 355.5,1451.3 356,1449.2 356.5,1451.4 357,1449.7 357.5,1451.2 358,1449.7 358.5,1451.8 359,1449.6 359.5,1451 360,1449.5 360.5,1451.1 361,1450 361.5,1451.1 362,1449.7 362.5,1451.3 363,1449.4 363.5,1451.1 364,1450 364.5,1451.7 365,1449.9 365.5,1451.4 366,1449.1 366.5,1452.4 367,1450 367.5,1451.3 368,1449.2 368.5,1451 369,1450 369.5,1451.1 370,1449.3 370.5,1451.1 371,1450.3 371.5,1451 372,1450.2 372.5,1451.8 373,1449.3 373.5,1452.1 374,1450 374.5,1451.8 375,1449.8 375.5,1450.7 376,1449.3 376.5,1451.6 377,1450.4 377.5,1450.8 378,1449.3 378.5,1450.7 379,1449.7 379.5,1450.5 380,1449.2 380.5,1451.3 381,1449.5 381.5,1451.7 382,1449 382.5,1453.6 383,1449.6 383.5,1452.4 384,1450.9 384.5,1453.3 385,1451 385.5,1451.6 386,1451.5 386.5,1452.5 387,1449.9 387.5,1452.1 388,1449.7 388.5,1451.6 389,1450.1 389.5,1451.5 390,1449.9 390.5,1451 391,1450.2 391.5,1450.7 392,1448.9 392.5,1450.6 393,1449.1 393.5,1451.5 394,1449.5 394.5,1451.4 395,1449.2 395.5,1451.2 396,1449.3 396.5,1451.3 397,1449.5 397.5,1451.3 398,1448.8 398.5,1450.9 399,1449.4 399.5,1450.9 400,1448.4 400.5,1451.5 401,1450.2 401.5,1450.8 402,1449.9 402.5,1451.8 403,1449.9 403.5,1451.8 404,1451.3 404.5,1452 405,1450.9 405.5,1452.3 406,1450.2 406.5,1453.1 407,1449 407.5,1453 408,1451.4 408.5,1452.5 409,1450.8 409.5,1452.1 410,1450.7 410.5,1452.4 411,1449.9 411.5,1451.4 412,1450.5 412.5,1452.1 413,1450.4 413.5,1452.2 414,1450.4 414.5,1452 415,1450.9 415.5,1451.6 416,1449.7 416.5,1451.7 417,1450.4 417.5,1451.1 418,1450.2 418.5,1451.4 419,1450.1 419.5,1451.5 420,1450.5 420.5,1452.1 421,1449.6 421.5,1451.4 422,1449.2 422.5,1452.1 423,1449.7 423.5,1451.8 424,1449.8 424.5,1451.9 425,1449.6 425.5,1451.9 426,1449.4 426.5,1451 427,1449.6 427.5,1450.7 428,1449.2 428.5,1451 429,1448.1 429.5,1450.7 430,1449.9 430.5,1450.3 431,1449.6 431.5,1450.9 432,1449 432.5,1450.6 433,1449.2 433.5,1451.3 434,1449.7 434.5,1452.4 435,1449.9 435.5,1450.7 436,1449.7 436.5,1451.2 437,1449.4 437.5,1450.9 438,1449.8 438.5,1451.2 439,1449.5 439.5,1451.1 440,1449.4 440.5,1450.4 441,1449.2 441.5,1451.2 442,1449.3 442.5,1450.8 443,1450.1 443.5,1451.5 444,1449.7 444.5,1451 445,1449.5 445.5,1451.3 446,1449.2 446.5,1451.7 447,1449.2 447.5,1451.1 448,1450 448.5,1451.3 449,1449.9 449.5,1450.9 450,1449.7 450.5,1451.5 451,1448.6 451.5,1450.6 452,1449.3 452.5,1451.6 453,1449.1 453.5,1451.3 454,1449 454.5,1451.1 455,1450.2 455.5,1452.1 456,1449.3 456.5,1451.4 457,1449.1 457.5,1451.1 458,1449.8 458.5,1451.1 459,1449.4 459.5,1451 460,1448.9 460.5,1450.9 461,1449.3 461.5,1452 462,1449.3 462.5,1451.8 463,1449.9 463.5,1451.3 464,1449.5 464.5,1451.5 465,1449.7 465.5,1451.2 466,1450 466.5,1451.7 467,1450.2 467.5,1451.5 468,1449.6 468.5,1451.8 469,1450 469.5,1451.6 470,1450.2 470.5,1451.5 471,1450.3 471.5,1451.8 472,1450.3 472.5,1452.2 473,1450.7 473.5,1452.3 474,1451.1 474.5,1452.4 475,1449.9 475.5,1453.2 476,1450.8 476.5,1452 477,1450.9 477.5,1452.2 478,1450.5 478.5,1452.3 479,1450.8 479.5,1451.5 480,1449.7 480.5,1451.7 481,1450 481.5,1452 482,1450.1 482.5,1451.7 483,1449.2 483.5,1453.1 484,1450.3 484.5,1451.6 485,1449.9 485.5,1451.7 486,1450.4 486.5,1451.4 487,1449.3 487.5,1451.3 488,1450.1 488.5,1451 489,1449.4 489.5,1451.5 490,1450.4 490.5,1451.4 491,1450 491.5,1451.7 492,1450.3 492.5,1451.5 493,1450.1 493.5,1451.4 494,1450.5 494.5,1452 495,1449.9 495.5,1451.7 496,1449.8 496.5,1451 497,1449.7 497.5,1451.1 498,1449.6 498.5,1450.7 499,1449.6 499.5,1451 500,1449.9 500.5,1451 501,1449.9 501.5,1451.2 502,1450.2 502.5,1451 503,1449.4 503.5,1451.8 504,1449.7 504.5,1451.2 505,1450.1 505.5,1452.1 506,1449.3 506.5,1451.4 507,1448.3 507.5,1450.8 508,1449.6 508.5,1451.1 509,1448.2 509.5,1451.2 510,1449.2 510.5,1450.9 511,1449.4 511.5,1451.5 512,1449.6 512.5,1451.2 513,1449.7 513.5,1451.1 514,1449.3 514.5,1451.6 515,1450 515.5,1451.1 516,1449.5 516.5,1451.8 517,1450.6 517.5,1451.6 518,1449 518.5,1452.8 519,1449.7 519.5,1451.7 520,1449.8 520.5,1451.5 521,1450.4 521.5,1451.5 522,1449.6 522.5,1452 523,1449.8 523.5,1451.3 524,1448.9 524.5,1451.5 525,1450.1 525.5,1451.1 526,1450.3 526.5,1451.6 527,1450.2 527.5,1451.1 528,1450.2 528.5,1451.5 529,1449.4 529.5,1451 530,1449.9 530.5,1451.3 531,1449.7 531.5,1452 532,1449.7 532.5,1450.8 533,1449.4 533.5,1451.1 534,1449.3 534.5,1450.9 535,1449.8 535.5,1451.5 536,1449.6 536.5,1451.8 537,1450 537.5,1450.8 538,1450.1 538.5,1451.3 539,1450.7 539.5,1451.6 540,1450.3 540.5,1451.1 541,1450.6 541.5,1451.9 542,1449.6 542.5,1451.8 543,1450.2 543.5,1451.7 544,1449.5 544.5,1451.7 545,1450 545.5,1452.6 546,1450.4 546.5,1451.8 547,1450.7 547.5,1451.4 548,1449.7 548.5,1451.3 549,1450.5 549.5,1451.7 550,1450 550.5,1452.8 551,1450.9 551.5,1451.9 552,1450.1 552.5,1451.5 553,1450.1 553.5,1452 554,1449.9 554.5,1452 555,1450.2 555.5,1450.8 556,1449.6 556.5,1451 557,1449.9 557.5,1451 558,1449.8 558.5,1450.3 559,1449.5 559.5,1450.3 560,1448.6 560.5,1451.3 561,1448.7 561.5,1450.8 562,1449.2 562.5,1451.5 563,1449.2 563.5,1450.2 564,1449 564.5,1450.5 565,1449.3 565.5,1451.2 566,1449.6 566.5,1450.8 567,1447.9 567.5,1451 568,1449.2 568.5,1451.5 569,1449.3 569.5,1451.2 570,1450.5 570.5,1451.4 571,1449.7 571.5,1451.8 572,1449.1 572.5,1451.5 573,1450.9 573.5,1451.5 574,1449.9 574.5,1451.5 575,1449.9 575.5,1451.4 576,1450.1 576.5,1451.9 577,1449.5 577.5,1451 578,1448.8 578.5,1451.3 579,1448.6 579.5,1450.4 580,1449.1 580.5,1451.4 581,1449.2 581.5,1450.9 582,1449.1 582.5,1450.5 583,1449.9 583.5,1451.1 584,1450.1 584.5,1451.5 585,1449.5 585.5,1451.7 586,1450 586.5,1451.1 587,1450.3 587.5,1451.2 588,1449.7 588.5,1452.2 589,1450.1 589.5,1451.3 590,1449.8 590.5,1451.2 591,1449.3 591.5,1451.2 592,1450.1 592.5,1455.2 593,1449.5 593.5,1453.2 594,1449.7 594.5,1451.5 595,1449.3 595.5,1451.6 596,1450.3 596.5,1451.3 597,1449.6 597.5,1450.8 598,1450 598.5,1451.4 599,1449.2 599.5,1450.4 600,1449.2 600.5,1450.3 601,1449.5 601.5,1450.9 602,1449.7 602.5,1451.2 603,1449.2 603.5,1450.1 604,1449.5 604.5,1451.2 605,1449.2 605.5,1451.1 606,1449.8 606.5,1451.4 607,1450.2 607.5,1451.4 608,1450.6 608.5,1451.6 609,1450.7 609.5,1451.8 610,1450.2 610.5,1451.5 611,1449.6 611.5,1450.6 612,1450.5 612.5,1451.4 613,1450 613.5,1451.2 614,1449.6 614.5,1451.4 615,1449.4 615.5,1450.8 616,1449.2 616.5,1451.5 617,1449.4 617.5,1450.9 618,1449.8 618.5,1451 619,1449.1 619.5,1450.9 620,1448.7 620.5,1450.7 621,1449.8 621.5,1450.6 622,1449.7 622.5,1450.6 623,1449.6 623.5,1450.8 624,1450 624.5,1451 625,1449.6 625.5,1450.8 626,1449.8 626.5,1452.5 627,1449.7 627.5,1451.1 628,1450.1 628.5,1452.6 629,1449.6 629.5,1451.6 630,1449.8 630.5,1452 631,1448.5 631.5,1451.8 632,1450.3 632.5,1451.8 633,1449.6 633.5,1450.8 634,1449.7 634.5,1451.5 635,1449.4 635.5,1451.9 636,1449.8 636.5,1452 637,1449.9 637.5,1451.9 638,1450 638.5,1452 639,1450.7 639.5,1451.9 640,1451 640.5,1452.6 641,1450.9 641.5,1452.1 642,1450.8 642.5,1452.6 643,1450.6 643.5,1451.5 644,1449.8 644.5,1451.9 645,1450.8 645.5,1450.9 646,1449.7 646.5,1451.3 647,1450.2 647.5,1451.5 648,1450.2 648.5,1451.3 649,1450.4 649.5,1452.2 650,1449.7 650.5,1452.3 651,1450.4 651.5,1452 652,1450.4 652.5,1452.4 653,1449.2 653.5,1452.7 654,1449.5 654.5,1451.6 655,1450.3 655.5,1451 656,1449.9 656.5,1451.2 657,1450 657.5,1451.1 658,1448.7 658.5,1450.8 659,1449.5 659.5,1450.6 660,1449.3 660.5,1450.8 661,1449.3 661.5,1451.5 662,1448.6 662.5,1451 663,1449 663.5,1451.2 664,1449.7 664.5,1451.1 665,1449.8 665.5,1450.4 666,1449.4 666.5,1452 667,1449.9 667.5,1451.3 668,1450 668.5,1451 669,1449.5 669.5,1451.1 670,1449.5 670.5,1450.9 671,1449.2 671.5,1451.1 672,1450.5 672.5,1451.4 673,1450 673.5,1451.8 674,1450.1 674.5,1451.4 675,1450.5 675.5,1451.6 676,1449.8 676.5,1451.6 677,1449.9 677.5,1451.1 678,1448.6 678.5,1449.6 679,1447 679.5,1447.8 680,1443 680.5,1442.2 681,1441 681.5,1446.4 682,1446.7 682.5,1448.8 683,1448.2 683.5,1450.3 684,1448.8 684.5,1450.3 685,1448.6 685.5,1450.4 686,1448.3 686.5,1450.3 687,1449 687.5,1449.9 688,1448.7 688.5,1451.3 689,1449.1 689.5,1449.9 690,1448 690.5,1450.6 691,1449.4 691.5,1450.5 692,1449.5 692.5,1450.1 693,1449.7 693.5,1451.1 694,1449.6 694.5,1450.7 695,1449.3 695.5,1451 696,1449 696.5,1451 697,1449.6 697.5,1451.2 698,1450 698.5,1451.2 699,1449.6 699.5,1451.7 700,1450.2 700.5,1452.8 701,1449.7 701.5,1451.5 702,1450.6 702.5,1454 703,1450.1 703.5,1452.3 704,1449.9 704.5,1452.1 705,1450.3 705.5,1451.7 706,1449.9 706.5,1451.8 707,1449.8 707.5,1450.8 708,1449.4 708.5,1451.1 709,1449.9 709.5,1451 710,1450 710.5,1450.9 711,1449.5 711.5,1451.1 712,1450.1 712.5,1450.9 713,1450 713.5,1451.4 714,1449.8 714.5,1451.6 715,1450.2 715.5,1451.2 716,1450.1 716.5,1451.2 717,1448.7 717.5,1451.8 718,1449.8 718.5,1451.5 719,1449.9 719.5,1451.5 720,1449.5 720.5,1451.8 721,1450.4 721.5,1451.5 722,1449.2 722.5,1451 723,1449.7 723.5,1452 724,1450 724.5,1451.3 725,1449.1 725.5,1451.7 726,1449.2 726.5,1451.2 727,1449.4 727.5,1451.8 728,1449.8 728.5,1451.9 729,1449.5 729.5,1451.5 730,1448.9 730.5,1450.6 731,1449.3 731.5,1450.3 732,1449.1 732.5,1451.3 733,1449.1 733.5,1450.8 734,1449.3 734.5,1450.9 735,1449.3 735.5,1450.7 736,1449.1 736.5,1451.1 737,1448.8 737.5,1451.4 738,1449.7 738.5,1450.8 739,1449.3 739.5,1451.1 740,1449.2 740.5,1451.5 741,1449.3 741.5,1451 742,1449.7 742.5,1451.1 743,1448.8 743.5,1451.1 744,1449.6 744.5,1450.9 745,1449.1 745.5,1450.6 746,1449.1 746.5,1450.6 747,1449.4 747.5,1451.3 748,1449.1 748.5,1450.9 749,1449.4 749.5,1450.9 750,1449.9 750.5,1450.7 751,1449.5 751.5,1450.7 752,1449.8 752.5,1450.1 753,1449.1 753.5,1451.9 754,1448.8 754.5,1451.6 755,1449.4 755.5,1451 756,1449.4 756.5,1451.1 757,1449.3 757.5,1450 758,1448.3 758.5,1450 759,1447.6 759.5,1449.5 760,1448 760.5,1448.6 761,1446.5 761.5,1447.3 762,1445.7 762.5,1446.4 763,1444 763.5,1445.8 764,1444.5 764.5,1445.6 765,1444 765.5,1445.6 766,1443.4 766.5,1443.6 767,1442.2 767.5,1442.8 768,1440.8 768.5,1441.5 769,1438.7 769.5,1439.3 770,1436.6 770.5,1436.6 771,1432.7 771.5,1430.9 772,1424.7 772.5,1419.9 773,1408.3 773.5,1394 774,1362.6 774.5,1302 775,1198.3 775.3,1167.1 775.5,1180.4 776,1284.2 776.5,1353.4 777,1390.3 777.5,1406.8 778,1418.7 778.5,1424.5 779,1431.2 779.5,1432.8 780,1436.8 780.5,1437.8 781,1440.1 781.5,1440.3 782,1443.2 782.5,1442.5 783,1444.4 783.5,1444 784,1445.7 784.5,1445.2 785,1447 785.5,1445.8 786,1449 786.5,1445.6 787,1448.2 787.5,1446.6 788,1448 788.5,1447.5 789,1448.5 789.5,1447.1 790,1449.3 790.5,1448 791,1449.5 791.5,1448.4 792,1450.1 792.5,1448.6 793,1450.5 793.5,1448.2 794,1449.7 794.5,1448.5 795,1449.5 795.5,1448 796,1448.9 796.5,1447.3 797,1449.5 797.5,1447.4 798,1448.7 798.5,1447.4 799,1449.9 799.5,1447.4 800,1449.8 800.5,1448.4 801,1450 801.5,1449.2 802,1449.5 802.5,1448.6 803,1450.6 803.5,1448.3 804,1449.8 804.5,1449.3 805,1450.9 805.5,1448.1 806,1450 806.5,1448.4 807,1449.7 807.5,1448.8 808,1450.1 808.5,1447.8 809,1450.4 809.5,1448.4 810,1450.1 810.5,1448.4 811,1450 811.5,1448.2 812,1450.1 812.5,1448.5 813,1450.4 813.5,1447.3 814,1450.2 814.5,1447.7 815,1449.7 815.5,1448.4 816,1450.5 816.5,1448.9 817,1450.2 817.5,1448.8 818,1450.2 818.5,1448.9 819,1449.7 819.5,1447.1 820,1450.4 820.5,1448.5 821,1451.3 821.5,1447.2 822,1450.2 822.5,1447.2 823,1449.5 823.5,1447.9 824,1448.9 824.5,1446.9 825,1449.3 825.5,1446.8 826,1450 826.5,1447.7 827,1448.5 827.5,1446.6 828,1449.5 828.5,1446.7 829,1447.8 829.5,1446.2 830,1447.1 830.5,1446.5 831,1447.5 831.5,1446.6 832,1447.1 832.5,1445.7 833,1447.6 833.5,1445.7 834,1447.1 834.5,1444.5 835,1447.2 835.5,1444.8 836,1446.3 836.5,1444.9 837,1447.1 837.5,1445 838,1445.9 838.5,1444 839,1444.9 839.5,1441.7 840,1443.8 840.5,1441.7 841,1442.2 841.5,1440.1 842,1440.1 842.5,1438.2 843,1438.4 843.5,1436 844,1436.6 844.5,1433.3 845,1433.1 845.5,1429.7 846,1428.3 846.5,1423.6 847,1420.7 848,1407.8 848.5,1395.1 849,1380.1 849.5,1350.5 850,1303.7 850.5,1215.9 851,1133.5 851.5,1133.5 852,1142.4 852.5,1257.5 853,1324.6 853.5,1365.3 854,1385.4 854.5,1401.1 855.5,1418.2 856,1421.3 856.5,1426.2 857,1427.8 857.5,1432.6 858,1432.7 858.5,1434.8 859,1436.2 859.5,1438.5 860,1438.1 860.5,1441.3 861,1439.5 861.5,1441.7 862,1441.5 862.5,1442.8 863,1441.8 863.5,1446.2 864,1443.3 864.5,1446 865,1444.3 865.5,1445.4 866,1443.6 866.5,1446.7 867,1445.1 867.5,1446.2 868,1445.3 868.5,1446 869,1444.6 869.5,1445.5 870,1442.5 870.5,1440.6 871,1435.6 871.5,1438.2 872,1440.2 872.5,1444.3 873,1444.1 873.5,1447.6 874,1446.4 874.5,1447.8 875,1447.2 875.5,1448.3 876,1447.6 876.5,1448.6 877,1447.4 877.5,1448.8 878,1446.8 878.5,1448.6 879,1448.2 879.5,1449.3 880,1447.9 880.5,1449.5 881,1447.5 881.5,1450.2 882,1448.1 882.5,1450.8 883,1448.8 883.5,1450 884,1448.4 884.5,1451.1 885,1448.4 885.5,1450.3 886,1449.4 886.5,1450.9 887,1449 887.5,1450.3 888,1449.8 888.5,1450.7 889,1449.4 889.5,1450.6 890,1449.4 890.5,1451.3 891,1449.8 891.5,1450.7 892,1450 892.5,1451.6 893,1448.6 893.5,1451.4 894,1449.7 894.5,1451.3 895,1449.1 895.5,1450.7 896,1449.2 896.5,1451.2 897,1449.8 897.5,1450.2 898,1449.7 898.5,1450.8 899,1449.2 899.5,1450.7 900,1449.5 900.5,1451.4 901,1450.3 901.5,1450.5 902,1448.9 902.5,1450.6 903,1448.9 903.5,1450.9 904,1450 904.5,1452.4 905,1449.9 905.5,1450.5 906,1448.7 906.5,1451.4 907,1449 907.5,1451 908,1448.5 908.5,1450.1 909,1448.5 909.5,1450.2 910,1448.4 910.5,1452.1 911,1449 911.5,1451.5 912,1449.4 912.5,1452.1 913,1449.2 913.5,1453.1 914,1449.8 914.5,1451.9 915,1449.7 915.5,1451 916,1450.1 916.5,1452.3 917,1449.9 917.5,1451.7 918,1449.6 918.5,1451.6 919,1449.5 919.5,1451.4 920,1450.6 920.5,1452.6 921,1450.2 921.5,1453.2 922,1449.8 922.5,1451.8 923,1450.3 923.5,1451.1 924,1449.7 924.5,1452.6 925,1450.4 925.5,1451.3 926,1449.4 926.5,1451.4 927,1449.8 927.5,1451 928,1449.5 928.5,1451.3 929,1449.4 929.5,1450.8 930,1449.6 930.5,1450.8 931,1449.2 931.5,1450.9 932,1448.9 932.5,1451.1 933,1449.5 933.5,1450.8 934,1449.4 934.5,1451.1 935,1450.2 935.5,1451.2 936,1450.1 936.5,1451.1 937,1449.7 937.5,1452 938,1449.2 938.5,1451.7 939,1450.4 939.5,1451.8 940,1450.2 940.5,1451.8 941,1451 941.5,1452.3 942,1450.3 942.5,1451 943,1449.9 943.5,1451.6 944,1449.5 944.5,1451.6 945,1450.3 945.5,1451.4 946,1449.4 946.5,1451.3 947,1450.2 947.5,1451.1 948,1449.8 948.5,1451.2 949,1450.7 949.5,1451.6 950,1449.9 950.5,1451 951,1450.5 951.5,1451.7 952,1450.3 952.5,1452.2 953,1450.5 953.5,1452.1 954,1450.1 954.5,1451.6 955,1450.2 955.5,1451.6 956,1450.5 956.5,1450.9 957,1449.2 957.5,1451.4 958,1450.2 958.5,1451.6 959,1449.8 959.5,1452.2 960,1451 960.5,1452.2 961,1451 961.5,1452 962,1450.2 962.5,1452.7 963,1450.4 963.5,1452.5 964,1451.3 964.5,1452.2 965,1450.8 965.5,1452.4 966,1450.5 966.5,1452.2 967,1450.4 967.5,1451.9 968,1449.7 968.5,1452.2 969,1449.2 969.5,1451.3 970,1449.5 970.5,1451.1 971,1450.3 971.5,1451.4 972,1450.5 972.5,1451 973,1450.1 973.5,1450.9 974,1449.7 974.5,1451.5 975,1449.9 975.5,1451.5 976,1449.5 976.5,1451.8 977,1449.5 977.5,1452.2 978,1449.7 978.5,1451.6 979,1450.3 979.5,1451.1 980,1449.9 980.5,1451.6 981,1449.9 981.5,1452 982,1450.5 982.5,1452.6 983,1450 983.5,1452.1 984,1450.3 984.5,1451.5 985,1450 985.5,1451.3 986,1450 986.5,1451.8 987,1450 987.5,1452.5 988,1450.7 988.5,1451.4 989,1449.8 989.5,1451.7 990,1449.9 990.5,1452.2 991,1450 991.5,1452 992,1450.2 992.5,1451.7 993,1449.6 993.5,1451.8 994,1449.4 994.5,1452.3 995,1450.3 995.5,1451.3 996,1450.1 996.5,1452.2 997,1450.3 997.5,1451.1 998,1451 998.5,1452 999,1450.9 999.5,1451.1 1000,1451.1 1000.5,1451.5 1001,1451.1 1001.5,1451.9 1002,1450.3 1002.5,1452.1 1003,1450.3 1003.5,1451 1004,1450.2 1004.5,1451.3 1005,1450.4 1005.5,1452.2 1006,1449.9 1006.5,1451.4 1007,1450.6 1007.5,1452.8 1008,1449.4 1008.5,1451 1009,1450.5 1009.5,1451.6 1010,1449.6 1010.5,1451.7 1011,1450.2 1011.5,1452.2 1012,1450.4 1012.5,1451.9 1013,1450.2 1013.5,1451.5 1014,1449.4 1014.5,1450.9 1015,1449.7 1015.5,1451.4 1016,1449.6 1016.5,1452 1017,1449.8 1017.5,1452.1 1018,1450.6 1018.5,1451.3 1019,1450.2 1019.5,1451.8 1020,1450.7 1020.5,1451.3 1021,1449.6 1021.5,1451.3 1022,1448.6 1022.5,1450.6 1023,1449.7 1023.5,1450.5 1024,1449.5 1024.5,1451 1025,1448.9 1025.5,1450.9 1026,1449.5 1026.5,1451.1 1027,1449.3 1027.5,1451.3 1028,1449.4 1028.5,1451.2 1029,1449.4 1029.5,1451 1030,1447.9 1030.5,1450.5 1031,1449.7 1031.5,1452.1 1032,1448.7 1032.5,1451.3 1033,1449.1 1033.5,1450.7 1034,1449.7 1034.5,1451.1 1035,1449.1 1035.5,1450.9 1036,1449.7 1036.5,1451.7 1037,1449.4 1037.5,1450.7 1038,1449.8 1038.5,1451.1 1039,1449.7 1039.5,1451 1040,1449.2 1040.5,1451.3 1041,1449.5 1041.5,1450.9 1042,1448.7 1042.5,1450.7 1043,1448.6 1043.5,1451.1 1044,1449.4 1044.5,1450.9 1045,1449.1 1045.5,1450.7 1046,1448.3 1046.5,1451.9 1047,1448.9 1047.5,1450.4 1048,1449 1048.5,1451 1049,1450.5 1049.5,1451.8 1050,1449 1050.5,1451.1 1051,1450.3 1051.5,1452 1052,1450.2 1052.5,1451.6 1053,1450.5 1053.5,1451.3 1054,1449.6 1054.5,1452.2 1055,1450.3 1055.5,1452.4 1056,1448.7 1056.5,1451.8 1057,1451.3 1057.5,1451.7 1058,1450.6 1058.5,1451.9 1059,1450 1059.5,1451.5 1060,1450.4 1060.5,1451.8 1061,1450.2 1061.5,1451.4 1062,1450.9 1062.5,1452.1 1063,1450.3 1063.5,1451.5 1064,1449.6 1064.5,1451.4 1065,1450.1 1065.5,1452 1066,1449.8 1066.5,1451.4 1067,1449.3 1067.5,1451.7 1068,1449.2 1068.5,1451.2 1069,1450.4 1069.5,1451 1070,1449.3 1070.5,1451 1071,1450.3 1071.5,1451.5 1072,1450.8 1072.5,1452.8 1073,1450.6 1073.5,1451.8 1074,1450.8 1074.5,1452 1075,1450.2 1075.5,1451.4 1076,1448.9 1076.5,1451.2 1077,1450 1077.5,1451.3 1078,1448.5 1078.5,1450.6 1079,1449.8 1079.5,1452 1080,1449.8 1080.5,1450.9 1081,1449.5 1081.5,1450.4 1082,1448.7 1082.5,1450.1 1083,1446.9 1083.5,1451.3 1084,1449.7 1084.5,1450.5 1085,1449.2 1085.5,1451.7 1086,1449.5 1086.5,1451.4 1087,1450.1 1087.5,1451.3 1088,1448.7 1088.5,1451.5 1089,1449.1 1089.5,1452.2 1090,1449.6 1090.5,1451.5 1091,1450 1091.5,1450.7 1092,1449.5 1092.5,1450.7 1093,1448.5 1093.5,1450.7 1094,1449.5 1094.5,1451.2 1095,1450.4 1095.5,1450.8 1096,1450.3 1096.5,1451.4 1097,1450 1097.5,1452.3 1098,1450.5 1098.5,1451.9 1099,1450 1099.5,1451.2 1100,1449.4 1100.5,1452.2 1101,1449.4 1101.5,1451.2 1102,1449.7 1102.5,1451.5 1103,1449.3 1103.5,1451.4 1104,1449.6 1104.5,1451.2 1105,1449.5 1105.5,1451.3 1106,1449.5 1106.5,1451.4 1107,1449.1 1107.5,1451.1 1108,1449.9 1108.5,1451.5 1109,1449.9 1109.5,1451.9 1110,1450.2 1110.5,1451.1 1111,1450.2 1111.5,1451.6 1112,1449.7 1112.5,1451.2 1113,1449.5 1113.5,1451.5 1114,1450.2 1114.5,1451.7 1115,1449.2 1115.5,1452 1116,1449.5 1116.5,1451.5 1117,1449.8 1117.5,1450.8 1118,1450.1 1118.5,1451.7 1119,1449.9 1119.5,1452 1120,1449.2 1120.5,1451 1121,1448.9 1121.5,1450.9 1122,1450 1122.5,1450.8 1123,1449.7 1123.5,1451.5 1124,1449.5 1124.5,1451.5 1125,1448.8 1125.5,1450.7 1126,1449.7 1126.5,1451.9 1127,1448.9 1127.5,1450.9 1128,1449.8 1128.5,1451.6 1129,1449.9 1129.5,1451.3 1130,1449.5 1130.5,1451.7 1131,1449.3 1131.5,1451.2 1132,1450.3 1132.5,1450.3 1133,1450.6 1133.5,1451.7 1134,1449.8 1134.5,1450.9 1135,1449.6 1135.5,1451.8 1136,1449.7 1136.5,1451.3 1137,1449.2 1137.5,1452.5 1138,1450.1 1138.5,1451.2 1139,1449 1139.5,1450.7 1140,1448.9 1140.5,1452.1 1141,1450.4 1141.5,1451.2 1142,1449.7 1142.5,1451.4 1143,1450.3 1143.5,1450.7 1144,1449.5 1144.5,1451 1145,1450.4 1145.5,1451.4 1146,1450.4 1146.5,1452.2 1147,1450.1 1147.5,1451.7 1148,1449.9 1148.5,1451.6 1149,1450.3 1149.5,1452.7 1150,1449.8 1150.5,1451 1151,1449.8 1151.5,1451.8 1152,1449.4 1152.5,1450.3 1153,1448.9 1153.5,1452.1 1154,1449.8 1154.5,1451.3 1155,1449.6 1155.5,1451.7 1156,1448.9 1156.5,1451 1157,1448.8 1157.5,1451.1 1158,1449.7 1158.5,1451.2 1159,1449.6 1159.5,1451 1160,1449.8 1160.5,1451.6 1161,1449.6 1161.5,1451.3 1162,1448.2 1162.5,1450.5 1163,1449.5 1163.5,1450.6 1164,1448.5 1164.5,1450.4 1165,1449.9 1165.5,1450.4 1166,1449 1166.5,1451 1167,1449.6 1167.5,1450.8 1168,1450 1168.5,1451.8 1169,1449 1169.5,1449.2 1170,1444.9 1170.5,1447.3 1171,1446.7 1171.5,1449 1172,1449.2 1172.5,1450.9 1173,1449.2 1173.5,1451.3 1174,1450.3 1174.5,1451.1 1175,1449.8 1175.5,1451.1 1176,1450.2 1176.5,1451.8 1177,1449.9 1177.5,1451.7 1178,1449.1 1178.5,1451.2 1179,1449.8 1179.5,1450.9 1180,1449.2 1180.5,1450.6 1181,1448.8 1181.5,1450.2 1182,1448.4 1182.5,1450.5 1183,1448.9 1183.5,1450 1184,1448.8 1184.5,1450.5 1185,1449.1 1185.5,1450.5 1186,1447.8 1186.5,1450.7 1187,1448.2 1187.5,1451.1 1188,1448.9 1188.5,1451.3 1189,1449.4 1189.5,1450.8 1190,1448.5 1190.5,1450.2 1191,1449.6 1191.5,1451.6 1192,1449.9 1192.5,1451.3 1193,1449.9 1193.5,1451.1 1194,1450.2 1194.5,1452 1195,1449.3 1195.5,1451.5 1196,1449.9 1196.5,1451.1 1197,1449.1 1197.5,1451.7 1198,1449.7 1198.5,1452.1 1199,1449.5 1199.5,1451.1 1200,1449.4 1200.5,1451.1 1201,1449.6 1201.5,1450.8 1202,1449.9 1202.5,1451.5 1203,1449.2 1203.5,1451.5 1204,1450.2 1204.5,1452.4 1205,1449.9 1205.5,1451.5 1206,1449.7 1206.5,1451.2 1207,1449.9 1207.5,1451.2 1208,1449.6 1208.5,1451.5 1209,1450.2 1209.5,1451.1 1210,1450 1210.5,1451.6 1211,1449.9 1211.5,1451.4 1212,1449.6 1212.5,1451.3 1213,1449.9 1213.5,1451.1 1214,1449.7 1214.5,1450.9 1215,1449.8 1215.5,1451.5 1216,1450 1216.5,1450.5 1217,1448.8 1217.5,1450.7 1218,1449.3 1218.5,1450.9 1219,1449.5 1219.5,1451 1220,1449.4 1220.5,1451.8 1221,1450.1 1221.5,1450.8 1222,1449.6 1222.5,1451.5 1223,1449.4 1223.5,1450.8 1224,1449.9 1224.5,1451.3 1225,1449.5 1225.5,1451.1 1226,1449.8 1226.5,1451.7 1227,1449.9 1227.5,1450.9 1228,1448.9 1228.5,1452.1 1229,1449.9 1229.5,1451.4 1230,1450.5 1230.5,1451.4 1231,1450.4 1231.5,1451.7 1232,1450.1 1232.5,1452.1 1233,1449.7 1233.5,1451.9 1234,1449.5 1234.5,1451.6 1235,1450.4 1235.5,1451.4 1236,1449.5 1236.5,1451.2 1237,1450.2 1237.5,1451.1 1238,1447.9 1238.5,1450.5 1239,1449.2 1239.5,1450.4 1240,1449 1240.5,1450.5 1241,1449.3 1241.5,1452.2 1242,1449 1242.5,1450.6 1243,1449.5 1243.5,1451.2 1244,1450 1244.5,1451.3 1245,1450.4 1245.5,1452 1246,1449.2 1246.5,1452 1247,1450.2 1247.5,1450.9 1248,1450.5 1248.5,1451.7 1249,1450 1249.5,1452.5 1250,1450.5 1250.5,1451.6 1251,1450.5 1251.5,1451.3 1252,1449.7 1252.5,1451.9 1253,1449.5 1253.5,1451.7 1254,1450 1254.5,1451.8 1255,1449.7 1255.5,1451.8 1256,1449.8 1256.5,1451.7 1257,1450.6 1257.5,1451.9 1258,1450.2 1258.5,1452 1259,1450.6 1259.5,1451.6 1260,1450.5 1260.5,1453 1261,1450.7 1261.5,1452.4 1262,1450.8 1262.5,1452.5 1263,1450.2 1263.5,1451.7 1264,1449.6 1264.5,1451.2 1265,1449.4 1265.5,1451.1 1266,1450.1 1266.5,1450.6 1267,1450.4 1267.5,1451.5 1268,1449.6 1268.5,1451 1269,1450 1269.5,1451.8 1270,1449.5 1270.5,1452 1271,1450.5 1271.5,1450.7 1272,1449.6 1272.5,1450.9 1273,1449.4 1273.5,1451.8 1274,1450.6 1274.5,1452.2 1275,1450.2 1275.5,1451.3 1276,1450.1 1276.5,1451.6 1277,1450.3 1277.5,1451.5 1278,1449.9 1278.5,1450.8 1279,1450.3 1279.5,1450.6 1280,1449.8 1280.5,1451.3 1281,1449.5 1281.5,1451.1 1282,1449 1282.5,1451.5 1283,1449.5 1283.5,1451 1284,1449.1 1284.5,1450.5 1285,1448.5 1285.5,1450.5 1286,1448 1286.5,1450.4 1287,1448.8 1287.5,1450.8 1288,1449.5 1288.5,1450.7 1289,1449.2 1289.5,1450.6 1290,1449 1290.5,1451.1 1291,1450.2 1291.5,1451 1292,1450 1292.5,1450.9 1293,1449.4 1293.5,1452.4 1294,1449.4 1294.5,1450.3 1295,1449.7 1295.5,1450.2 1296,1449.3 1296.5,1451 1297,1449.3 1297.5,1450.2 1298,1448.3 1298.5,1450.7 1299,1449.8 1299.5,1450.5 1300,1449.2 1300.5,1451 1301,1449.8 1301.5,1451.3 1302,1450.1 1302.5,1451.5 1303,1449.6 1303.5,1452 1304,1449.8 1304.5,1452.3 1305,1451.1 1305.5,1452.4 1306,1451.2 1306.5,1452.1 1307,1451.2 1307.5,1452.8 1308,1450.9 1308.5,1452.1 1309,1449.5 1309.5,1451.9 1310,1449.5 1310.5,1450.9 1311,1450.2 1311.5,1451.3 1312,1449.8 1312.5,1451.2 1313,1448.7 1313.5,1450.7 1314,1450.2 1314.5,1451 1315,1449.4 1315.5,1451.5 1316,1449.7 1316.5,1451.9 1317,1450.2 1317.5,1451.1 1318,1450 1318.5,1451.3 1319,1449.9 1319.5,1452 1320,1450.2 1320.5,1451.8 1321,1450.5 1321.5,1452.4 1322,1450.1 1322.5,1451.6 1323,1449.9 1323.5,1451.2 1324,1449.7 1324.5,1451.2 1325,1450.2 1325.5,1450.3 1326,1448.9 1326.5,1451.6 1327,1449.2 1327.5,1451.9 1328,1449.5 1328.5,1451 1329,1447.9 1329.5,1451.2 1330,1449 1330.5,1451.3 1331,1447.2 1331.5,1451.1 1332,1449.8 1332.5,1451.3 1333,1449.5 1333.5,1451.7 1334,1449.9 1334.5,1451.5 1335,1450 1335.5,1450.9 1336,1449.9 1336.5,1451.4 1337,1449.4 1337.5,1451.5 1338,1450.2 1338.5,1450.3 1339,1448.5 1339.5,1451.1 1340,1450 1340.5,1451.1 1341,1449.2 1341.5,1450.6 1342,1449.5 1342.5,1450.9 1343,1447.9 1343.5,1450.2 1344,1449.7 1344.5,1450.5 1345,1449.2 1345.5,1450.6 1346,1449.8 1346.5,1450.8 1347,1449.3 1347.5,1450.9 1348,1450.3 1348.5,1450.9 1349,1449.9 1349.5,1451.9 1350,1450.4 1350.5,1451.3 1351,1450.5 1351.5,1452.2 1352,1449.9 1352.5,1451.2 1353,1449.7 1353.5,1451.6 1354,1449.2 1354.5,1451.3 1355,1450 1355.5,1451.7 1356,1449.6 1356.5,1451.8 1357,1450.4 1357.5,1452 1358,1450.1 1358.5,1451.7 1359,1449.7 1359.5,1452.1 1360,1450 1360.5,1452 1361,1449.9 1361.5,1451.8 1362,1450.3 1362.5,1452 1363,1450.4 1363.5,1451.6 1364,1449.8 1364.5,1451.4 1365,1450.1 1365.5,1451.5 1366,1449.4 1366.5,1451.1 1367,1450 1367.5,1450.8 1368,1449.6 1368.5,1451 1369,1448.8 1369.5,1451.1 1370,1449.7 1370.5,1451 1371,1449.3 1371.5,1451.6 1372,1448.9 1372.5,1451.3 1373,1450 1373.5,1450.3 1374,1449.2 1374.5,1451.3 1375,1449.5 1375.5,1450.6 1376,1448.5 1376.5,1451.5 1377,1449.9 1377.5,1451.9 1378,1449.3 1378.5,1452.1 1379,1450.4 1379.5,1451.6 1380,1450.4 1380.5,1451.9 1381,1449.8 1381.5,1452.2 1382,1451.2 1382.5,1452.2 1383,1451.3 1383.5,1452.1 1384,1450 1384.5,1452.2 1385,1450 1385.5,1451.4 1386,1450.3 1386.5,1451.6 1387,1450.6 1387.5,1452 1388,1449.6 1388.5,1451.8 1389,1450.1 1389.5,1451.1 1390,1450 1390.5,1451 1391,1449.8 1391.5,1451.6 1392,1450.1 1392.5,1452.6 1393,1449.9 1393.5,1451.3 1394,1449.5 1394.5,1450.8 1395,1450.1 1395.5,1451.9 1396,1450.3 1396.5,1450.7 1397,1450.4 1397.5,1451.3 1398,1449.3 1398.5,1450.9 1399,1449.3 1399.5,1451.9 1400,1449.2 1400.5,1450.2 1401,1448.7 1401.5,1450.8 1402,1449.7 1402.5,1450.4 1403,1449 1403.5,1450.3 1404,1449.3 1404.5,1450.4 1405,1449.5 1405.5,1451.4 1406,1450.1 1406.5,1451.1 1407,1450 1407.5,1451.4 1408,1448.8 1408.5,1451.6 1409,1449.5 1409.5,1450.5 1410,1447.8 1410.5,1451 1411,1449.3 1411.5,1451.9 1412,1450.2 1412.5,1450.5 1413,1450.4 1413.5,1451.3 1414,1449.6 1414.5,1451 1415,1449.9 1415.5,1452 1416,1450 1416.5,1451.5 1417,1450 1417.5,1451.6 1418,1450.1 1418.5,1451.4 1419,1450.1 1419.5,1451.6 1420,1449.7 1420.5,1451.4 1421,1450.7 1421.5,1451.9 1422,1450.2 1422.5,1451.6 1423,1450.7 1423.5,1451 1424,1449.4 1424.5,1451.1 1425,1450.4 1425.5,1451.7 1426,1450.2 1426.5,1452.1 1427,1449.5 1427.5,1451.9 1428,1447.9 1428.5,1452.2 1429,1450 1429.5,1451.8 1430,1449.8 1430.5,1450.6 1431,1448.9 1431.5,1450.5 1432,1448.8 1432.5,1451 1433,1449.6 1433.5,1450.6 1434,1449.3 1434.5,1451 1435,1449.7 1435.5,1450.9 1436,1448.5 1436.5,1451.8 1437,1449.6 1437.5,1451 1438,1448.9 1438.5,1451.3 1439,1449.6 1439.5,1451.4 1440,1450 1440.5,1450.8 1441,1449.4 1441.5,1451.7 1442,1449 1442.5,1451.3 1443,1450.1 1443.5,1451 1444,1449.8 1444.5,1450.6 1445,1449.2 1445.5,1450.7 1446,1448.7 1446.5,1450.7 1447,1449.3 1447.5,1451.3 1448,1449.4 1448.5,1451.1 1449,1449.9 1449.5,1451.8 1450,1447.2 1450.5,1451.3 1451,1448.8 1451.5,1451 1452,1449.2 1452.5,1450.8 1453,1450.1 1453.5,1451.4 1454,1449.1 1454.5,1451.5 1455,1448.3 1455.5,1451.1 1456,1449 1456.5,1450.8 1457,1449.2 1457.5,1450.5 1458,1449.2 1458.5,1451.3 1459,1449.4 1459.5,1451 1460,1449.7 1460.5,1450.4 1461,1449.6 1461.5,1451.3 1462,1449.5 1462.5,1452 1463,1449.3 1463.5,1451.9 1464,1449.6 1464.5,1451.3 1465,1449.4 1465.5,1451.6 1466,1449.8 1466.5,1451.9 1467,1450.1 1467.5,1452 1468,1449.9 1468.5,1451.1 1469,1449.9 1469.5,1451.6 1470,1450.1 1470.5,1451.4 1471,1449.4 1471.5,1452.6 1472,1450.2 1472.5,1451.9 1473,1450 1473.5,1451.5 1474,1450.2 1474.5,1452.2 1475,1450.3 1475.5,1451.7 1476,1449.9 1476.5,1452.3 1477,1450 1477.5,1451.1 1478,1449 1478.5,1451.2 1479,1449.8 1479.5,1451.6 1480,1449.1 1480.5,1450.6 1481,1448.7 1481.5,1450.4 1482,1449.2 1482.5,1450.8 1483,1449.7 1483.5,1450.6 1484,1449.3 1484.5,1451 1485,1449.3 1485.5,1450.4 1486,1448.5 1486.5,1451.8 1487,1448.9 1487.5,1451.3 1488,1450 1488.5,1451.1 1489,1449.6 1489.5,1451.3 1490,1450 1490.5,1451.4 1491,1449.5 1491.5,1451.5 1492,1450 1492.5,1452.4 1493,1450.1 1493.5,1451.6 1494,1448.4 1494.5,1451.7 1495,1450.5 1495.5,1452.4 1496,1450.9 1496.5,1451.4 1497,1450.7 1497.5,1451.9 1498,1450.1 1498.5,1452.9 1499,1450.6 1499.5,1450.8 1500,1450 1500.5,1451.3 1501,1449.6 1501.5,1451.4 1502,1449.1 1502.5,1451.8 1503,1450.1 1503.5,1451.6 1504,1450.1 1504.5,1451.6 1505,1450.1 1505.5,1451.3 1506,1448.3 1506.5,1452.1 1507,1449.8 1507.5,1451.1 1508,1450.5 1508.5,1452.3 1509,1450.1 1509.5,1451.5 1510,1449.7 1510.5,1451.7 1511,1449.4 1511.5,1451.9 1512,1450.1 1512.5,1453.1 1513,1450.9 1513.5,1452.2 1514,1450.4 1514.5,1451.9 1515,1450.1 1515.5,1451.5 1516,1450.2 1516.5,1450.9 1517,1449.9 1517.5,1451.1 1518,1449.2 1518.5,1451.5 1519,1448.6 1519.5,1451.4 1520,1448.6 1520.5,1450.1 1521,1449.5 1521.5,1451.6 1522,1449.5 1522.5,1451.5 1523,1449.9 1523.5,1451.7 1524,1450.3 1524.5,1451.7 1525,1449.8 1525.5,1451.7 1526,1450.8 1526.5,1450.9 1527,1449.6 1527.5,1451.4 1528,1450.6 1528.5,1452.2 1529,1450.2 1529.5,1451.6 1530,1449.6 1530.5,1452 1531,1449.5 1531.5,1452.4 1532,1450.5 1532.5,1452 1533,1450.3 1533.5,1451.9 1534,1449.6 1534.5,1452.4 1535,1449.1 1535.5,1451.5 1536,1449.3 1536.5,1452.1 1537,1449.8 1537.5,1451.3 1538,1449.7 1538.5,1450.8 1539,1449.6 1539.5,1452 1540,1449.1 1540.5,1451.2 1541,1450.1 1541.5,1450.9 1542,1449.4 1542.5,1451.2 1543,1449 1543.5,1450.9 1544,1449.8 1544.5,1451.6 1545,1449.7 1545.5,1451.2 1546,1450 1546.5,1452.3 1547,1449.5 1547.5,1451.8 1548,1450.5 1548.5,1451.2 1549,1450.2 1549.5,1451.9 1550,1450 1550.5,1452.2 1551,1450.4 1551.5,1450.9 1552,1450 1552.5,1450.7 1553,1449.5 1553.5,1451.8 1554,1450.3 1554.5,1452.2 1555,1450.1 1555.5,1452.1 1556,1450.8 1556.5,1451.9 1557,1450.2 1557.5,1452.1 1558,1450 1558.5,1452.3 1559,1450.3 1559.5,1451.6 1560,1450.3 1560.5,1451.6 1561,1450.1 1561.5,1450.5 1562,1449.5 1562.5,1451.4 1563,1449.7 1563.5,1451.5 1564,1449.6 1564.5,1451.2 1565,1448.9 1565.5,1451.2 1566,1449.1 1566.5,1450.9 1567,1450.2 1567.5,1451.9 1568,1449.6 1568.5,1452.1 1569,1450.2 1569.5,1451.8 1570,1450.3 1570.5,1452.7 1571,1450.8 1571.5,1451.5 1572,1450.2 1572.5,1451.7 1573,1449.8 1573.5,1452 1574,1450.1 1574.5,1451.8 1575,1449.2 1575.5,1452.1 1576,1448.8 1576.5,1451 1577,1450.4 1577.5,1450.8 1578,1449.8 1578.5,1451.9 1579,1449.5 1579.5,1450.5 1580,1449.1 1580.5,1450.4 1581,1449.4 1581.5,1450.7 1582,1449.6 1582.5,1451.3 1583,1448.8 1583.5,1451.3 1584,1449.3 1584.5,1450.8 1585,1448.8 1585.5,1450.8 1586,1449.3 1586.5,1451.2 1587,1448.9 1587.5,1450.7 1588,1448.6 1588.5,1450.9 1589,1450.1 1589.5,1451.6 1590,1449.8 1590.5,1452.1 1591,1449.9 1591.5,1451.6 1592,1450.2 1592.5,1452.7 1593,1450.8 1593.5,1452.8 1594,1451.2 1594.5,1452.5 1595,1450.9 1595.5,1453.3 1596,1451.4 1596.5,1453.3 1597,1451.4 1597.5,1452.5 1598,1450.4 1598.5,1452.3 1599,1450.3 1599.5,1452.2 1600,1449.4 1600.5,1451 1601,1449.8 1601.5,1450.8 1602,1449.3 1602.5,1450.6 1603,1449.6 1603.5,1451 1604,1449.4 1604.5,1452.2 1605,1449.3 1605.5,1450.4 1606,1448.7 1606.5,1451.6 1607,1449.4 1607.5,1450.4 1608,1448.7 1608.5,1451.9 1609,1449.5 1609.5,1450.4 1610,1448.6 1610.5,1450.6 1611,1448.3 1611.5,1450.2 1612,1449.3 1612.5,1450.7 1613,1449.1 1613.5,1451.1 1614,1449 1614.5,1452.2 1615,1450.4 1615.5,1451.7 1616,1450.1 1616.5,1452 1617,1449.1 1617.5,1451.6 1618,1450.5 1618.5,1451.8 1619,1449.5 1619.5,1451.3 1620,1450.1 1620.5,1452 1621,1450.4 1621.5,1450.9 1622,1449.2 1622.5,1451.2 1623,1450.1 1623.5,1452 1624,1449.8 1624.5,1451.4 1625,1450.1 1625.5,1451.4 1626,1450.1 1626.5,1451.8 1627,1450.1 1627.5,1451.6 1628,1449.3 1628.5,1451.3 1629,1449.3 1629.5,1451 1630,1449.2 1630.5,1451.2 1631,1449.7 1631.5,1451.3 1632,1448.9 1632.5,1450.4 1633,1449.2 1633.5,1450.9 1634,1449.3 1634.5,1450.5 1635,1448.8 1635.5,1449.8 1636,1449.2 1636.5,1450.4 1637,1448.9 1637.5,1450.3 1638,1449.5 1638.5,1450.3 1639,1448.7 1639.5,1451 1640,1449.2 1640.5,1451 1641,1449.9 1641.5,1451.2 1642,1449.9 1642.5,1450.8 1643,1449.6 1643.5,1451.6 1644,1449.9 1644.5,1450.7 1645,1449.5 1645.5,1451.7 1646,1448.6 1646.5,1450.6 1647,1449.9 1647.5,1450.4 1648,1449.6 1648.5,1450.3 1649,1448.7 1649.5,1452.5 1650,1448.1 1650.5,1451.5 1651,1448.1 1651.5,1450.5 1652,1449.4 1652.5,1450.3 1653,1449 1653.5,1450.7 1654,1449.7 1654.5,1450.9 1655,1449.2 1655.5,1451.4 1656,1449 1656.5,1451.1 1657,1449.6 1657.5,1452 1658,1450.3 1658.5,1451.3 1659,1447.6 1659.5,1451 1660,1449.7 1660.5,1450.6 1661,1449.2 1661.5,1451 1662,1448.9 1662.5,1450.5 1663,1448.8 1663.5,1451 1664,1449.5 1664.5,1451.1 1665,1449.7 1665.5,1450.6 1666,1449.9 1666.5,1451.4 1667,1450.4 1667.5,1451.5 1668,1449.5 1668.5,1451.5 1669,1449.9 1669.5,1451.3 1670,1449.6 1670.5,1450.9 1671,1449.6 1671.5,1451.1 1672,1449.5 1672.5,1452.6 1673,1450 1673.5,1451.9 1674,1450.4 1674.5,1450.8 1675,1449.9 1675.5,1451.4 1676,1450.4 1676.5,1451.6 1677,1449.8 1677.5,1450.6 1678,1449.9 1678.5,1450.5 1679,1449 1679.5,1450 1680,1448.6 1680.5,1450.1 1681,1448.5 1681.5,1449.8 1682,1448.6 1682.5,1450.2 1683,1448.6 1683.5,1450.5 1684,1449.4 1684.5,1450.8 1685,1448.9 1685.5,1450.7 1686,1449.2 1686.5,1450.4 1687,1448 1687.5,1450.1 1688,1449 1688.5,1450.9 1689,1448.5 1689.5,1450.1 1690,1449.2 1690.5,1450.7 1691,1447.9 1691.5,1450.3 1692,1448.2 1692.5,1450.3 1693,1449 1693.5,1450.1 1694,1449.1 1694.5,1450.4 1695,1449.8 1695.5,1450.8 1696,1449.5 1696.5,1451 1697,1449.9 1697.5,1450.7 1698,1449.8 1698.5,1450.4 1699,1449.8 1699.5,1451.1 1700,1450 1700.5,1451.6 1701,1450.3 1701.5,1451.6 1702,1449.5 1702.5,1451 1703,1449.8 1703.5,1452.5 1704,1449.6 1704.5,1451.4 1705,1449.5 1705.5,1451.3 1706,1450.2 1706.5,1451.4 1707,1449.1 1707.5,1451 1708,1449.3 1708.5,1451 1709,1449.1 1709.5,1450.7 1710,1448.1 1710.5,1450.4 1711,1448.5 1711.5,1450.5 1712,1448.3 1712.5,1450.3 1713,1449.4 1713.5,1450.7 1714,1448.7 1714.5,1450.5 1715,1448.8 1715.5,1450.4 1716,1448.9 1716.5,1450.8 1717,1449.5 1717.5,1450.1 1718,1449.2 1718.5,1451.3 1719,1449.4 1719.5,1451.3 1720,1448.7 1720.5,1450.9 1721,1450.2 1721.5,1451.4 1722,1448.4 1722.5,1451.2 1723,1449.1 1723.5,1451.2 1724,1449.7 1724.5,1451.1 1725,1450.1 1725.5,1451 1726,1449.2 1726.5,1450.1 1727,1448.3 1727.5,1449.5 1728,1448.4 1728.5,1449.2 1729,1446.9 1729.5,1448.5 1730,1446.6 1730.5,1448.2 1731,1446.3 1731.5,1447.8 1732,1445.1 1732.5,1445.5 1733,1444.5 1733.5,1445.4 1734,1442.9 1734.5,1444.8 1735,1443.4 1735.5,1444.7 1736,1443.2 1736.5,1444.9 1737,1443.6 1737.5,1445.9 1738,1444.4 1738.5,1446.8 1739,1445.5 1739.5,1447.4 1740,1445.9 1740.5,1448.3 1741,1446.9 1741.5,1448.3 1742,1446.6 1742.5,1449.5 1743,1447.9 1743.5,1449.6 1744,1448 1744.5,1449.6 1745,1448.6 1745.5,1449.5 1746,1448.8 1746.5,1449.9 1747,1448.3 1747.5,1450.5 1748,1449.2 1748.5,1450.6 1749,1449.2 1749.5,1449.9 1750,1449.5 1750.5,1449.6 1751,1449.3 1751.5,1450.7 1752,1448.2 1752.5,1450.8 1753,1448.4 1753.5,1451.4 1754,1449.4 1754.5,1450.7 1755,1449.3 1755.5,1449.7 1756,1449.2 1756.5,1450.5 1757,1449.7 1757.5,1450.3 1758,1448.7 1758.5,1450.6 1759,1447.4 1759.5,1449.5 1760,1448.8 1760.5,1450.6 1761,1448.1 1761.5,1449.7 1762,1447.4 1762.5,1448.8 1763,1446.6 1763.5,1447.5 1764,1445.5 1764.5,1445.7 1765,1442 1765.5,1441.9 1766,1439.1 1766.5,1441.1 1767,1440.8 1767.5,1443.5 1768,1442.3 1768.5,1443.5 1769,1440.7 1769.5,1440.3 1770,1435.3 1770.5,1432 1771,1426.3 1771.5,1427.4 1772,1429.1 1772.5,1435.6 1773,1437.7 1773.5,1442.6 1774,1442.4 1774.5,1444.6 1775,1443.9 1775.5,1444.9 1776,1442.1 1776.5,1443 1777,1439.7 1777.5,1441 1778,1438.9 1778.5,1441.3 1779,1442 1779.5,1444.7 1780,1445.2 1780.5,1447.6 1781,1447.1 1781.5,1449.3 1782,1447.8 1782.5,1449.4 1783,1445.1 1783.5,1448.8 1784,1447.4 1784.5,1449.8 1785,1447.4 1785.5,1448.7 1786,1447.7 1786.5,1448.9 1787,1446.8 1787.5,1449.1 1788,1447.6 1788.5,1448.7 1789,1446.8 1789.5,1448.1 1790,1447.3 1790.5,1449 1791,1447.1 1791.5,1449.9 1792,1445.8 1792.5,1448.3 1793,1446.3 1793.5,1447.3 1794,1446.4 1794.5,1448.2 1795,1446.7 1795.5,1448.1 1796,1446.2 1796.5,1450.1 1797,1445.7 1797.5,1448 1798,1446.3 1798.5,1448.1 1799,1445.5 1799.5,1447.6 1800,1444.4 1800.5,1448.3 1801,1445.1 1801.5,1446.4 1802,1445.2 1802.5,1446.4 1803,1444.9 1803.5,1446.3 1804,1444.6 1804.5,1445.8 1805,1444.1 1805.5,1446.3 1806,1444.5 1806.5,1446.5 1807,1444.9 1807.5,1446.8 1808,1445.3 1808.5,1447 1809,1445.8 1809.5,1448 1810,1446.1 1810.5,1448.5 1811,1447.1 1811.5,1449.4 1812,1447.6 1812.5,1448.6 1813,1448 1813.5,1449.5 1814,1448.6 1814.5,1449.2 1815,1448 1815.5,1449.7 1816,1448.3 1816.5,1449.7 1817,1447.6 1817.5,1449.7 1818,1448.6 1818.5,1449.6 1819,1448.3 1819.5,1449.6 1820,1448.4 1820.5,1450.2 1821,1448.3 1821.5,1450.4 1822,1448.7 1822.5,1449.9 1823,1449 1823.5,1450.5 1824,1448.2 1824.5,1450.3 1825,1448 1825.5,1450.8 1826,1448.7 1826.5,1451.2 1827,1448.9 1827.5,1450 1828,1447.7 1828.5,1450.8 1829,1448.4 1829.5,1450 1830,1448.3 1830.5,1450.1 1831,1449 1831.5,1450.7 1832,1448.9 1832.5,1450.5 1833,1447.4 1833.5,1450.1 1834,1448.4 1834.5,1450.4 1835,1448.2 1835.5,1450.3 1836,1449.1 1836.5,1450.4 1837,1449.4 1837.5,1450.6 1838,1448.9 1838.5,1450.2 1839,1449.1 1839.5,1450.9 1840,1448.6 1840.5,1450.1 1841,1448.5 1841.5,1450.5 1842,1449.7 1842.5,1451 1843,1449.5 1843.5,1451.2 1844,1449.2 1844.5,1451.4 1845,1448.2 1845.5,1451.6 1846,1449.8 1846.5,1451.1 1847,1449.7 1847.5,1451.1 1848,1448.7 1848.5,1451.3 1849,1449.4 1849.5,1450.7 1850,1448.8 1850.5,1451.7 1851,1449.4 1851.5,1449.8 1852,1449.3 1852.5,1451.1 1853,1449 1853.5,1450.5 1854,1449.2 1854.5,1450.7 1855,1449.8 1855.5,1450.8 1856,1449.1 1856.5,1451.4 1857,1449.7 1857.5,1450.5 1858,1450.2 1858.5,1451.7 1859,1449.5 1859.5,1450.9 1860,1449.8 1860.5,1450.9 1861,1449.7 1861.5,1451.4 1862,1449.5 1862.5,1452.4 1863,1450.4 1863.5,1451.6 1864,1450.3 1864.5,1450.9 1865,1450.3 1865.5,1451.2 1866,1450.1 1866.5,1450.9 1867,1449.8 1867.5,1451.3 1868,1449.4 1868.5,1450.9 1869,1449.3 1869.5,1450.9 1870,1448.9 1870.5,1451 1871,1449.8 1871.5,1451.8 1872,1449.8 1872.5,1450.8 1873,1450 1873.5,1451.8 1874,1450.2 1874.5,1450.7 1875,1450.3 1875.5,1451.1 1876,1449.5 1876.5,1450.9 1877,1449.6 1877.5,1451.2 1878,1449.1 1878.5,1451.6 1879,1449.3 1879.5,1451.7 1880,1449.4 1880.5,1450.7 1881,1448.8 1881.5,1451.9 1882,1449.8 1882.5,1451.9 1883,1450.4 1883.5,1451.3 1884,1450.2 1884.5,1452.2 1885,1450.1 1885.5,1451.7 1886,1450.4 1886.5,1452.3 1887,1449.3 1887.5,1452.4 1888,1448.5 1888.5,1451.4 1889,1449.9 1889.5,1451.2 1890,1449.7 1890.5,1451.3 1891,1449.7 1891.5,1451.4 1892,1450.6 1892.5,1452.2 1893,1449.7 1893.5,1452.2 1894,1450.6 1894.5,1452.2 1895,1450.4 1895.5,1451.8 1896,1450.6 1896.5,1452.2 1897,1450.2 1897.5,1451.4 1898,1448.9 1898.5,1451.2 1899,1450.3 1899.5,1450.7 1900,1449.8 1900.5,1451.5 1901,1450.5 1901.5,1451.7 1902,1450 1902.5,1451 1903,1450.1 1903.5,1451.1 1904,1450.2 1904.5,1451.5 1905,1450.2 1905.5,1452 1906,1449.9 1906.5,1451.5 1907,1449.5 1907.5,1450.3 1908,1449.8 1908.5,1450.6 1909,1449.1 1909.5,1450.8 1910,1448.1 1910.5,1450.1 1911,1448.5 1911.5,1451.1 1912,1449.4 1912.5,1450.4 1913,1448.5 1913.5,1451.2 1914,1448.3 1914.5,1450 1915,1449.5 1915.5,1450.9 1916,1449.2 1916.5,1451.4 1917,1449.6 1917.5,1451.2 1918,1449.5 1918.5,1451.1 1919,1449.4 1919.5,1451.4 1920,1450.2 1920.5,1450.8 1921,1449 1921.5,1451.5 1922,1449.6 1922.5,1451.5 1923,1449.3 1923.5,1451 1924,1449.5 1924.5,1451 1925,1449.6 1925.5,1451.1 1926,1450 1926.5,1451 1927,1449.7 1927.5,1451.2 1928,1448.3 1928.5,1451 1929,1449.8 1929.5,1451.9 1930,1449.3 1930.5,1450.4 1931,1449.6 1931.5,1450.5 1932,1449.7 1932.5,1450.9 1933,1449.9 1933.5,1451.6 1934,1449.4 1934.5,1451 1935,1450.3 1935.5,1451.6 1936,1450.9 1936.5,1451.4 1937,1449.6 1937.5,1450.5 1938,1450.6 1938.5,1451.2 1939,1449.9 1939.5,1450.4 1940,1448.2 1940.5,1450.9 1941,1447.9 1941.5,1451 1942,1449.2 1942.5,1450.7 1943,1449.4 1943.5,1451.5 1944,1450 1944.5,1452 1945,1449.5 1945.5,1451.5 1946,1450.1 1946.5,1452.1 1947,1450.4 1947.5,1451.6 1948,1450.9 1948.5,1451.6 1949,1449.9 1949.5,1451.5 1950,1450.4 1950.5,1452.4 1951,1449.5 1951.5,1451.3 1952,1449.6 1952.5,1451.8 1953,1449.7 1953.5,1451.4 1954,1449.1 1954.5,1450.9 1955,1449.5 1955.5,1450.7 1956,1449.8 1956.5,1451.5 1957,1448.4 1957.5,1450.7 1958,1448.1 1958.5,1450 1959,1448.9 1959.5,1450 1960,1448.6 1960.5,1449.8 1961,1448.7 1961.5,1450.2 1962,1448.7 1962.5,1449.1 1963,1447.9 1963.5,1449.5 1964,1447.4 1964.5,1448.9 1965,1447.7 1965.5,1449.1 1966,1446 1966.5,1448 1967,1446.4 1967.5,1447.8 1968,1446.1 1968.5,1446.7 1969,1444.8 1969.5,1445.7 1970,1444.8 1970.5,1445.6 1971,1443.6 1971.5,1444.6 1972,1443.5 1972.5,1443.9 1973,1441.2 1973.5,1441.6 1974,1439.8 1974.5,1441.4 1975,1438 1975.5,1438.2 1976,1434.7 1976.5,1435.8 1977,1433.3 1977.5,1432.7 1978,1429.6 1978.5,1429.2 1979,1424.5 1979.5,1423.1 1980,1418.6 1980.5,1416.4 1981,1409.7 1981.5,1405.6 1982,1397.7 1982.5,1390.7 1983,1378.9 1983.5,1367.5 1984,1351.6 1985,1324.7 1985.5,1319.3 1986,1320.8 1986.5,1326.6 1987,1331.7 1987.5,1338.2 1988,1333.2 1988.5,1324.9 1989,1312.1 1989.5,1303.9 1990,1291.1 1990.5,1281.7 1991,1265.6 1991.5,1252.1 1992,1242.4 1992.5,1243.5 1993,1247.7 1993.5,1258 1994,1267.9 1994.5,1281.9 1995,1293.6 1995.5,1309.8 1996,1316 1996.5,1323.5 1997,1326.9 1997.5,1327.8 1998,1316.8 1998.5,1308.3 1999,1300.1 1999.5,1301.5 2000,1307.2 2000.5,1323.2 2001,1340.3 2001.5,1359.3 2002,1371.5 2002.5,1383.4 2003,1390.8 2003.5,1400.8 2004,1405.8 2004.5,1412.5 2005,1416.2 2005.5,1421.5 2006,1424 2006.5,1428 2007,1428.5 2007.5,1432.4 2008,1432.6 2008.5,1435.8 2009,1435.2 2009.5,1438 2010,1437.6 2010.5,1440.4 2011,1440.1 2011.5,1442.3 2012,1440.7 2012.5,1443.1 2013,1442.5 2013.5,1444.3 2014,1442.9 2014.5,1445.8 2015,1444.2 2015.5,1445.8 2016,1443.9 2016.5,1446.9 2017,1444.4 2017.5,1447.4 2018,1445.8 2018.5,1447 2019,1445.6 2019.5,1447.2 2020,1446.9 2020.5,1448.3 2021,1446.6 2021.5,1449.1 2022,1448.2 2022.5,1450.1 2023,1447.7 2023.5,1449.5 2024,1448.4 2024.5,1449.9 2025,1448.5 2025.5,1450.6 2026,1448.8 2026.5,1450.2 2027,1448.4 2027.5,1450.1 2028,1449 2028.5,1450.2 2029,1448.4 2029.5,1450.8 2030,1449.1 2030.5,1450.1 2031,1450 2031.5,1451.2 2032,1449.3 2032.5,1451.4 2033,1448.3 2033.5,1451.7 2034,1449.4 2034.5,1450.5 2035,1449.4 2035.5,1450.9 2036,1449.6 2036.5,1451.5 2037,1449.5 2037.5,1450.9 2038,1449.5 2038.5,1451 2039,1449.9 2039.5,1450.8 2040,1448.5 2040.5,1451 2041,1450.1 2041.5,1451.2 2042,1450 2042.5,1450.9 2043,1449.3 2043.5,1450.8 2044,1450.1 2044.5,1451 2045,1448.9 2045.5,1451 2046,1449.4 2046.5,1451.4 2047,1450 2047.5,1451.2 2048,1449.6 2048.5,1451.4 2049,1450.2 2049.5,1451.8 2050,1449.9 2050.5,1451.6 2051,1450.1 2051.5,1451.8 2052,1450.1 2052.5,1451.8 2053,1448.7 2053.5,1451.1 2054,1450 2054.5,1450.3 2055,1449.1 2055.5,1451.3 2056,1450 2056.5,1450.6 2057,1449.5 2057.5,1450.7 2058,1449.7 2058.5,1450.9 2059,1449.6 2059.5,1451.8 2060,1449.7 2060.5,1451.8 2061,1449.9 2061.5,1451.8 2062,1450.3 2062.5,1451.2 2063,1449.4 2063.5,1451 2064,1449.5 2064.5,1451.6 2065,1450 2065.5,1451.3 2066,1449.8 2066.5,1450.7 2067,1449 2067.5,1451 2068,1450 2068.5,1451.4 2069,1449.3 2069.5,1451.2 2070,1448.5 2070.5,1450.6 2071,1449.4 2071.5,1451.2 2072,1449.8 2072.5,1451.4 2073,1449.7 2073.5,1451.3 2074,1449.2 2074.5,1450.8 2075,1448.9 2075.5,1450.9 2076,1449 2076.5,1450.2 2077,1449.3 2077.5,1452.7 2078,1450.1 2078.5,1451 2079,1449.1 2079.5,1450.2 2080,1449 2080.5,1449.9 2081,1448.3 2081.5,1450.2 2082,1448.9 2082.5,1450.6 2083,1448.4 2083.5,1450.6 2084,1449.1 2084.5,1450.4 2085,1450 2085.5,1451.8 2086,1447.2 2086.5,1451.2 2087,1450 2087.5,1451.1 2088,1450.2 2088.5,1451.5 2089,1450.2 2089.5,1451.6 2090,1450.6 2090.5,1451.8 2091,1449.9 2091.5,1452.2 2092,1450.3 2092.5,1451.8 2093,1450.2 2093.5,1451 2094,1448.8 2094.5,1450.5 2095,1449.4 2095.5,1451.7 2096,1449.9 2096.5,1451.3 2097,1449.6 2097.5,1451.4 2098,1450 2098.5,1451.4 2099,1449.3 2099.5,1451.1 2100,1450.3 2100.5,1450.9 2101,1449.8 2101.5,1450.5 2102,1449.6 2102.5,1450.6 2103,1449.5 2103.5,1451.4 2104,1450.1 2104.5,1452.7 2105,1449.5 2105.5,1451.5 2106,1450.3 2106.5,1451.2 2107,1450.6 2107.5,1451 2108,1449.2 2108.5,1452.2 2109,1449.4 2109.5,1451.3 2110,1450.3 2110.5,1451.6 2111,1449.8 2111.5,1450.8 2112,1450.3 2112.5,1451.9 2113,1450.1 2113.5,1452.6 2114,1451 2114.5,1451.5 2115,1450.7 2115.5,1451.4 2116,1450 2116.5,1451.4 2117,1450.6 2117.5,1451.8 2118,1450.2 2118.5,1451.8 2119,1450.6 2119.5,1452 2120,1450.7 2120.5,1452 2121,1450.2 2121.5,1451.7 2122,1450.4 2122.5,1451.9 2123,1450.4 2123.5,1451.7 2124,1450.1 2124.5,1451.5 2125,1449.8 2125.5,1450.8 2126,1449.3 2126.5,1451.7 2127,1449.3 2127.5,1450.5 2128,1449.8 2128.5,1451.1 2129,1450 2129.5,1449.7 2130,1449 2130.5,1451.8 2131,1449.4 2131.5,1451.1 2132,1449.1 2132.5,1451.8 2133,1449.4 2133.5,1451.3 2134,1449.9 2134.5,1451.9 2135,1450.3 2135.5,1452.1 2136,1449.6 2136.5,1451 2137,1449.6 2137.5,1451.9 2138,1449.3 2138.5,1451.6 2139,1449.6 2139.5,1451.8 2140,1449.6 2140.5,1450.7 2141,1448.5 2141.5,1451 2142,1450.1 2142.5,1451.3 2143,1449.3 2143.5,1450.8 2144,1449.4 2144.5,1451.6 2145,1450.3 2145.5,1450.4 2146,1450.3 2146.5,1451.8 2147,1450 2147.5,1451.9 2148,1449.9 2148.5,1451 2149,1449.5 2149.5,1451 2150,1449.3 2150.5,1450.6 2151,1450.8 2151.5,1452.5 2152,1450.4 2152.5,1451.4 2153,1450.5 2153.5,1451.7 2154,1450.2 2154.5,1452 2155,1450.8 2155.5,1453.2 2156,1450.6 2156.5,1451.2 2157,1449.3 2157.5,1451.6 2158,1450 2158.5,1452.1 2159,1450.1 2159.5,1451 2160,1449.4 2160.5,1450.9 2161,1449.5 2161.5,1450.7 2162,1449.9 2162.5,1451.8 2163,1449.5 2163.5,1451.6 2164,1450.2 2164.5,1451.4 2165,1449.4 2165.5,1451.7 2166,1449.8 2166.5,1452.3 2167,1449.8 2167.5,1451.7 2168,1450.3 2168.5,1452.2 2169,1449.8 2169.5,1451.1 2170,1450.4 2170.5,1451.5 2171,1449.7 2171.5,1450.5 2172,1449.6 2172.5,1451.5 2173,1449.6 2173.5,1450.1 2174,1448.7 2174.5,1451.2 2175,1448.8 2175.5,1451.3 2176,1449.4 2176.5,1451.6 2177,1450.2 2177.5,1450.8 2178,1450 2178.5,1451.1 2179,1449.9 2179.5,1451.1 2180,1449.2 2180.5,1452 2181,1450 2181.5,1451.9 2182,1449.8 2182.5,1451.3 2183,1450.4 2183.5,1451.2 2184,1449.4 2184.5,1451 2185,1449.8 2185.5,1451.7 2186,1449.1 2186.5,1451.5 2187,1449.9 2187.5,1452 2188,1450 2188.5,1451.9 2189,1449.3 2189.5,1451.6 2190,1450.3 2190.5,1451.4 2191,1449.9 2191.5,1451.7 2192,1449.9 2192.5,1451.3 2193,1449.8 2193.5,1451.1 2194,1449.9 2194.5,1452 2195,1450.7 2195.5,1451.2 2196,1449.9 2196.5,1451.1 2197,1447.7 2197.5,1451.7 2198,1449.7 2198.5,1451.7 2199,1448.6 2199.5,1451.1 2200,1450.3 2200.5,1451.9 2201,1449.2 2201.5,1451.3 2202,1450 2202.5,1452.1 2203,1450.2 2203.5,1451.9 2204,1449.8 2204.5,1452.5 2205,1449.4 2205.5,1451.5 2206,1450.1 2206.5,1451.6 2207,1450 2207.5,1450.8 2208,1450.2 2208.5,1452 2209,1450.4 2209.5,1450.8 2210,1449.2 2210.5,1450.6 2211,1450 2211.5,1451.2 2212,1449.5 2212.5,1451.4 2213,1449.4 2213.5,1451"/></g>
<g clip-path="url(#c_p3ht)"><polyline fill="none" stroke="#000" stroke-width="2.6" stroke-linejoin="round" points="26.5,1702 27,1702.3 28.5,1702.4 29.5,1702 30,1701.9 31,1702.3 31.5,1702.6 32,1702.7 33.5,1702.1 36,1702.3 37,1702 37.5,1701.8 40.5,1702 41.5,1701.9 42.5,1702.3 43.5,1702.2 44.5,1702.5 46.5,1701.7 47.5,1702.1 48,1702.2 49,1701.8 51,1702.6 51.5,1702.5 52,1702.1 52.5,1701.9 53.5,1702.2 54,1702.3 55,1701.9 56,1702.2 56.5,1702.3 58.5,1701.7 60,1701.8 60.5,1702.1 61,1702.3 62,1702 63,1702.3 63.5,1702.3 64,1702 64.5,1701.9 65.5,1702.2 66.5,1702.2 67.5,1702.3 69,1701.8 70,1701.9 71.5,1702.1 74.5,1702.1 76,1702.3 77,1701.9 79.5,1701.8 80.5,1702.2 81.5,1702.2 82.5,1701.8 83,1701.8 84,1702.1 85,1702.1 85.5,1702.3 86,1702.3 87,1702 88,1702.2 88.5,1702.1 89.5,1702.4 90.5,1702 91,1702.1 91.5,1702.4 92,1702.5 93,1702.1 93.5,1701.7 94,1701.6 95,1702.2 95.5,1702.3 96.5,1702 98,1702.1 98.5,1702 99,1701.6 99.5,1701.4 101,1701.9 102,1701.7 103,1702 104,1702.5 104.5,1702.6 106,1702.2 107,1701.8 108,1702 109,1702.1 110,1702.1 110.5,1702.2 112,1701.9 113.5,1702 115.5,1701.9 116,1701.8 116.5,1702 117,1702.4 117.5,1702.5 118,1702.3 119,1701.6 119.5,1701.7 120,1702 120.5,1702 121,1701.7 122,1702.1 124,1701.9 124.5,1702.1 125,1702.6 125.5,1702.6 127.5,1701.7 128,1701.7 129,1702 130,1702 130.5,1701.9 131.5,1702.3 132.5,1702.3 134,1702.3 134.5,1701.9 135.5,1701.6 136,1701.5 136.5,1701.7 137,1702.1 137.5,1702.4 138.5,1702 139.5,1702.3 142,1701.7 144,1701.9 145,1701.8 146.5,1702.6 147,1702.6 148.5,1701.9 149.5,1701.2 151,1701.8 152.5,1702.3 153.5,1701.8 154,1701.8 155,1702 156,1702 156.5,1702.2 157,1702.1 157.5,1701.7 158,1701.7 159,1702.1 160.5,1702.1 161.5,1702.4 162.5,1701.7 163,1701.7 164,1702.5 164.5,1702.5 166,1702 167,1701.9 167.5,1701.8 169.5,1702.2 170.5,1702.1 171.5,1702.5 172,1702.6 173,1702 173.5,1702 174,1702.1 175,1702 176,1702.1 176.5,1701.9 177,1701.8 178.5,1702.4 179.5,1702.4 180.5,1702.2 181.5,1702.1 182,1701.9 184,1702.4 184.5,1702.2 185,1701.7 185.5,1701.6 187,1702.3 187.5,1702.4 189,1701.8 191,1701.7 193,1702.1 196,1702 198,1702.1 198.5,1701.7 199,1701.6 200,1702.2 200.5,1702.2 201.5,1701.7 202,1701.7 203,1702.1 204.5,1702.1 205,1702.3 206.5,1701.9 207.5,1702.2 208.5,1701.9 209.5,1702.3 210,1702.3 211,1701.8 212,1701.8 213.5,1701.9 214.5,1702.3 215.5,1702.1 217.5,1701.5 219,1701.4 219.5,1701.5 220,1701.9 220.5,1702 221.5,1701.8 223.5,1702.2 224.5,1702.1 225.5,1701.6 226.5,1702.3 227.5,1702.3 228,1702.2 228.5,1701.8 229,1701.7 230,1702.3 230.5,1702.3 231.5,1701.8 232.5,1701.6 234,1702 234.5,1702 235.5,1701.7 236.5,1702.1 237.5,1702.1 239,1701.7 240.5,1701.6 241,1701.8 241.5,1702.3 242,1702.3 242.5,1702.1 244,1702.2 245,1702.3 246,1702 248,1702.3 249,1702.3 250,1702.1 251,1702.4 252.5,1702 253.5,1702 255.5,1702.5 256.5,1701.8 257,1701.6 258,1701.9 259.5,1702.3 261,1701.8 261.5,1701.8 262.5,1702.3 263,1702.3 264.5,1702.1 265.5,1702.2 266,1702.1 267,1701.6 267.5,1701.5 268.5,1702.2 269,1702.4 269.5,1702.3 270,1701.9 270.5,1701.8 271.5,1701.9 272.5,1701.7 273.5,1702 275,1701.5 275.5,1701.3 276.5,1701.2 278.5,1701.8 280,1701.7 282,1702.2 282.5,1702.2 284.5,1701.3 285,1701.5 285.5,1702 286.5,1702.1 288.5,1701.6 289,1701.7 290,1702.2 290.5,1702.3 292,1702.1 294,1702.2 295,1701.9 296,1702.2 296.5,1702.2 297,1701.9 298.5,1701.9 299.5,1702.2 300,1702.3 301,1701.7 301.5,1701.8 302,1702.1 303.5,1701.9 305.5,1702.2 306,1702.2 307,1702.5 308.5,1702.5 310.5,1701.6 311.5,1701.9 312,1701.8 312.5,1701.5 313,1701.7 313.5,1702 314.5,1701.7 315.5,1701.9 316.5,1702.5 317,1702.4 318,1701.9 320.5,1702 322.5,1701.7 326,1702 328,1701.9 329,1702.1 330,1702 331,1702.1 333.5,1702.2 334,1702 334.5,1701.6 335,1701.5 336,1702.1 336.5,1702.2 338,1701.8 340,1701.6 341.5,1702.2 342.5,1702.2 344,1701.7 344.5,1701.8 345.5,1702.4 346,1702.6 347,1702.4 348,1702.1 350,1701.9 351,1702 352,1701.6 353.5,1701.9 354.5,1701.7 355.5,1702.2 356.5,1702.3 357.5,1701.8 358,1701.6 358.5,1701.7 360,1702.3 361,1702 362,1702.2 363.5,1701.5 364.5,1702.2 365,1702.4 366,1702 366.5,1702.1 367.5,1702.7 368,1702.7 368.5,1702.5 369.5,1702.6 370,1702.5 371,1701.9 372,1701.8 373.5,1701.7 375,1702.3 375.5,1702.3 377,1701.6 378,1701.6 378.5,1701.6 379.5,1702.3 380.5,1702.4 381,1702.3 382,1701.6 382.5,1701.5 383,1701.7 383.5,1702.2 384,1702.5 384.5,1702.4 385.5,1701.9 387.5,1702 388,1701.8 388.5,1701.8 389,1702 389.5,1702 390.5,1701.5 391,1701.5 392.5,1702.2 393.5,1702.1 394.5,1701.9 395.5,1702 396,1702.1 398,1701.9 400,1702.5 401.5,1702 402.5,1702.3 403,1702.5 403.5,1702.5 404.5,1701.9 405,1701.8 406.5,1702.1 407.5,1702 408.5,1702.4 409,1702.3 409.5,1701.9 410,1701.7 412,1701.6 413,1701.9 414.5,1702 416,1701.7 417,1701.7 418,1702.1 418.5,1702.4 420,1702.3 420.5,1702.1 421.5,1701.6 423.5,1701.9 424.5,1702.4 426.5,1701.7 428,1701.9 429,1702.2 429.5,1702.2 430,1702 431,1702.3 431.5,1702.3 433.5,1701.3 434,1701.4 434.5,1701.7 435.5,1701.7 437,1702.1 438,1701.9 439.5,1702.7 440,1702.5 440.5,1702 441,1701.7 442.5,1702.2 443.5,1701.9 444.5,1702 445.5,1701.6 446,1701.6 447,1702.3 447.5,1702.3 448.5,1701.9 450,1701.9 452,1702.3 452.5,1702.2 453.5,1701.6 454.5,1701.6 455.5,1702.1 456,1702 456.5,1701.8 457,1701.7 459,1702 460,1701.6 462,1701.8 463,1702.1 464.5,1702 466,1702.1 467.5,1701.7 469,1701.8 470.5,1702.1 471.5,1701.9 474,1701.8 474.5,1701.7 476,1702.1 477,1701.8 478,1702.2 478.5,1702.1 479.5,1701.8 480.5,1701.8 481,1701.7 481.5,1701.7 482.5,1702 483,1701.9 484,1702.1 485,1701.5 485.5,1701.2 486.5,1701.8 489,1701.9 490,1701.9 491,1702.6 491.5,1702.5 492.5,1702 494.5,1701.9 495,1701.9 496,1701.8 497,1702.2 498,1702.1 499,1701.8 500,1701.9 501.5,1702 502.5,1702.4 503,1702.5 504,1702 505,1702.3 506,1701.8 507,1702.3 508.5,1702.4 509.5,1702.1 510.5,1702.4 511.5,1702 512.5,1701.5 513,1701.4 514.5,1701.9 515,1701.9 516,1701.5 516.5,1701.7 517,1702 518,1702.2 518.5,1702.2 519,1702 519.5,1701.6 520,1701.5 521.5,1702.2 522.5,1702.2 523.5,1701.7 524,1701.7 525,1702.1 528,1702.1 529.5,1701.6 530.5,1702.3 531,1702.4 531.5,1702.3 532,1701.9 532.5,1701.7 533.5,1702.4 534.5,1702.5 535.5,1702.8 536,1702.7 537,1702 537.5,1701.8 538,1701.8 539,1701.3 539.5,1701.5 540.5,1702.4 542,1702.2 543,1702.6 543.5,1702.6 544,1702.3 544.5,1702.3 545,1702.6 545.5,1702.5 546.5,1702.1 547.5,1702.1 548,1702.1 549,1702 550.5,1701.9 551.5,1701.6 552.5,1702.2 554,1702.2 555,1702 556,1702.1 557,1701.8 557.5,1701.9 558,1702.3 558.5,1702.1 559,1701.7 559.5,1701.7 560.5,1702.2 562.5,1702.4 563.5,1702.2 564.5,1701.8 566,1701.6 567.5,1701.6 569.5,1701.9 570.5,1701.9 571.5,1702.3 572.5,1702.1 573,1701.9 575,1702.2 576.5,1701.7 577.5,1702.1 578,1702.1 579,1701.8 581,1701.7 582.5,1702.4 584.5,1702.4 585.5,1702.2 586.5,1702.2 587.5,1701.9 588,1702 589,1702.6 589.5,1702.5 590.5,1701.8 592,1701.8 593,1701.8 594,1701.5 595.5,1702.2 596.5,1701.8 597.5,1702 598.5,1701.4 600.5,1701.8 601,1701.6 601.5,1701.7 602.5,1702.2 603,1702.3 604,1701.9 604.5,1701.7 605,1701.6 606,1702 607,1701.9 608.5,1701.7 609,1701.7 610,1702 612,1702.2 613,1701.7 615.5,1701.7 616,1701.6 616.5,1701.7 617,1702.2 617.5,1702.3 618.5,1701.9 619,1701.9 620,1702.4 622.5,1701.8 623.5,1702 625,1701.8 626,1701.2 627,1701.8 629,1702.2 630,1701.8 631,1701.9 632,1702.1 633,1702.1 634,1701.9 635,1702.1 636,1701.7 637,1701.9 637.5,1702.1 638.5,1701.8 641,1702 641.5,1701.9 642.5,1701.4 643.5,1702.2 645,1701.8 646,1701.4 648,1702.2 648.5,1702.5 649,1702.6 650,1702.1 652.5,1702.3 653,1702.1 653.5,1701.9 654,1701.7 656,1702.2 658,1701.6 659,1702.2 660,1701.9 661.5,1701.8 662.5,1702.1 664.5,1702 665,1701.7 666,1702 667,1701.8 668,1702.1 669,1701.6 669.5,1701.6 670.5,1701.9 671.5,1701.5 672.5,1702 673,1702.2 673.5,1702.3 675.5,1701.5 677,1701.7 678,1701 680,1701.3 681,1701.3 682.5,1701.9 684.5,1702.1 685.5,1701.6 686.5,1701.7 688,1702.1 688.5,1702.2 690,1701.6 690.5,1701.7 692,1702.2 693,1701.9 694,1702 695,1701.7 695.5,1701.8 696.5,1702.2 697.5,1701.9 699,1702.2 700.5,1701.7 702.5,1701.6 704,1702.2 705,1702.3 705.5,1702.1 706,1701.7 706.5,1701.5 708,1701.6 708.5,1701.9 709,1701.9 709.5,1701.6 710,1701.6 710.5,1701.8 712,1701.6 712.5,1701.8 713.5,1702.3 714,1702.2 715,1701.6 717.5,1701.8 718.5,1701.5 719.5,1701.6 720.5,1702 722,1701.7 722.5,1701.4 724,1701.2 724.5,1701.4 725.5,1701.9 726.5,1702.1 729,1701.8 731,1701.8 732,1702.1 733,1701.5 734,1701.5 735,1701.5 737,1701 738,1701.5 739.5,1701.8 741,1701.4 745,1701.8 746,1701.9 747.5,1701 749.5,1701.1 750.5,1701.4 751.5,1701.2 752.5,1701.7 753,1701.6 754,1701 754.5,1701 755,1701.2 756,1701 757,1700.6 757.5,1700.6 758.5,1701.3 760,1700.6 760.5,1700.5 761,1700.6 761.5,1700.5 762,1700.2 763.5,1700 764,1700 765,1699.2 766,1699.2 767,1698.6 769,1696.2 769.5,1695.5 770,1694.7 770.5,1693.4 771,1691.7 771.5,1689.8 772,1687.4 772.5,1684.1 773,1678.7 773.5,1669.6 774,1653 774.5,1619.5 775,1548.3 775.5,1457.7 775.6,1459.1 776,1513.1 776.5,1603 777,1648.5 777.5,1670 778,1681.4 778.5,1688.2 779,1692.3 779.5,1694.6 780,1696.2 780.5,1697.4 781,1698.2 781.5,1698.9 783,1700 784,1700.4 785.5,1700.5 786.5,1700.7 787,1701 787.5,1701.1 788.5,1700.9 790,1700.9 791,1701.2 792.5,1701.2 793,1701 794.5,1701.3 795.5,1701.1 796,1700.9 796.5,1701 797,1701.4 798,1701.3 798.5,1701.1 799,1701.2 799.5,1701.5 800,1701.6 801,1701.3 802,1701.3 804.5,1700.9 806,1701 807.5,1700.6 808,1700.6 808.5,1700.9 809,1701 810,1700.7 810.5,1700.8 811.5,1701.2 813,1701.1 814,1700.8 814.5,1700.8 815.5,1700.4 816.5,1700.6 817.5,1700.4 818,1700.5 818.5,1700.8 819.5,1701 820.5,1700.9 821.5,1700.4 822,1700.1 823,1700.4 825.5,1699.6 826.5,1699.8 827,1699.9 830.5,1699.2 831.5,1699 832,1698.6 833,1698.4 833.5,1698.1 834.5,1698 835.5,1697.4 837.5,1697 838.5,1696.1 839.5,1695.6 841,1694.3 842,1693.6 842.5,1692.9 843.5,1691.1 844.5,1689.4 845,1688.1 845.5,1686.3 846,1684 846.5,1681.3 847,1677.8 847.5,1672.9 848,1665.9 848.5,1655.4 849,1639.1 849.5,1612.1 850,1563.9 850.5,1475.1 851,1381.9 851.5,1381.9 852,1397.7 852.5,1518.4 853,1588.5 853.5,1627.1 854,1649.7 854.5,1663.7 855,1672.8 855.5,1679 856,1683.3 856.5,1686.6 857,1689.4 857.5,1691.5 858,1693.1 858.5,1694.4 859,1695.5 859.5,1696.4 861,1698.3 861.5,1698.8 862.5,1699.2 863.5,1700.2 864,1700.4 864.5,1700.3 865,1700.4 865.5,1700.8 867.5,1700.6 868.5,1700.4 869.5,1700.6 870.5,1700.1 871.5,1700.3 872,1700.1 872.5,1699.5 873,1699.2 874,1699.9 875,1700.4 876,1701.2 876.5,1701.1 877,1700.7 877.5,1700.7 878.5,1701.4 880.5,1701.2 881.5,1701.4 882.5,1701.3 883.5,1702.1 885,1701.6 886.5,1701.7 887.5,1701.3 889,1701.8 890.5,1701.7 892,1701.4 892.5,1701.4 893,1701.3 893.5,1700.8 894,1700.7 897,1701.4 897.5,1701.5 899,1701.4 900,1701.8 901.5,1701.4 902,1701.4 903,1701.7 904.5,1701.8 905.5,1701.5 906.5,1701.8 908,1701.5 908.5,1701.6 909.5,1702 910.5,1702.1 912.5,1701.7 913.5,1702.1 914,1702.1 915,1701.6 916,1701.7 917,1701.5 918,1701.4 918.5,1701.3 920,1702.2 920.5,1702.3 921.5,1701.8 922.5,1702 923.5,1701.5 925,1701.2 926,1700.6 926.5,1700.8 927,1701.4 927.5,1701.8 929,1701.9 931,1701.7 932.5,1702.2 933.5,1702.1 934,1701.8 935,1702.1 936,1701.9 937,1702.1 938.5,1702.1 939,1701.9 939.5,1701.9 940,1702.1 941,1702.1 942,1702.5 943,1702.1 943.5,1702.1 944.5,1702.2 945.5,1701.6 946.5,1701.9 947.5,1701.8 948.5,1702.2 949.5,1701.8 950,1701.8 951.5,1702.2 952.5,1702.2 953.5,1702 955,1701.9 956,1702.2 957,1701.9 958,1702.3 959,1702.1 960,1702.3 961.5,1701.8 962,1701.8 963.5,1702.6 964.5,1702.5 966,1701.9 967,1701.8 967.5,1701.9 968,1702.3 968.5,1702.5 970,1701.9 970.5,1701.9 971,1702.1 972,1702.1 972.5,1701.9 973.5,1701.4 974.5,1701.8 975.5,1702.4 976,1702.5 977,1701.9 977.5,1701.8 979,1701.8 980,1701.9 981,1702.1 983,1701.5 984,1701.8 985,1702.2 986,1701.8 987,1702.2 987.5,1702.1 988,1701.8 990,1701.9 990.5,1701.6 991,1701.5 992,1702.1 992.5,1702 993.5,1701.5 994.5,1701.7 995.5,1701.3 996,1701.4 996.5,1701.8 997.5,1701.8 998.5,1702.4 1000,1702.3 1000.5,1702 1001,1701.9 1002,1702.2 1003,1701.9 1004.5,1701.9 1006,1702.3 1006.5,1702.3 1007.5,1701.9 1008,1701.8 1009.5,1702.2 1011,1701.9 1012.5,1702.1 1013.5,1701.7 1014,1701.7 1015,1702.3 1015.5,1702.3 1016.5,1702 1018.5,1701.9 1019.5,1702.3 1020,1702.3 1020.5,1702.5 1021,1702.5 1022,1702 1022.5,1701.6 1023,1701.5 1024,1702.2 1025.5,1702.3 1027,1702.2 1027.5,1702.4 1028,1702.2 1028.5,1701.8 1029.5,1701.8 1030.5,1702.2 1031.5,1701.9 1032.5,1702.6 1033,1702.6 1034.5,1702.1 1037.5,1701.9 1038.5,1702.2 1039.5,1701.4 1040,1701.4 1040.5,1701.6 1041.5,1701.6 1042.5,1702 1044.5,1701.9 1045.5,1702.3 1046.5,1702.2 1047,1702.4 1047.5,1702.5 1048,1702.1 1048.5,1701.9 1049.5,1702.2 1050.5,1701.9 1051.5,1701.9 1052,1701.8 1053,1702.3 1053.5,1702.2 1054,1701.9 1055,1701.8 1056,1701.9 1056.5,1702.2 1057,1702.2 1057.5,1701.9 1060,1702.3 1061,1701.7 1062,1701.9 1063,1702.4 1063.5,1702.4 1066,1701.5 1067,1701.7 1068,1702.2 1068.5,1702.2 1069.5,1701.7 1071.5,1701.7 1072.5,1701.9 1073.5,1701.7 1074,1701.7 1075,1702.2 1077,1702.1 1077.5,1702 1078.5,1701.4 1080,1701.6 1081,1702.2 1081.5,1702.3 1083,1701.9 1083.5,1701.9 1084.5,1701.5 1086,1702 1087,1701.9 1088,1702.2 1089.5,1702.3 1090.5,1701.8 1091,1701.9 1091.5,1702.3 1093.5,1702.4 1095,1701.9 1095.5,1701.9 1097,1702.4 1098,1701.9 1099,1702.2 1100.5,1702 1101.5,1701.7 1102.5,1702 1103,1702 1104.5,1701.5 1106.5,1702.1 1107.5,1702 1108.5,1702.3 1110.5,1702.1 1111.5,1702.3 1112.5,1701.9 1114,1702.3 1115,1702.3 1115.5,1702.5 1116.5,1702.1 1118,1702.1 1118.5,1701.9 1119.5,1701.9 1120.5,1701.6 1121.5,1701.6 1122.5,1702 1124,1701.9 1125.5,1702 1126,1702.2 1126.5,1702.3 1127,1702.1 1128,1702.2 1129,1702 1130.5,1702.1 1132,1702.6 1133,1702.4 1135,1701.4 1135.5,1701.5 1136,1701.8 1136.5,1701.9 1137.5,1701.7 1138.5,1701.8 1139.5,1701.6 1141,1702.3 1142,1702.4 1142.5,1702.3 1143,1702 1143.5,1702 1144,1702.3 1146,1701.8 1147.5,1701.8 1148.5,1701.6 1149.5,1702.1 1150,1702 1151,1701.6 1152,1702 1152.5,1702.3 1153,1702.3 1154,1701.7 1154.5,1701.7 1155.5,1701.9 1156.5,1701.7 1158,1702.1 1159.5,1702.3 1161,1701.7 1162.5,1701.5 1164,1702.1 1165,1702 1166,1702.3 1166.5,1702.2 1167.5,1701.4 1168,1701.4 1168.5,1701.7 1169,1701.8 1170.5,1701.5 1174.5,1702.2 1175.5,1702.2 1176.5,1702.3 1177,1702.1 1178,1702.1 1179,1701.8 1179.5,1701.9 1180.5,1701.8 1181.5,1701.9 1182,1701.9 1183,1702.1 1186,1702 1187,1701.5 1187.5,1701.6 1188.5,1702.3 1189,1702.4 1190.5,1702.3 1191.5,1701.7 1192.5,1702.1 1193.5,1701.8 1194.5,1702 1195,1702.2 1195.5,1702.2 1196.5,1701.7 1197,1701.7 1197.5,1702 1198,1702.1 1199,1701.5 1199.5,1701.3 1200,1701.5 1201,1702.2 1201.5,1702.3 1202.5,1701.9 1204,1701.8 1205,1702.4 1206,1702.3 1207,1701.9 1208,1701.9 1208.5,1701.7 1209,1701.9 1209.5,1702.4 1210,1702.5 1211,1701.8 1211.5,1701.8 1212.5,1702.1 1214.5,1702 1215,1701.7 1215.5,1701.6 1216,1701.8 1217,1701.7 1218.5,1702 1220.5,1701.9 1221,1702 1222.5,1701.6 1223.5,1702.3 1224,1702.3 1224.5,1702.1 1225.5,1702.5 1227.5,1702.2 1228,1702.4 1228.5,1702.4 1229.5,1701.9 1230.5,1701.8 1231.5,1701.4 1232,1701.5 1232.5,1702 1233,1702.2 1234,1701.6 1235,1702.2 1236,1701.9 1237,1702.1 1238,1701.9 1239,1702.1 1240,1701.8 1241,1702.2 1242.5,1702.1 1243.5,1701.7 1245.5,1702.1 1246.5,1702.5 1248,1701.9 1249,1702.4 1250.5,1702.3 1251.5,1702.6 1252.5,1702.4 1253,1702.1 1254,1701.9 1254.5,1701.9 1255.5,1702.4 1256.5,1702.2 1258.5,1701.5 1259,1701.5 1260,1702.1 1260.5,1702.5 1261,1702.5 1262,1701.6 1263.5,1701.4 1265,1701.7 1266,1701.8 1266.5,1701.9 1267.5,1701.8 1268.5,1701.6 1269.5,1702 1271,1701.8 1272.5,1702.1 1274,1702.1 1275,1701.9 1276.5,1702.2 1278,1702.4 1279,1702.2 1279.5,1702.2 1280.5,1701.9 1281.5,1702.2 1282.5,1701.9 1284,1702.1 1284.5,1702 1285.5,1702.1 1286.5,1701.6 1287,1701.8 1287.5,1702.1 1288,1702.1 1288.5,1701.9 1289.5,1702.2 1290,1702.1 1291,1701.7 1291.5,1701.6 1292.5,1702.2 1294.5,1702.2 1295.5,1701.7 1296,1701.5 1297.5,1701.8 1298.5,1701.8 1299,1701.6 1300.5,1702.2 1302,1702 1303.5,1701.6 1305.5,1702 1307,1702.3 1309,1702 1310,1701.9 1312,1702.1 1313.5,1702.2 1314.5,1702.5 1315.5,1702 1316,1701.9 1317.5,1702 1318.5,1702.3 1319,1702.2 1319.5,1701.9 1320,1701.8 1320.5,1702.1 1321,1702 1322,1701.6 1322.5,1701.5 1323.5,1702.1 1324,1702.5 1324.5,1702.6 1325,1702.3 1325.5,1701.8 1326,1701.7 1327,1702.2 1327.5,1702.2 1328.5,1701.7 1329,1701.8 1329.5,1702.1 1330,1702.2 1331,1701.8 1333,1701.8 1333.5,1702 1334.5,1702.7 1335,1702.6 1335.5,1702.2 1336,1702.1 1337,1702.4 1338,1702.1 1339.5,1702.1 1340.5,1702.4 1342,1702.4 1343.5,1701.8 1345,1701.8 1347.5,1702.2 1348.5,1702.1 1349.5,1701.8 1350,1701.9 1351,1702.3 1352.5,1702 1353,1702.1 1353.5,1702 1354.5,1701.4 1355,1701.3 1355.5,1701.5 1356,1701.9 1357.5,1702.5 1358.5,1702.4 1359.5,1701.8 1360.5,1701.8 1361.5,1702 1363,1701.9 1364.5,1702.8 1365,1702.6 1366,1701.8 1367,1701.6 1367.5,1701.7 1368.5,1702.2 1371,1701.7 1374.5,1702.3 1375.5,1702.6 1376,1702.5 1376.5,1702.1 1377.5,1701.8 1379.5,1701.9 1380,1702.1 1380.5,1702 1381,1701.5 1381.5,1701.6 1382,1702 1383,1702.1 1384,1702.1 1385,1702.3 1388,1701.6 1390,1702.3 1391,1702.3 1392.5,1701.9 1393.5,1702 1394.5,1702.4 1395.5,1701.8 1396,1701.9 1396.5,1702.2 1398.5,1702.5 1399,1702.4 1399.5,1702.1 1400.5,1702.1 1401.5,1701.5 1402,1701.4 1402.5,1701.7 1403.5,1702.6 1404,1702.6 1404.5,1702.5 1405.5,1701.8 1406,1701.7 1407,1702.2 1408.5,1702.5 1409,1702.5 1410,1701.8 1410.5,1701.6 1411,1701.6 1412,1702.2 1412.5,1702.3 1414,1702 1415,1702 1416,1702.4 1417,1702 1418,1702 1418.5,1701.9 1420.5,1702.3 1421,1702.2 1421.5,1701.9 1422,1701.8 1423.5,1702.1 1424.5,1701.9 1425,1701.7 1426.5,1702.1 1427.5,1701.9 1428.5,1702 1429,1701.8 1430.5,1702.1 1431.5,1701.8 1433,1701.6 1434,1701.9 1436.5,1701.7 1437.5,1702.1 1438.5,1701.9 1439.5,1702.1 1440.5,1702 1442,1701.7 1444,1702.2 1444.5,1702.5 1445,1702.6 1446.5,1701.9 1447.5,1702 1448.5,1701.8 1449,1702 1449.5,1702 1450,1701.7 1450.5,1701.8 1451,1702 1451.5,1702 1452.5,1701.5 1455.5,1702.2 1457,1702.3 1457.5,1702.1 1458,1701.8 1458.5,1701.8 1459,1702 1459.5,1702.1 1460.5,1701.9 1462.5,1702.1 1464,1702 1464.5,1701.9 1466.5,1702.2 1467,1702.1 1467.5,1701.8 1469.5,1702.1 1471,1701.9 1472.5,1702.3 1474,1701.8 1474.5,1701.9 1475.5,1702.2 1476.5,1702 1478.5,1702.3 1479,1702.3 1480,1701.9 1481,1702.2 1482.5,1701.9 1483,1701.9 1483.5,1701.6 1484,1701.6 1484.5,1701.9 1485,1702.1 1485.5,1701.9 1486,1701.9 1486.5,1702.2 1487,1702.1 1487.5,1701.8 1488,1701.7 1489,1702.1 1490.5,1701.8 1492,1702 1493,1701.8 1494,1702.1 1495,1701.9 1496,1702.2 1497.5,1702.2 1498.5,1701.9 1499.5,1702 1500,1701.8 1500.5,1701.8 1501.5,1702.2 1503.5,1701.7 1505,1702.1 1506.5,1701.6 1508.5,1702.2 1510,1702.1 1510.5,1702.4 1511,1702.4 1512,1702.2 1512.5,1702.3 1513.5,1702 1515,1702.1 1516,1701.6 1517.5,1701.4 1519,1702.1 1519.5,1702.2 1520.5,1701.8 1521.5,1702.1 1524.5,1701.7 1525,1701.6 1526.5,1701.9 1527.5,1701.5 1528,1701.4 1529,1702 1530,1701.5 1531,1701.8 1531.5,1702.1 1532,1702.1 1532.5,1701.9 1534,1702.1 1535.5,1701.8 1537,1701.9 1538,1701.8 1539,1702 1541,1701.2 1542,1702 1542.5,1702.1 1544,1702.1 1544.5,1702.2 1545.5,1701.9 1546,1702 1546.5,1702.3 1547,1702.3 1548.5,1701.6 1549,1701.5 1551.5,1702.3 1552.5,1702.1 1553.5,1701.8 1554,1701.8 1555,1702.3 1556,1702.3 1557,1701.8 1558,1702.3 1559.5,1702.1 1560.5,1702.2 1562.5,1702 1564,1701.9 1565,1702.1 1566,1701.9 1566.5,1702.2 1567,1702.2 1568.5,1701.6 1569,1701.5 1570,1701.8 1572.5,1701.7 1573.5,1702 1574,1701.8 1574.5,1701.4 1575,1701.2 1576,1701.7 1576.5,1701.8 1577.5,1701.7 1578.5,1702.3 1579,1702.2 1579.5,1701.9 1582,1702.3 1582.5,1702.1 1583.5,1701.5 1584,1701.5 1585,1701.9 1587.5,1701.5 1588.5,1701.9 1589.5,1701.9 1590.5,1702.1 1591,1702.1 1591.5,1702.3 1592,1702.3 1593.5,1701.9 1594,1701.6 1594.5,1701.6 1596.5,1702.2 1597.5,1701.9 1598.5,1702.1 1600,1701.7 1601,1701.8 1602.5,1702.1 1604.5,1702.2 1605.5,1701.5 1606,1701.4 1607,1702.1 1607.5,1702.1 1608.5,1701.9 1609,1701.5 1609.5,1701.5 1610,1701.8 1611,1701.9 1612,1702.2 1613,1701.9 1614,1702 1614.5,1701.8 1615,1702 1616,1703 1616.5,1702.9 1617,1702.4 1618.5,1702.2 1619.5,1702.2 1620.5,1701.9 1622,1702.3 1623.5,1701.9 1625.5,1701.9 1626.5,1702.2 1627,1702.2 1628,1701.7 1629,1702 1630.5,1701.8 1632,1702.2 1633,1701.8 1634.5,1701.6 1635.5,1701.9 1636,1701.9 1636.5,1701.7 1637.5,1701.8 1638.5,1702.1 1640,1702.1 1641,1701.9 1642.5,1702.3 1644,1701.9 1645.5,1702.2 1646.5,1702 1647.5,1701.6 1648,1701.6 1649,1702 1649.5,1702.1 1650,1701.8 1650.5,1701.8 1653,1702.2 1653.5,1702.1 1654,1701.9 1654.5,1701.9 1655,1702.1 1657,1702 1657.5,1701.8 1658,1701.8 1658.5,1702.1 1660,1702 1661,1701.7 1661.5,1701.6 1662,1702 1662.5,1702.1 1663,1701.7 1663.5,1701.5 1665,1702.1 1666,1702.1 1666.5,1701.8 1668,1701.7 1670,1702.2 1670.5,1702.1 1671.5,1701.6 1672.5,1701.9 1674,1701.9 1675,1701.8 1676,1702.1 1676.5,1702 1677,1701.8 1678,1702 1679,1702 1679.5,1702.3 1680,1702.3 1680.5,1702 1681,1701.9 1682,1702 1682.5,1701.9 1684,1702.3 1684.5,1702.3 1685.5,1701.8 1686,1701.8 1686.5,1702 1688,1701.9 1689.5,1702 1690.5,1702.6 1691,1702.5 1692,1702.2 1695,1701.9 1697,1702.2 1698,1702.1 1699,1701.6 1699.5,1701.7 1700,1702.1 1700.5,1702.3 1702,1702.3 1703,1702.1 1706,1702.3 1706.5,1702.4 1707,1702.3 1708,1701.9 1710,1701.9 1711.5,1702 1712,1701.7 1712.5,1701.7 1714.5,1702.1 1715.5,1701.7 1717,1702 1718,1701.9 1719.5,1701.9 1720,1702 1720.5,1701.9 1721,1701.7 1722,1701.7 1723,1701.5 1723.5,1701.5 1724.5,1702 1725.5,1701.7 1726,1701.9 1726.5,1702.2 1727,1702.4 1727.5,1702.3 1728.5,1702.7 1729,1702.5 1730,1701.6 1730.5,1701.5 1731.5,1701.9 1732.5,1701.7 1733.5,1701.9 1734.5,1702.3 1735.5,1702.1 1736.5,1701.8 1738.5,1702 1739.5,1701.7 1740.5,1702 1741.5,1701.9 1743,1702.2 1743.5,1702.1 1744,1701.7 1744.5,1701.4 1745,1701.4 1747,1701.6 1748.5,1702.2 1751,1702 1752,1702.3 1752.5,1702.2 1753,1701.7 1753.5,1701.5 1755.5,1702.2 1756,1702.3 1757.5,1701.8 1758,1701.8 1759,1702.2 1761.5,1702.2 1762.5,1702.5 1763,1702.3 1763.5,1701.9 1764,1701.7 1765,1702 1767.5,1701.9 1768,1701.8 1770.5,1702.3 1772,1702.2 1773,1701.7 1774,1702 1776,1702.2 1777,1702.4 1778.5,1701.8 1780,1701.9 1781,1701.7 1782,1702.2 1783.5,1702.5 1784.5,1702 1785,1702.2 1785.5,1702.4 1786,1702.5 1787,1702 1788,1702.3 1789,1702.3 1790,1701.8 1790.5,1701.8 1791.5,1702.3 1792,1702.4 1794.5,1701.7 1795,1701.8 1795.5,1702.1 1796,1702.1 1796.5,1701.8 1797,1701.8 1797.5,1702.1 1798,1702.1 1800,1701.4 1800.5,1701.6 1801,1702.1 1801.5,1702.1 1802.5,1701.9 1804,1702 1805,1702.3 1805.5,1702 1806,1701.8 1807,1702.1 1809,1701.8 1810,1702.1 1811,1701.6 1811.5,1701.5 1812,1701.6 1813,1702.3 1813.5,1702.4 1814.5,1702.1 1816,1702.2 1817,1701.8 1818,1702.5 1818.5,1702.4 1819,1701.9 1819.5,1701.7 1820.5,1702.3 1822,1702.2 1823,1701.7 1823.5,1701.6 1826,1702.1 1827,1701.7 1827.5,1701.8 1828,1702.2 1828.5,1702.3 1829.5,1701.9 1830.5,1702.4 1832,1701.8 1835,1701.8 1836,1702.2 1837,1702.2 1838.5,1701.8 1839.5,1702 1840.5,1701.9 1841.5,1702.3 1842,1702.2 1842.5,1701.8 1843,1701.7 1845,1701.9 1846,1701.4 1846.5,1701.5 1847.5,1701.9 1848.5,1701.6 1850,1701.8 1851.5,1702.1 1852,1702 1852.5,1701.6 1853,1701.5 1855,1702.1 1856,1701.9 1857,1702.2 1858,1701.6 1858.5,1701.3 1859,1701.3 1859.5,1701.6 1860.5,1701.7 1861.5,1701.6 1862.5,1702 1863.5,1701.9 1864,1701.8 1865,1701.9 1866,1701.6 1867,1702.2 1867.5,1702 1868,1701.6 1868.5,1701.5 1869,1701.7 1870,1701.6 1870.5,1701.7 1871.5,1701.4 1874,1701.6 1875,1701.8 1876,1701.4 1876.5,1701.3 1877.5,1701.9 1879,1701.8 1880.5,1701.7 1882.5,1702 1883.5,1701.9 1884.5,1701.3 1886,1701.6 1888,1701.8 1889,1701.9 1890,1702.1 1891.5,1702 1892.5,1701.4 1893,1701.5 1893.5,1701.9 1895,1702.1 1896,1701.9 1897.5,1701.8 1899.5,1702 1900.5,1701.7 1901.5,1701.7 1902,1702 1902.5,1702 1904,1701.4 1905,1701.4 1906.5,1702 1907,1702 1907.5,1701.8 1908,1701.3 1908.5,1701.1 1910,1701.8 1911,1701.4 1912.5,1701.4 1913,1701.5 1913.5,1701.8 1914,1701.9 1915,1701.4 1915.5,1701.3 1916.5,1701.6 1918.5,1701.6 1920,1701.4 1921,1701.9 1921.5,1701.9 1922.5,1701.4 1924,1701.5 1925,1701.2 1926.5,1701.5 1928,1701.2 1928.5,1701.1 1929,1701.1 1929.5,1701.5 1930,1701.5 1931,1701.3 1932.5,1701.3 1934,1701.2 1934.5,1701 1935,1700.5 1935.5,1700.3 1936.5,1700.9 1937.5,1700.7 1938.5,1701 1939.5,1700.6 1941,1700 1942.5,1700.4 1943.5,1700.9 1946,1700.6 1947.5,1700.6 1948,1700.5 1949,1699.9 1951.5,1700 1953,1700.1 1954.5,1699.6 1955,1699.5 1957.5,1699.5 1958.5,1699.2 1959.5,1699.2 1961,1698.7 1962.5,1699 1964,1698.5 1966,1697.5 1966.5,1697.5 1967,1697.7 1967.5,1697.7 1969,1697.2 1970,1696 1971.5,1695.3 1972,1695.4 1972.5,1695.3 1974,1693.4 1975,1693 1976.5,1691.8 1977,1691.2 1979,1688.2 1979.5,1687 1980,1685.5 1980.5,1683.9 1981,1681.9 1981.5,1679.4 1982,1676.3 1982.5,1671.8 1983,1665.6 1983.5,1658.6 1984,1650.2 1984.5,1641 1985,1632.2 1985.5,1627.4 1986,1627 1986.5,1627.6 1987,1628.9 1987.5,1632.5 1988,1634.4 1988.5,1631.7 1989,1627.5 1989.5,1621.6 1990,1614 1990.5,1607.2 1991,1600.7 1991.5,1595.4 1992,1591.4 1992.5,1588.4 1993,1588.6 1993.5,1591.7 1994,1596.2 1994.5,1603.1 1995,1610.3 1995.5,1618.1 1996,1625.4 1996.5,1629.4 1997,1632 1997.5,1631.4 1998,1628.2 1998.5,1625.4 1999,1623.5 1999.5,1622.3 2000,1622.8 2000.5,1624.7 2001,1629.8 2001.5,1639.6 2002,1650.3 2002.5,1659.9 2003,1667.1 2003.5,1673.3 2004,1677.2 2004.5,1679.9 2005,1682.5 2005.5,1684.8 2006,1686.5 2006.5,1687.7 2007.5,1689.5 2009.5,1692.8 2010,1693.5 2011,1694.4 2011.5,1694.8 2012.5,1694.9 2013.5,1695.4 2015,1696.6 2016,1697.7 2017,1697.8 2018.5,1698.3 2019.5,1699 2021.5,1699.8 2022.5,1699.8 2023.5,1700.2 2024,1700.2 2024.5,1700.4 2025,1700.8 2025.5,1700.9 2026.5,1700.6 2027,1700.8 2028,1701.6 2028.5,1701.8 2029,1701.6 2029.5,1701.6 2030,1701.8 2030.5,1701.9 2031,1701.5 2031.5,1701.6 2032,1701.9 2032.5,1702.1 2033.5,1701.4 2034,1701.5 2035,1702 2036.5,1701.9 2037.5,1701.5 2039.5,1701.8 2040,1701.8 2040.5,1701.6 2041.5,1700.6 2043.5,1699.7 2044.5,1699.8 2045.5,1699.5 2046.5,1700 2048,1700.5 2050,1700.1 2051,1700.2 2052,1700.1 2054.5,1700.8 2056.5,1701 2057.5,1701.4 2059,1701.3 2060,1701 2060.5,1701.1 2061.5,1701.5 2063,1701.7 2064,1701.5 2065.5,1701.8 2066,1701.7 2067,1701.2 2067.5,1701.1 2068,1701.1 2068.5,1701.5 2069,1701.7 2070,1701 2071,1701.5 2072,1701.3 2074,1702.3 2075,1702.2 2076.5,1702.2 2077.5,1702 2078,1702 2078.5,1702 2079,1701.7 2079.5,1701.6 2080.5,1702.2 2081.5,1702.1 2082,1702 2084,1702.1 2085.5,1701.9 2087,1702.1 2088,1701.6 2088.5,1701.5 2090,1702 2092,1702 2093,1702.3 2094,1702.1 2094.5,1702.3 2095.5,1702.2 2096.5,1702.3 2098,1702 2099,1701.3 2099.5,1701.3 2100.5,1701.7 2101,1702.1 2101.5,1702.1 2103,1701.6 2104,1701.6 2105,1701.8 2107.5,1701.7 2108.5,1702.2 2110,1702 2110.5,1701.8 2111.5,1701.8 2112.5,1701.5 2114,1702 2115,1701.8 2116,1702 2117,1702.7 2117.5,1702.6 2118,1702.2 2118.5,1702 2119.5,1701.9 2120.5,1702 2121.5,1701.9 2122.5,1702.3 2123.5,1702.1 2125,1702.3 2126,1702.2 2127,1702.3 2128.5,1701.7 2130.5,1701.5 2131,1701.4 2132,1702 2133,1702 2133.5,1702.1 2134,1702 2135,1701.6 2136,1701.7 2137,1702.1 2139,1702 2140,1701.7 2141,1701.8 2142,1701.7 2143.5,1701.9 2144.5,1701.5 2145,1701.5 2146,1701.8 2148,1701.8 2149,1702.1 2150,1701.9 2151.5,1702.1 2152,1702 2153,1701.3 2153.5,1701.2 2154,1701.5 2154.5,1701.6 2155.5,1701 2156.5,1700.8 2157.5,1701.1 2158.5,1701 2159,1700.8 2159.5,1700.9 2160,1700.8 2160.5,1700.3 2162,1698.2 2162.5,1697.4 2163,1696.2 2163.5,1694.2 2164,1689.7 2164.5,1680.3 2165,1659.8 2165.5,1631.2 2165.6,1629.7 2166,1647.2 2166.5,1674.1 2167,1686.8 2167.5,1692.4 2168,1695.2 2168.5,1696.6 2169,1697.8 2169.5,1698.7 2170.5,1699.9 2171.5,1700.6 2173,1700.9 2174,1701.6 2174.5,1701.7 2175.5,1701.5 2176.5,1702.2 2177,1702.2 2178,1701.7 2178.5,1701.7 2179.5,1702.1 2181,1702.1 2183,1701.5 2186,1701.9 2187,1701.9 2187.5,1702.1 2188,1702.1 2189,1701.6 2191,1702.1 2192,1702.1 2193,1701.6 2193.5,1701.6 2195,1702.5 2196,1702 2197,1702 2198.5,1702.4 2199.5,1702 2201.5,1702.2 2202.5,1702.1 2203.5,1702.2 2204.5,1702 2205,1702.1 2206,1702.6 2206.5,1702.5 2207.5,1702 2209,1702.1 2210.5,1701.8 2213,1702.2 2213.5,1701.9"/></g>
<polyline fill="none" stroke="#000" stroke-width="2.15" stroke-linejoin="round" points="891.5,816.5 893.5,816.3 895.5,816.2 897.5,816 899.5,815.8 901.5,815.7 903.5,815.5 905.5,815.4 907.5,815.2 909.5,815.1 911.5,814.9 913.5,814.8 915.5,814.7 917.5,814.5 919.5,814.4 921.5,814.2 923.5,814 925.5,813.8 927.5,813.6 929.5,813.3 931.5,813.1 933.5,812.8 935.5,812.5 937.5,812.2 939.5,811.9 941.5,811.6 943.5,811.4 945.5,811.1 947.5,810.9 949.5,810.6 951.5,810.4 953.5,810.2 955.5,810.1 957.5,809.9 959.5,809.7 961.5,809.5 963.5,809.1 965.5,808.7 967.5,808.2 969.5,807.7 971.5,807.1 973.5,806.4 975.5,805.8 977.5,805.1 979.5,804.4 981.5,803.7 983.5,803 985.5,802.3 987.5,801.6 989.5,800.9 991.5,800.2 993.5,799.6 995.5,798.9 997.5,798.2 999.5,797.4 1001.5,796.6 1003.5,795.8 1005.5,794.9 1007.5,793.9 1009.5,792.9 1011.5,791.8 1013.5,790.7 1015.5,789.5 1017.5,788.2 1019.5,786.9 1021.5,785.5 1023.5,784.1 1025.5,782.6 1027.5,781.1 1029.5,779.5 1031.5,777.9 1033.5,776.2 1035.5,774.5 1037.5,772.7 1039.5,770.9 1041.5,768.9 1043.5,767 1045.5,764.9 1047.5,762.7 1049.5,760.5 1051.5,758.2 1053.5,755.7 1055.5,753.2 1057.5,750.6 1059.5,747.9 1061.5,745 1063.5,742.1 1065.5,739.1 1067.5,735.9 1069.5,732.7 1071.5,729.5 1073.5,726.1 1075.5,722.7 1077.5,719.3 1079.5,715.7 1081.5,712.1 1083.5,708.3 1085.5,704.4 1087.5,700.4 1089.5,696.3 1091.5,692 1093.5,687.7 1095.5,683.2 1097.5,678.8 1099.5,674.3 1101.5,669.8 1103.5,665.4 1105.5,661 1107.5,656.4 1109.5,651.7 1111.5,646.9 1113.5,641.9 1115.5,636.7 1117.5,631.3 1119.5,625.8 1121.5,620.3 1123.5,614.8 1125.5,609.2 1127.5,603.6 1129.5,597.9 1131.5,592.2 1133.5,586.5 1135.5,580.7 1137.5,574.8 1139.5,568.8 1141.5,562.7 1143.5,556.6 1145.5,550.3 1147.5,543.9 1149.5,537.4 1151.5,530.9 1153.5,524.3 1155.5,517.6 1157.5,510.8 1159.5,504 1161.5,497.2 1163.5,490.3 1165.5,483.3 1167.5,476.3 1169.5,469.2 1171.5,462 1173.5,454.9 1175.5,447.8 1177.5,440.7 1179.5,433.7 1181.5,426.7 1183.5,419.8 1185.5,412.9 1187.5,406 1189.5,399.1 1191.5,392.1 1193.5,385.1 1195.5,378 1197.5,370.8 1199.5,363.7 1201.5,356.5 1203.5,349.3 1205.5,342.1 1207.5,334.9 1209.5,327.7 1211.5,320.6 1213.5,313.4 1215.5,306.2 1217.5,299 1219.5,291.8 1221.5,284.5 1223.5,277.2 1225.5,270 1227.5,262.8 1229.5,255.6 1231.5,248.6 1233.5,241.7 1235.5,235 1237.5,228.3 1239.5,221.7 1241.5,215.1 1243.5,208.6 1245.5,202 1247.5,195.5 1249.5,189 1251.5,182.7 1253.5,176.4 1255.5,170.2 1257.5,164.2 1259.5,158.4 1261.5,152.7 1263.5,147.3 1265.5,142 1267.5,137 1269.5,132.3 1271.5,127.7 1273.5,123.3 1275.5,119.2 1277.5,115.2 1279.5,111.4 1281.5,107.8 1283.5,104.3 1285.5,101 1287.5,97.8 1289.5,94.8 1291.5,91.9 1293.5,89.2 1295.5,86.5 1297.5,84.1 1299.5,81.7 1301.5,79.4 1303.5,77.2 1305.5,75.2 1307.5,73.2 1309.5,71.3 1311.5,69.5 1313.5,67.8 1315.5,66.2 1317.5,64.7 1319.5,63.3 1321.5,62.1 1323.5,60.9 1325.5,60 1327.5,59.2 1329.5,58.5 1331.5,57.9 1333.5,57.5 1335.5,57.1 1337.5,56.9 1339.5,56.7 1341.5,56.7 1343.5,56.8 1345.5,57 1347.5,57.3 1349.5,57.8 1351.5,58.5 1353.5,59.4 1355.5,60.4 1357.5,61.5 1359.5,62.7 1361.5,64 1363.5,65.4 1365.5,66.7 1367.5,68.1 1369.5,69.5 1371.5,71 1373.5,72.6 1375.5,74.4 1377.5,76.4 1379.5,78.5 1381.5,80.7 1383.5,83.1 1385.5,85.5 1387.5,88.1 1389.5,90.7 1391.5,93.3 1393.5,96.1 1395.5,98.9 1397.5,101.9 1399.5,105 1401.5,108.1 1403.5,111.3 1405.5,114.5 1407.5,117.9 1409.5,121.3 1411.5,124.8 1413.5,128.4 1415.5,132.2 1417.5,136.2 1419.5,140.3 1421.5,144.5 1423.5,148.7 1425.5,153.1 1427.5,157.4 1429.5,161.6 1431.5,165.9 1433.5,170.1 1435.5,174.3 1437.5,178.4 1439.5,182.5 1441.5,186.6 1443.5,190.7 1445.5,194.8 1447.5,198.9 1449.5,203.2 1451.5,207.5 1453.5,211.9 1455.5,216.4 1457.5,220.8 1459.5,225.3 1461.5,229.8 1463.5,234.3 1465.5,238.9 1467.5,243.5 1469.5,248.2 1471.5,253.1 1473.5,258 1475.5,262.9 1477.5,267.9 1479.5,273 1481.5,278 1483.5,283.1 1485.5,288.1 1487.5,293.1 1489.5,298.1 1491.5,303 1493.5,307.9 1495.5,312.7 1497.5,317.5 1499.5,322.2 1501.5,326.9 1503.5,331.5 1505.5,336 1507.5,340.6 1509.5,345.1 1511.5,349.6 1513.5,354.2 1515.5,358.8 1517.5,363.5 1519.5,368.2 1521.5,372.9 1523.5,377.7 1525.5,382.4 1527.5,387.1 1529.5,391.8 1531.5,396.4 1533.5,400.9 1535.5,405.2 1537.5,409.4 1539.5,413.5 1541.5,417.4 1543.5,421.2 1545.5,424.9 1547.5,428.4 1549.5,432 1551.5,435.5 1553.5,439 1555.5,442.6 1557.5,446.3 1559.5,450 1561.5,453.9 1563.5,457.9 1565.5,461.9 1567.5,465.9 1569.5,469.9 1571.5,473.9 1573.5,477.7 1575.5,481.5 1577.5,485.2 1579.5,488.8 1581.5,492.4 1583.5,495.9 1585.5,499.5 1587.5,503 1589.5,506.5 1591.5,509.9 1593.5,513.4 1595.5,516.9 1597.5,520.4 1599.5,523.9 1601.5,527.3 1603.5,530.7 1605.5,534.1 1607.5,537.4 1609.5,540.6 1611.5,543.7 1613.5,546.8 1615.5,549.7 1617.5,552.5 1619.5,555.3 1621.5,557.9 1623.5,560.6 1625.5,563.2 1627.5,565.8 1629.5,568.5 1631.5,571.2 1633.5,573.8 1635.5,576.5 1637.5,579.2 1639.5,581.9 1641.5,584.7 1643.5,587.4 1645.5,590.1 1647.5,592.9 1649.5,595.6 1651.5,598.3 1653.5,600.9 1655.5,603.6 1657.5,606.2 1659.5,608.8 1661.5,611.3 1663.5,613.9 1665.5,616.4 1667.5,618.9 1669.5,621.3 1671.5,623.6 1673.5,625.8 1675.5,628 1677.5,630 1679.5,632 1681.5,634 1683.5,636 1685.5,638 1687.5,640 1689.5,642 1691.5,644 1693.5,645.9 1695.5,647.8 1697.5,649.7 1699.5,651.6 1701.5,653.5 1703.5,655.3 1705.5,657.1 1707.5,659 1709.5,660.7 1711.5,662.5 1713.5,664.2 1715.5,666 1717.5,667.7 1719.5,669.4 1721.5,671 1723.5,672.7 1725.5,674.3 1727.5,675.9 1729.5,677.5 1731.5,679.1 1733.5,680.7 1735.5,682.3 1737.5,683.9 1739.5,685.5 1741.5,687.1 1743.5,688.7 1745.5,690.3 1747.5,691.8 1749.5,693.3 1751.5,694.8 1753.5,696.3 1755.5,697.7 1757.5,699.1 1759.5,700.5 1761.5,701.8 1763.5,703.1 1765.5,704.4 1767.5,705.7 1769.5,706.9 1771.5,708.2 1773.5,709.3 1775.5,710.5 1777.5,711.6 1779.5,712.7 1781.5,713.8 1783.5,714.8 1785.5,715.8 1787.5,716.8 1789.5,717.8 1791.5,718.8 1793.5,719.8 1795.5,720.9 1797.5,722 1799.5,723.1 1801.5,724.2 1803.5,725.3 1805.5,726.3 1807.5,727.3 1809.5,728.3 1811.5,729.3 1813.5,730.2 1815.5,731.1 1817.5,732 1819.5,732.9 1821.5,733.8 1823.5,734.8 1825.5,735.8 1827.5,736.7 1829.5,737.8 1831.5,738.7 1833.5,739.7 1835.5,740.7 1837.5,741.7 1839.5,742.6 1841.5,743.5 1843.5,744.4 1845.5,745.3 1847.5,746.2 1849.5,747.1 1851.5,748 1853.5,748.9 1855.5,749.8 1857.5,750.7 1859.5,751.6 1861.5,752.5 1863.5,753.3 1865.5,754.1 1867.5,754.9 1869.5,755.7 1871.5,756.4 1873.5,757.1 1875.5,757.7 1877.5,758.4 1879.5,759 1881.5,759.5 1883.5,760.1 1885.5,760.6 1887.5,761.1 1889.5,761.6 1891.5,762.1 1893.5,762.6 1895.5,763.2 1897.5,763.8 1899.5,764.5 1901.5,765.1 1903.5,765.8 1905.5,766.5 1907.5,767.2 1909.5,767.9 1911.5,768.6 1913.5,769.3 1915.5,770.1 1917.5,770.9 1919.5,771.7 1921.5,772.5 1923.5,773.3 1925.5,774.1 1927.5,774.9 1929.5,775.6 1931.5,776.4 1933.5,777.1 1935.5,777.7 1937.5,778.4 1939.5,779 1941.5,779.5 1943.5,780 1945.5,780.4 1947.5,780.8 1949.5,781.1 1951.5,781.5 1953.5,781.9 1955.5,782.3 1957.5,782.7 1959.5,783.2 1961.5,783.7 1963.5,784.3 1965.5,784.9 1967.5,785.5 1969.5,786.1 1971.5,786.7 1973.5,787.3 1975.5,787.8 1977.5,788.4 1979.5,788.9 1981.5,789.3 1983.5,789.8 1985.5,790.2 1987.5,790.7 1989.5,791 1991.5,791.4 1993.5,791.8 1995.5,792.1 1997.5,792.5 1999.5,792.8 2001.5,793.1 2003.5,793.5 2005.5,793.9 2007.5,794.2 2009.5,794.6 2011.5,794.9 2013.5,795.3 2015.5,795.6 2017.5,796 2019.5,796.3 2021.5,796.7 2023.5,797 2025.5,797.3 2027.5,797.7 2029.5,798 2031.5,798.3 2033.5,798.7 2035.5,799 2037.5,799.4 2039.5,799.8 2041.5,800.1 2043.5,800.6 2045.5,801 2047.5,801.5 2049.5,802 2051.5,802.5 2053.5,803 2055.5,803.5 2057.5,803.9 2059.5,804.4 2061.5,804.8 2063.5,805.2 2065.5,805.6 2067.5,806 2069.5,806.4 2071.5,806.9 2073.5,807.5 2075.5,808.1 2077.5,808.7 2079.5,809.2 2081.5,809.8 2083.5,810.2 2085.5,810.6 2087.5,810.9 2089.5,811.2 2091.5,811.3 2093.5,811.5 2095.5,811.6 2097.5,811.8 2099.5,812 2101.5,812.2 2103.5,812.5 2105.5,812.8 2107.5,813.1 2109.5,813.5 2111.5,813.8 2113.5,814.1 2115.5,814.4 2117.5,814.7 2119.5,814.9 2121.5,815.1 2123.5,815.3 2125.5,815.5 2127.5,815.7 2129.5,816 2131.5,816.3 2133.5,816.7 2135.5,817.1 2137.5,817.5 2139.5,817.9 2141.5,818.3 2143.5,818.7 2145.5,819 2147.5,819.2 2149.5,819.5 2151.5,819.6 2153.5,819.8 2155.5,820 2157.5,820.2 2159.5,820.3 2161.5,820.5 2163.5,820.7 2165.5,820.8 2167.5,821 2169.5,821.2 2171.5,821.3 2173.5,821.5 2175.5,821.6 2177.5,821.8 2179.5,821.9 2181.5,822.1 2183.5,822.2 2185.5,822.3 2187.5,822.5"/>
<polyline fill="none" stroke="#000" stroke-width="2.8" stroke-dasharray="21.5 11" stroke-dashoffset="0" points="913.1,810.8 915.1,810.2 917.1,809.5 919.1,808.8 921.1,808 923.1,807.1 925.1,806.1 927.1,804.9 929.1,803.6 931.1,802.3 933.1,800.9 935.1,799.5 937.1,798.1 939.1,796.7 941.1,795.3 943.1,794 945.1,792.6 947.1,791.1 949.1,789.5 951.1,787.8 953.1,785.9 955.1,784 957.1,782 959.1,780 961.1,777.9 963.1,775.9 965.1,773.8 967.1,771.7 969.1,769.5 971.1,767.2 973.1,764.8 975.1,762.3 977.1,759.8 979.1,757.2 981.1,754.5 983.1,751.7 985.1,748.8 987.1,745.9 989.1,742.9 991.1,739.8 993.1,736.6 995.1,733.4 997.1,730.1 999.1,726.6 1001.1,723 1003.1,719.2 1005.1,715.4 1007.1,711.5 1009.1,707.5 1011.1,703.4 1013.1,699.3 1015.1,695.2 1017.1,690.9 1019.1,686.7 1021.1,682.3 1023.1,677.8 1025.1,673.1 1027.1,668.2 1029.1,663.1 1031.1,657.8 1033.1,652.4 1035.1,646.8 1037.1,641.1 1039.1,635.6 1041.1,630.1 1043.1,624.6 1045.1,619.1 1047.1,613.5 1049.1,607.8 1051.1,601.8 1053.1,595.8 1055.1,589.6 1057.1,583.4 1059.1,577.2 1061.1,571 1063.1,564.8 1065.1,558.6 1067.1,552.3 1069.1,545.9 1071.1,539.5 1073.1,533 1075.1,526.6 1077.1,520.2 1079.1,513.9 1081.1,507.5 1083.1,501 1085.1,494.3 1087.1,487.3 1089.1,480.1 1091.1,472.7 1093.1,465.1 1095.1,457.3 1097.1,449.6 1099.1,442 1101.1,434.5 1103.1,427.2 1105.1,420 1107.1,413 1109.1,406.1 1111.1,399.3 1113.1,392.5 1115.1,385.7 1117.1,378.9 1119.1,372.1 1121.1,365.3 1123.1,358.6 1125.1,351.9 1127.1,345.3 1129.1,338.7 1131.1,332.1 1133.1,325.5 1135.1,318.7 1137.1,311.6 1139.1,303.8 1141.1,295.5 1143.1,286.8 1145.1,278 1147.1,269.3 1149.1,261 1151.1,253.2 1153.1,246.1 1155.1,239.6 1157.1,233.7 1159.1,227.9 1161.1,222.1 1163.1,216.2 1165.1,210.1 1167.1,204 1169.1,197.9 1171.1,191.8 1173.1,185.9 1175.1,180.1 1177.1,174.5 1179.1,169 1181.1,163.7 1183.1,158.5 1185.1,153.4 1187.1,148.5 1189.1,143.7 1191.1,139 1193.1,134.3 1195.1,129.8 1197.1,125.4 1199.1,121 1201.1,116.8 1203.1,112.6 1205.1,108.6 1207.1,104.7 1209.1,100.9 1211.1,97.3 1213.1,93.9 1215.1,90.6 1217.1,87.6 1219.1,84.8 1221.1,82.2 1223.1,79.8 1225.1,77.6 1227.1,75.5 1229.1,73.5 1231.1,71.6 1233.1,69.8 1235.1,68.1 1237.1,66.6 1239.1,65.1 1241.1,63.7 1243.1,62.4 1245.1,61.3 1247.1,60.3 1249.1,59.5 1251.1,58.8 1253.1,58.3 1255.1,57.9 1257.1,57.7 1259.1,57.6 1261.1,57.6 1263.1,57.7 1265.1,57.9 1267.1,58.2 1269.1,58.6 1271.1,59.3 1273.1,60.1 1275.1,61 1277.1,62.1 1279.1,63.3 1281.1,64.6 1283.1,66 1285.1,67.5 1287.1,69 1289.1,70.6 1291.1,72.3 1293.1,74.1 1295.1,76 1297.1,78 1299.1,80.1 1301.1,82.4 1303.1,84.7 1305.1,87.2 1307.1,89.8 1309.1,92.5 1311.1,95.4 1313.1,98.3 1315.1,101.4 1317.1,104.6 1319.1,107.8 1321.1,111.1 1323.1,114.4 1325.1,117.7 1327.1,121 1329.1,124.3 1331.1,127.7 1333.1,131 1335.1,134.5 1337.1,137.9 1339.1,141.4 1341.1,145 1343.1,148.7 1345.1,152.6 1347.1,156.6 1349.1,160.8 1351.1,165.2 1353.1,169.7 1355.1,174.4 1357.1,179.2 1359.1,184 1361.1,188.8 1363.1,193.6 1365.1,198.4 1367.1,203.1 1369.1,207.7 1371.1,212.2 1373.1,216.7 1375.1,221 1377.1,225.3 1379.1,229.7 1381.1,234.2 1383.1,238.8 1385.1,243.6 1387.1,248.6 1389.1,253.7 1391.1,258.9 1393.1,263.9 1395.1,268.8 1397.1,273.6 1399.1,278.2 1401.1,282.6 1403.1,287 1405.1,291.4 1407.1,295.8 1409.1,300.3 1411.1,304.8 1413.1,309.3 1415.1,314 1417.1,318.6 1419.1,323.3 1421.1,328 1423.1,332.7 1425.1,337.4 1427.1,342.1 1429.1,346.8 1431.1,351.5 1433.1,356.1 1435.1,360.7 1437.1,365.2 1439.1,369.7 1441.1,374.2 1443.1,378.7 1445.1,383.2 1447.1,387.8 1449.1,392.4 1451.1,397 1453.1,401.7 1455.1,406.4 1457.1,411.1 1459.1,415.7 1461.1,420.3 1463.1,424.8 1465.1,429.2 1467.1,433.4 1469.1,437.5 1471.1,441.4 1473.1,445.2 1475.1,448.9 1477.1,452.7 1479.1,456.5 1481.1,460.4 1483.1,464.4 1485.1,468.4 1487.1,472.4 1489.1,476.4 1491.1,480.4 1493.1,484.4 1495.1,488.4 1497.1,492.3 1499.1,496.2 1501.1,500 1503.1,503.8 1505.1,507.5 1507.1,511.2 1509.1,514.8 1511.1,518.3 1513.1,521.8 1515.1,525.2 1517.1,528.5 1519.1,531.8 1521.1,535.1 1523.1,538.4 1525.1,541.6 1527.1,544.9 1529.1,548.1 1531.1,551.3 1533.1,554.5 1535.1,557.6 1537.1,560.7 1539.1,563.7 1541.1,566.8 1543.1,569.8 1545.1,572.7 1547.1,575.7 1549.1,578.6 1551.1,581.5 1553.1,584.3 1555.1,587.1 1557.1,589.9 1559.1,592.7 1561.1,595.4 1563.1,598.1 1565.1,600.8 1567.1,603.5 1569.1,606.1 1571.1,608.7 1573.1,611.2 1575.1,613.7 1577.1,616.2 1579.1,618.7 1581.1,621.1 1583.1,623.5 1585.1,625.8 1587.1,628.2 1589.1,630.5 1591.1,632.8 1593.1,635 1595.1,637.3 1597.1,639.5 1599.1,641.7 1601.1,643.9 1603.1,646 1605.1,648.1 1607.1,650.2 1609.1,652.3 1611.1,654.3 1613.1,656.4 1615.1,658.4 1617.1,660.4 1619.1,662.4 1621.1,664.4 1623.1,666.4 1625.1,668.4 1627.1,670.4 1629.1,672.4 1631.1,674.4 1633.1,676.2 1635.1,678 1637.1,679.8 1639.1,681.5 1641.1,683.1 1643.1,684.7 1645.1,686.2 1647.1,687.8 1649.1,689.3 1651.1,690.8 1653.1,692.3 1655.1,693.9 1657.1,695.4 1659.1,696.8 1661.1,698.3 1663.1,699.9 1665.1,701.4 1667.1,702.9 1669.1,704.4 1671.1,705.9 1673.1,707.4 1675.1,708.8 1677.1,710.3 1679.1,711.7 1681.1,713 1683.1,714.3 1685.1,715.7 1687.1,717 1689.1,718.2 1691.1,719.5 1693.1,720.9 1695.1,722.2 1697.1,723.5 1699.1,724.8 1701.1,726.1 1703.1,727.4 1705.1,728.6 1707.1,729.8 1709.1,731 1711.1,732.2 1713.1,733.3 1715.1,734.4 1717.1,735.4 1719.1,736.5 1721.1,737.5 1723.1,738.6 1725.1,739.6 1727.1,740.6 1729.1,741.6 1731.1,742.6 1733.1,743.6 1735.1,744.5 1737.1,745.5 1739.1,746.4 1741.1,747.3 1743.1,748.2 1745.1,749.1 1747.1,750 1749.1,750.9 1751.1,751.8 1753.1,752.7 1755.1,753.6 1757.1,754.5 1759.1,755.4 1761.1,756.2 1763.1,757.1 1765.1,757.8 1767.1,758.6 1769.1,759.3 1771.1,760 1773.1,760.7 1775.1,761.5 1777.1,762.2 1779.1,762.9 1781.1,763.7 1783.1,764.5 1785.1,765.3 1787.1,766 1789.1,766.8 1791.1,767.6 1793.1,768.4 1795.1,769.1 1797.1,769.8 1799.1,770.6 1801.1,771.3 1803.1,772 1805.1,772.7 1807.1,773.4 1809.1,774.1 1811.1,774.8 1813.1,775.5 1815.1,776.2 1817.1,776.9 1819.1,777.5 1821.1,778.2 1823.1,778.9 1825.1,779.5 1827.1,780.1 1829.1,780.8 1831.1,781.4 1833.1,781.9 1835.1,782.5 1837.1,783.1 1839.1,783.6 1841.1,784.1 1843.1,784.6 1845.1,785.1 1847.1,785.6 1849.1,786.1 1851.1,786.6 1853.1,787.1 1855.1,787.6 1857.1,788.1 1859.1,788.6 1861.1,789.1 1863.1,789.6 1865.1,790.1 1867.1,790.6 1869.1,791.1 1871.1,791.6 1873.1,792.1 1875.1,792.6 1877.1,793.1 1879.1,793.5 1881.1,794 1883.1,794.5 1885.1,795 1887.1,795.5 1889.1,796 1891.1,796.6 1893.1,797.1 1895.1,797.6 1897.1,798.1 1899.1,798.7 1901.1,799.2 1903.1,799.7 1905.1,800.2 1907.1,800.7 1909.1,801.2 1911.1,801.7 1913.1,802.2 1915.1,802.6 1917.1,803.1 1919.1,803.5 1921.1,804 1923.1,804.4 1925.1,804.8 1927.1,805.2 1929.1,805.6 1931.1,806 1933.1,806.4 1935.1,806.8 1937.1,807.2 1939.1,807.5 1941.1,807.9 1943.1,808.2 1945.1,808.6 1947.1,808.9 1949.1,809.2 1951.1,809.6 1953.1,809.9 1955.1,810.3 1957.1,810.6 1959.1,811 1961.1,811.3 1963.1,811.7 1965.1,812 1967.1,812.4 1969.1,812.7 1971.1,813.1 1973.1,813.4 1975.1,813.8 1977.1,814.1 1979.1,814.5 1981.1,814.8 1983.1,815.1 1985.1,815.5 1987.1,815.8 1989.1,816.1 1991.1,816.5 1993.1,816.8 1995.1,817.1 1997.1,817.5 1999.1,817.8 2001.1,818.1 2003.1,818.4 2005.1,818.7 2007.1,819.1 2009.1,819.4 2011.1,819.7 2013.1,820 2015.1,820.3 2017.1,820.6 2019.1,820.9 2021.1,821.2 2023.1,821.5 2025.1,821.8 2027.1,822 2029.1,822.3 2031.1,822.6 2033.1,822.9 2035.1,823.2 2037.1,823.5 2039.1,823.7 2041.1,824 2043.1,824.3 2045.1,824.5 2047.1,824.8 2049.1,825.1 2051.1,825.3 2053.1,825.6 2055.1,825.9 2057.1,826.1 2059.1,826.4 2061.1,826.6 2063.1,826.9 2065.1,827.1 2067.1,827.3 2069.1,827.6 2071.1,827.8 2073.1,828 2075.1,828.2 2077.1,828.4 2079.1,828.6 2081.1,828.8 2083.1,829 2085.1,829.2 2087.1,829.4 2089.1,829.6 2091.1,829.8 2093.1,830 2095.1,830.2 2097.1,830.4 2099.1,830.6 2101.1,830.8 2103.1,830.9 2105.1,831.1 2107.1,831.3 2109.1,831.5 2111.1,831.7 2113.1,831.9 2115.1,832.1 2117.1,832.3 2119.1,832.5 2121.1,832.7 2123.1,832.9 2125.1,833.2 2127.1,833.4 2129.1,833.6 2131.1,833.8 2133.1,834 2135.1,834.2 2137.1,834.4 2139.1,834.7 2141.1,834.9 2143.1,835.1 2145.1,835.3 2147.1,835.6 2149.1,835.8 2151.1,836 2153.1,836.2 2155.1,836.5 2157.1,836.7 2159.1,836.9 2161.1,837.1 2163.1,837.3 2165.1,837.5 2167.1,837.7 2169.1,837.8 2171.1,838 2173.1,838.2 2175.1,838.4 2177.1,838.6 2179.1,838.7 2181.1,838.9 2183.1,839.1 2185.1,839.3 2187.1,839.4"/>
<polyline fill="none" stroke="#000" stroke-width="1.9" stroke-dasharray="1.8 2.8" points="892.7,737.3 894.7,736.9 896.7,736.4 898.7,736 900.7,735.5 902.7,735.1 904.7,734.6 906.7,734.2 908.7,733.7 910.7,733.3 912.7,732.9 914.7,732.4 916.7,732 918.7,731.5 920.7,731.1 922.7,730.6 924.7,730.1 926.7,729.5 928.7,728.9 930.7,728.4 932.7,727.7 934.7,727.1 936.7,726.5 938.7,725.8 940.7,725.1 942.7,724.4 944.7,723.6 946.7,722.8 948.7,722 950.7,721.2 952.7,720.3 954.7,719.4 956.7,718.5 958.7,717.5 960.7,716.5 962.7,715.5 964.7,714.4 966.7,713.3 968.7,712.1 970.7,710.9 972.7,709.7 974.7,708.4 976.7,707 978.7,705.6 980.7,704.1 982.7,702.5 984.7,700.9 986.7,699.2 988.7,697.4 990.7,695.5 992.7,693.6 994.7,691.6 996.7,689.5 998.7,687.3 1000.7,685.1 1002.7,682.8 1004.7,680.4 1006.7,678 1008.7,675.5 1010.7,672.9 1012.7,670.2 1014.7,667.4 1016.7,664.6 1018.7,661.7 1020.7,658.8 1022.7,655.8 1024.7,652.8 1026.7,649.8 1028.7,646.8 1030.7,643.8 1032.7,640.7 1034.7,637.5 1036.7,634 1038.7,630.5 1040.7,626.8 1042.7,623 1044.7,619.1 1046.7,615.2 1048.7,611.3 1050.7,607.5 1052.7,603.7 1054.7,599.9 1056.7,596.1 1058.7,592.2 1060.7,588.3 1062.7,584.3 1064.7,580.3 1066.7,576.3 1068.7,572.2 1070.7,568 1072.7,563.7 1074.7,559.3 1076.7,554.6 1078.7,549.7 1080.7,544.7 1082.7,539.4 1084.7,533.9 1086.7,528.4 1088.7,522.7 1090.7,517 1092.7,511.4 1094.7,505.7 1096.7,500 1098.7,494.3 1100.7,488.7 1102.7,483 1104.7,477.3 1106.7,471.5 1108.7,465.6 1110.7,459.7 1112.7,453.6 1114.7,447.4 1116.7,441.2 1118.7,434.9 1120.7,428.7 1122.7,422.6 1124.7,416.5 1126.7,410.4 1128.7,404.2 1130.7,397.8 1132.7,391.3 1134.7,384.7 1136.7,377.8 1138.7,371 1140.7,364.1 1142.7,357.4 1144.7,350.8 1146.7,344.4 1148.7,338.2 1150.7,332 1152.7,326 1154.7,320.2 1156.7,314.5 1158.7,309 1160.7,303.6 1162.7,298.3 1164.7,293.1 1166.7,288 1168.7,283 1170.7,278 1172.7,273 1174.7,267.9 1176.7,262.7 1178.7,257.4 1180.7,252 1182.7,246.4 1184.7,240.9 1186.7,235.2 1188.7,229.7 1190.7,224.2 1192.7,218.8 1194.7,213.5 1196.7,208.2 1198.7,202.9 1200.7,197.5 1202.7,192.1 1204.7,186.7 1206.7,181.2 1208.7,175.8 1210.7,170.5 1212.7,165.3 1214.7,160.2 1216.7,155.3 1218.7,150.6 1220.7,146 1222.7,141.6 1224.7,137.3 1226.7,133.2 1228.7,129.3 1230.7,125.5 1232.7,121.7 1234.7,118 1236.7,114.4 1238.7,110.8 1240.7,107.2 1242.7,103.7 1244.7,100.3 1246.7,97 1248.7,93.8 1250.7,90.8 1252.7,87.9 1254.7,85.2 1256.7,82.7 1258.7,80.3 1260.7,78.1 1262.7,76.1 1264.7,74.2 1266.7,72.5 1268.7,70.8 1270.7,69.2 1272.7,67.8 1274.7,66.4 1276.7,65.1 1278.7,63.9 1280.7,62.9 1282.7,61.9 1284.7,61 1286.7,60.3 1288.7,59.6 1290.7,59 1292.7,58.5 1294.7,58 1296.7,57.6 1298.7,57.2 1300.7,57 1302.7,56.8 1304.7,56.6 1306.7,56.6 1308.7,56.7 1310.7,56.8 1312.7,57.1 1314.7,57.5 1316.7,58 1318.7,58.6 1320.7,59.3 1322.7,60.2 1324.7,61.2 1326.7,62.2 1328.7,63.4 1330.7,64.6 1332.7,65.9 1334.7,67.2 1336.7,68.7 1338.7,70.3 1340.7,72 1342.7,73.8 1344.7,75.7 1346.7,77.6 1348.7,79.7 1350.7,81.7 1352.7,83.8 1354.7,86 1356.7,88.2 1358.7,90.5 1360.7,92.8 1362.7,95.2 1364.7,97.6 1366.7,100.1 1368.7,102.7 1370.7,105.4 1372.7,108.2 1374.7,111 1376.7,113.9 1378.7,116.9 1380.7,120 1382.7,123.2 1384.7,126.5 1386.7,129.8 1388.7,133.2 1390.7,136.7 1392.7,140.1 1394.7,143.5 1396.7,147 1398.7,150.3 1400.7,153.7 1402.7,157.1 1404.7,160.5 1406.7,163.9 1408.7,167.4 1410.7,170.9 1412.7,174.4 1414.7,178 1416.7,181.5 1418.7,185.2 1420.7,188.8 1422.7,192.4 1424.7,196 1426.7,199.6 1428.7,203.1 1430.7,206.4 1432.7,209.7 1434.7,213.1 1436.7,216.6 1438.7,220.2 1440.7,224 1442.7,228 1444.7,232.1 1446.7,236.4 1448.7,240.7 1450.7,244.9 1452.7,249 1454.7,253 1456.7,256.9 1458.7,260.8 1460.7,264.7 1462.7,268.5 1464.7,272.3 1466.7,276.1 1468.7,279.9 1470.7,283.7 1472.7,287.6 1474.7,291.5 1476.7,295.5 1478.7,299.5 1480.7,303.4 1482.7,307.3 1484.7,311.1 1486.7,314.7 1488.7,318.3 1490.7,321.8 1492.7,325.3 1494.7,328.8 1496.7,332.2 1498.7,335.7 1500.7,339.2 1502.7,342.7 1504.7,346.3 1506.7,350 1508.7,353.8 1510.7,357.7 1512.7,361.6 1514.7,365.6 1516.7,369.6 1518.7,373.6 1520.7,377.7 1522.7,381.7 1524.7,385.7 1526.7,389.7 1528.7,393.5 1530.7,397.3 1532.7,400.9 1534.7,404.5 1536.7,408 1538.7,411.6 1540.7,415.1 1542.7,418.8 1544.7,422.4 1546.7,426.2 1548.7,429.9 1550.7,433.6 1552.7,437.3 1554.7,440.8 1556.7,444.2 1558.7,447.5 1560.7,450.5 1562.7,453.4 1564.7,456.2 1566.7,459 1568.7,461.7 1570.7,464.6 1572.7,467.5 1574.7,470.6 1576.7,473.8 1578.7,477 1580.7,480.2 1582.7,483.4 1584.7,486.6 1586.7,489.7 1588.7,492.7 1590.7,495.7 1592.7,498.7 1594.7,501.6 1596.7,504.5 1598.7,507.4 1600.7,510.3 1602.7,513.1 1604.7,515.9 1606.7,518.6 1608.7,521.3 1610.7,524 1612.7,526.6 1614.7,529.2 1616.7,531.7 1618.7,534.3 1620.7,536.8 1622.7,539.3 1624.7,541.7 1626.7,544.1 1628.7,546.5 1630.7,548.8 1632.7,551.1 1634.7,553.4 1636.7,555.6 1638.7,557.8 1640.7,560 1642.7,562.1 1644.7,564.2 1646.7,566.2 1648.7,568.2 1650.7,570.3 1652.7,572.2 1654.7,574.2 1656.7,576.2 1658.7,578.2 1660.7,580.2 1662.7,582.2 1664.7,584.2 1666.7,586.2 1668.7,588.1 1670.7,590 1672.7,591.9 1674.7,593.7 1676.7,595.5 1678.7,597.3 1680.7,599.1 1682.7,600.9 1684.7,602.6 1686.7,604.4 1688.7,606.2 1690.7,608 1692.7,609.8 1694.7,611.7 1696.7,613.6 1698.7,615.5 1700.7,617.4 1702.7,619.3 1704.7,621.3 1706.7,623.2 1708.7,625.1 1710.7,626.9 1712.7,628.8 1714.7,630.6 1716.7,632.4 1718.7,634.1 1720.7,635.9 1722.7,637.7 1724.7,639.4 1726.7,641.2 1728.7,642.9 1730.7,644.6 1732.7,646.3 1734.7,648 1736.7,649.7 1738.7,651.3 1740.7,652.9 1742.7,654.5 1744.7,656.1 1746.7,657.7 1748.7,659.3 1750.7,660.9 1752.7,662.4 1754.7,664 1756.7,665.6 1758.7,667.1 1760.7,668.6 1762.7,670.1 1764.7,671.5 1766.7,672.9 1768.7,674.2 1770.7,675.5 1772.7,676.8 1774.7,678.1 1776.7,679.4 1778.7,680.7 1780.7,682 1782.7,683.4 1784.7,684.7 1786.7,686 1788.7,687.3 1790.7,688.5 1792.7,689.8 1794.7,690.9 1796.7,692.1 1798.7,693.2 1800.7,694.3 1802.7,695.4 1804.7,696.5 1806.7,697.5 1808.7,698.5 1810.7,699.6 1812.7,700.6 1814.7,701.6 1816.7,702.6 1818.7,703.6 1820.7,704.6 1822.7,705.6 1824.7,706.6 1826.7,707.6 1828.7,708.6 1830.7,709.6 1832.7,710.6 1834.7,711.6 1836.7,712.6 1838.7,713.6 1840.7,714.6 1842.7,715.6 1844.7,716.6 1846.7,717.6 1848.7,718.5 1850.7,719.5 1852.7,720.5 1854.7,721.4 1856.7,722.3 1858.7,723.2 1860.7,724.1 1862.7,725 1864.7,725.8 1866.7,726.7 1868.7,727.5 1870.7,728.3 1872.7,729.1 1874.7,729.9 1876.7,730.6 1878.7,731.3 1880.7,732 1882.7,732.7 1884.7,733.4 1886.7,734 1888.7,734.6 1890.7,735.3 1892.7,735.9 1894.7,736.5 1896.7,737.2 1898.7,737.8 1900.7,738.4 1902.7,739.1 1904.7,739.8 1906.7,740.5 1908.7,741.2 1910.7,741.9 1912.7,742.6 1914.7,743.3 1916.7,744.1 1918.7,744.8 1920.7,745.6 1922.7,746.4 1924.7,747.2 1926.7,748 1928.7,748.8 1930.7,749.6 1932.7,750.4 1934.7,751.2 1936.7,752 1938.7,752.8 1940.7,753.5 1942.7,754.3 1944.7,755 1946.7,755.6 1948.7,756.3 1950.7,756.9 1952.7,757.5 1954.7,758.1 1956.7,758.7 1958.7,759.3 1960.7,759.8 1962.7,760.4 1964.7,761 1966.7,761.5 1968.7,762.1 1970.7,762.6 1972.7,763.1 1974.7,763.7 1976.7,764.2 1978.7,764.7 1980.7,765.2 1982.7,765.7 1984.7,766.3 1986.7,766.8 1988.7,767.3 1990.7,767.8 1992.7,768.3 1994.7,768.9 1996.7,769.4 1998.7,769.9 2000.7,770.4 2002.7,770.9 2004.7,771.4 2006.7,771.9 2008.7,772.3 2010.7,772.8 2012.7,773.2 2014.7,773.7 2016.7,774.1 2018.7,774.5 2020.7,775 2022.7,775.4 2024.7,775.8 2026.7,776.2 2028.7,776.6 2030.7,777 2032.7,777.4 2034.7,777.8 2036.7,778.2 2038.7,778.6 2040.7,779 2042.7,779.4 2044.7,779.8 2046.7,780.2 2048.7,780.6 2050.7,781 2052.7,781.4 2054.7,781.8 2056.7,782.2 2058.7,782.6 2060.7,783 2062.7,783.4 2064.7,783.9 2066.7,784.3 2068.7,784.7 2070.7,785.1 2072.7,785.5 2074.7,785.9 2076.7,786.3 2078.7,786.7 2080.7,787.1 2082.7,787.5 2084.7,787.9 2086.7,788.3 2088.7,788.7 2090.7,789.1 2092.7,789.5 2094.7,789.9 2096.7,790.3 2098.7,790.7 2100.7,791.1 2102.7,791.5 2104.7,791.9 2106.7,792.3 2108.7,792.7 2110.7,793.1 2112.7,793.5 2114.7,793.8 2116.7,794.2 2118.7,794.6 2120.7,795 2122.7,795.4 2124.7,795.7 2126.7,796.1 2128.7,796.5 2130.7,796.8 2132.7,797.2 2134.7,797.6 2136.7,797.9 2138.7,798.3 2140.7,798.6 2142.7,798.9 2144.7,799.3 2146.7,799.6 2148.7,799.9 2150.7,800.3 2152.7,800.6 2154.7,800.9 2156.7,801.2 2158.7,801.5 2160.7,801.8 2162.7,802.1 2164.7,802.4 2166.7,802.7 2168.7,803 2170.7,803.3 2172.7,803.5 2174.7,803.8 2176.7,804.1 2178.7,804.4 2180.7,804.6 2182.7,804.9 2184.7,805.1"/>
<path d="M887.9 808.1l6.2 6.2m0 -6.2l-6.2 6.2M902.3 806.5l6.2 6.2m0 -6.2l-6.2 6.2M916.7 804.5l6.2 6.2m0 -6.2l-6.2 6.2M931.1 802.2l6.2 6.2m0 -6.2l-6.2 6.2M945.5 799l6.2 6.2m0 -6.2l-6.2 6.2M959.9 795.1l6.2 6.2m0 -6.2l-6.2 6.2M974.3 790.7l6.2 6.2m0 -6.2l-6.2 6.2M988.9 784.3l6.2 6.2m0 -6.2l-6.2 6.2M1003.4 776l6.2 6.2m0 -6.2l-6.2 6.2M1018 765.6l6.2 6.2m0 -6.2l-6.2 6.2M1032.6 752.9l6.2 6.2m0 -6.2l-6.2 6.2M1047.1 736.4l6.2 6.2m0 -6.2l-6.2 6.2M1061.7 715.8l6.2 6.2m0 -6.2l-6.2 6.2M1076.2 691.7l6.2 6.2m0 -6.2l-6.2 6.2M1090.8 664.6l6.2 6.2m0 -6.2l-6.2 6.2M1105.2 633.4l6.2 6.2m0 -6.2l-6.2 6.2M1119.6 598.9l6.2 6.2m0 -6.2l-6.2 6.2M1134 561.5l6.2 6.2m0 -6.2l-6.2 6.2M1148.4 520.5l6.2 6.2m0 -6.2l-6.2 6.2M1162.8 476.5l6.2 6.2m0 -6.2l-6.2 6.2M1177.2 431.5l6.2 6.2m0 -6.2l-6.2 6.2M1191.6 386.8l6.2 6.2m0 -6.2l-6.2 6.2M1206 340.4l6.2 6.2m0 -6.2l-6.2 6.2M1220.4 295.8l6.2 6.2m0 -6.2l-6.2 6.2M1234.8 253l6.2 6.2m0 -6.2l-6.2 6.2M1249.2 213.7l6.2 6.2m0 -6.2l-6.2 6.2M1263.6 178.1l6.2 6.2m0 -6.2l-6.2 6.2M1277.7 145.3l6.2 6.2m0 -6.2l-6.2 6.2M1291.9 117.9l6.2 6.2m0 -6.2l-6.2 6.2M1306 94.6l6.2 6.2m0 -6.2l-6.2 6.2M1320.2 76.9l6.2 6.2m0 -6.2l-6.2 6.2M1334.3 63.9l6.2 6.2m0 -6.2l-6.2 6.2M1348.7 56.1l6.2 6.2m0 -6.2l-6.2 6.2M1363.1 53.8l6.2 6.2m0 -6.2l-6.2 6.2M1377.5 55.3l6.2 6.2m0 -6.2l-6.2 6.2M1391.9 61.9l6.2 6.2m0 -6.2l-6.2 6.2M1406.3 73l6.2 6.2m0 -6.2l-6.2 6.2M1420.7 87.4l6.2 6.2m0 -6.2l-6.2 6.2M1435.1 104.4l6.2 6.2m0 -6.2l-6.2 6.2M1449.5 123.7l6.2 6.2m0 -6.2l-6.2 6.2M1463.9 144.6l6.2 6.2m0 -6.2l-6.2 6.2M1478.3 168.8l6.2 6.2m0 -6.2l-6.2 6.2M1492.7 193.4l6.2 6.2m0 -6.2l-6.2 6.2M1507.1 216.1l6.2 6.2m0 -6.2l-6.2 6.2M1521.5 241.1l6.2 6.2m0 -6.2l-6.2 6.2M1535.9 267l6.2 6.2m0 -6.2l-6.2 6.2M1550.3 292.2l6.2 6.2m0 -6.2l-6.2 6.2M1564.7 317.6l6.2 6.2m0 -6.2l-6.2 6.2M1579.1 340.2l6.2 6.2m0 -6.2l-6.2 6.2M1593.5 364l6.2 6.2m0 -6.2l-6.2 6.2M1607.9 386l6.2 6.2m0 -6.2l-6.2 6.2M1622.3 408.3l6.2 6.2m0 -6.2l-6.2 6.2M1636.7 430l6.2 6.2m0 -6.2l-6.2 6.2M1651.1 449.5l6.2 6.2m0 -6.2l-6.2 6.2M1665.5 468.4l6.2 6.2m0 -6.2l-6.2 6.2M1679.9 486l6.2 6.2m0 -6.2l-6.2 6.2M1694.3 502.5l6.2 6.2m0 -6.2l-6.2 6.2M1708.7 518.8l6.2 6.2m0 -6.2l-6.2 6.2M1723.1 533.2l6.2 6.2m0 -6.2l-6.2 6.2M1737.5 547.6l6.2 6.2m0 -6.2l-6.2 6.2M1751.9 559.7l6.2 6.2m0 -6.2l-6.2 6.2M1766.3 571.9l6.2 6.2m0 -6.2l-6.2 6.2M1780.7 583.6l6.2 6.2m0 -6.2l-6.2 6.2M1795.1 595l6.2 6.2m0 -6.2l-6.2 6.2M1809.5 604.8l6.2 6.2m0 -6.2l-6.2 6.2M1823.9 614.5l6.2 6.2m0 -6.2l-6.2 6.2M1838.3 624.1l6.2 6.2m0 -6.2l-6.2 6.2M1852.7 632.5l6.2 6.2m0 -6.2l-6.2 6.2M1867.1 640.7l6.2 6.2m0 -6.2l-6.2 6.2M1881.5 649.3l6.2 6.2m0 -6.2l-6.2 6.2M1895.9 656.2l6.2 6.2m0 -6.2l-6.2 6.2M1910.3 663.4l6.2 6.2m0 -6.2l-6.2 6.2M1924.7 669.7l6.2 6.2m0 -6.2l-6.2 6.2M1939.1 676.2l6.2 6.2m0 -6.2l-6.2 6.2M1953.5 682l6.2 6.2m0 -6.2l-6.2 6.2M1967.9 688l6.2 6.2m0 -6.2l-6.2 6.2M1982.3 693.8l6.2 6.2m0 -6.2l-6.2 6.2M1996.7 699.6l6.2 6.2m0 -6.2l-6.2 6.2M2011.1 704.6l6.2 6.2m0 -6.2l-6.2 6.2M2025.5 709.9l6.2 6.2m0 -6.2l-6.2 6.2M2039.9 714.4l6.2 6.2m0 -6.2l-6.2 6.2M2054.3 719.3l6.2 6.2m0 -6.2l-6.2 6.2M2068.7 723l6.2 6.2m0 -6.2l-6.2 6.2M2083.1 727.6l6.2 6.2m0 -6.2l-6.2 6.2M2097.5 732l6.2 6.2m0 -6.2l-6.2 6.2M2111.9 736l6.2 6.2m0 -6.2l-6.2 6.2M2126.3 739.4l6.2 6.2m0 -6.2l-6.2 6.2M2140.7 743.2l6.2 6.2m0 -6.2l-6.2 6.2M2155.1 747.1l6.2 6.2m0 -6.2l-6.2 6.2M2169.5 750l6.2 6.2m0 -6.2l-6.2 6.2M2183.9 752.8l6.2 6.2m0 -6.2l-6.2 6.2" fill="none" stroke="#000" stroke-width="1.45"/>
<path d="M1770.5 136.1 H1853.2" stroke="#000" stroke-width="3" stroke-linecap="round" fill="none"/>
<path d="M1770 214.7 H1855" stroke="#000" stroke-width="3" stroke-dasharray="22 9.6" fill="none"/>
<path d="M1769.6 398.3 H1854.4" stroke="#000" stroke-width="2.2" stroke-dasharray="2.4 2.75" fill="none"/>
<path d="M1802.6 297.9 l18.8 18.8 m0 -18.8 l-18.8 18.8" stroke="#000" stroke-width="1.9" fill="none"/>
<text transform="translate(1869.27 155.60) scale(0.9480 1)" font-size="65" font-family="Liberation Sans, sans-serif" fill="#000" stroke="#000" stroke-width="0.3" stroke-linejoin="round">P3HT</text>
<text transform="translate(1868.37 239.90) scale(0.9480 1)" font-size="65" font-family="Liberation Sans, sans-serif" fill="#000" stroke="#000" stroke-width="0.3" stroke-linejoin="round">BCP1</text>
<text transform="translate(1868.37 333.70) scale(0.9480 1)" font-size="65" font-family="Liberation Sans, sans-serif" fill="#000" stroke="#000" stroke-width="0.3" stroke-linejoin="round">BCP2</text>
<text transform="translate(1868.37 418.00) scale(0.9480 1)" font-size="65" font-family="Liberation Sans, sans-serif" fill="#000" stroke="#000" stroke-width="0.3" stroke-linejoin="round">BCP3</text>
<text transform="translate(1345.98 838.60) scale(0.9530 1)" font-size="64.5" font-family="Liberation Sans, sans-serif" fill="#000" stroke="#000" stroke-width="0.3" stroke-linejoin="round">Retention Time</text>
<text transform="translate(957.90 552.69) rotate(-90) scale(0.9520 1)" font-size="64.2" font-family="Liberation Sans, sans-serif" fill="#000" stroke="#000" stroke-width="0.3" stroke-linejoin="round">RI Intensity</text>
<text transform="translate(34.02 918.00) scale(0.9480 1)" font-size="65" font-family="Liberation Sans, sans-serif" fill="#000" stroke="#000" stroke-width="0.3" stroke-linejoin="round">BCP3</text>
<text transform="translate(34.02 1169.00) scale(0.9480 1)" font-size="65" font-family="Liberation Sans, sans-serif" fill="#000" stroke="#000" stroke-width="0.3" stroke-linejoin="round">BCP2</text>
<text transform="translate(34.02 1416.90) scale(0.9480 1)" font-size="65" font-family="Liberation Sans, sans-serif" fill="#000" stroke="#000" stroke-width="0.3" stroke-linejoin="round">BCP1</text>
<text transform="translate(34.67 1670.60) scale(0.9480 1)" font-size="65" font-family="Liberation Sans, sans-serif" fill="#000" stroke="#000" stroke-width="0.3" stroke-linejoin="round">P3HT</text>
<text transform="translate(626.60 640.60) scale(0.9600 1)" font-size="64.5" font-family="Liberation Sans, sans-serif" fill="#000" stroke="#000" stroke-width="0.3" stroke-linejoin="round">CDCl<tspan x="152.99" dy="21" font-size="37">3</tspan></text>
<text transform="translate(355.33 795.10) scale(0.9560 1)" font-size="65" font-family="Liberation Sans, sans-serif" fill="#000" stroke="#000" stroke-width="0.3" stroke-linejoin="round">Py-<tspan x="99.80" font-style="italic">H</tspan><tspan x="144.71">’</tspan><tspan x="157.02">s</tspan></text>
<text transform="translate(1674.91 1061.00) scale(1.0000 1)" font-size="62.3" font-family="Liberation Sans, sans-serif" fill="#000" stroke="#000" stroke-width="0.3" stroke-linejoin="round">-C<tspan x="68.72" font-style="italic">H</tspan><tspan x="109.67" dy="20.9" font-size="36.5">2</tspan><tspan x="129.39" dy="-20.9">O-</tspan></text>
<line x1="397.3" y1="812.6" x2="245.4" y2="895" stroke="#000" stroke-width="1.5"/>
<line x1="417.8" y1="839.3" x2="371.4" y2="917" stroke="#000" stroke-width="1.5"/>
<line x1="473" y1="830.5" x2="495.5" y2="914.9" stroke="#000" stroke-width="1.5"/>
<line x1="487.5" y1="812.3" x2="530" y2="920.2" stroke="#000" stroke-width="1.5"/>
<line x1="1573.6" y1="965" x2="1655.9" y2="1035.9" stroke="#000" stroke-width="1.5"/>
<line x1="1758.1" y1="1092.6" x2="1758.1" y2="1385.3" stroke="#000" stroke-width="1.7"/>
<line x1="1769.5" y1="1095.3" x2="1769.5" y2="1674.2" stroke="#484848" stroke-width="2"/>
<line x1="26.2" y1="1738.5" x2="2213.6" y2="1738.5" stroke="#000" stroke-width="1.7"/>
<line x1="26.9" y1="1738.5" x2="26.9" y2="1771.7" stroke="#000" stroke-width="1.4"/>
<path d="M81.6 1736.9V1755.9M136.2 1736.9V1755.9M190.9 1736.9V1755.9M245.5 1736.9V1755.9M300.2 1736.9V1772.5M354.8 1736.9V1755.9M409.5 1736.9V1755.9M464.1 1736.9V1755.9M518.8 1736.9V1755.9M573.5 1736.9V1772.5M628.1 1736.9V1755.9M682.8 1736.9V1755.9M737.4 1736.9V1755.9M792.1 1736.9V1755.9M846.7 1736.9V1772.5M901.4 1736.9V1755.9M956.1 1736.9V1755.9M1010.7 1736.9V1755.9M1065.4 1736.9V1755.9M1120 1736.9V1772.5M1174.7 1736.9V1755.9M1229.3 1736.9V1755.9M1284 1736.9V1755.9M1338.6 1736.9V1755.9M1393.3 1736.9V1772.5M1448 1736.9V1755.9M1502.6 1736.9V1755.9M1557.3 1736.9V1755.9M1611.9 1736.9V1755.9M1666.6 1736.9V1772.5M1721.2 1736.9V1755.9M1775.9 1736.9V1755.9M1830.5 1736.9V1755.9M1885.2 1736.9V1755.9M1939.9 1736.9V1772.5M1994.5 1736.9V1755.9M2049.2 1736.9V1755.9M2103.8 1736.9V1755.9M2158.5 1736.9V1755.9" stroke="#000" stroke-width="2.8" fill="none"/>
<text transform="translate(26.60 1817.00) scale(1.0600 1)" font-size="50.3" font-family="Liberation Sans, sans-serif" fill="#000">10</text>
<text transform="translate(300.08 1817.00) scale(1.0600 1)" font-size="50.3" font-family="Liberation Sans, sans-serif" fill="#000" text-anchor="middle">9</text>
<text transform="translate(573.36 1817.00) scale(1.0600 1)" font-size="50.3" font-family="Liberation Sans, sans-serif" fill="#000" text-anchor="middle">8</text>
<text transform="translate(846.64 1817.00) scale(1.0600 1)" font-size="50.3" font-family="Liberation Sans, sans-serif" fill="#000" text-anchor="middle">7</text>
<text transform="translate(1119.92 1817.00) scale(1.0600 1)" font-size="50.3" font-family="Liberation Sans, sans-serif" fill="#000" text-anchor="middle">6</text>
<text transform="translate(1393.20 1817.00) scale(1.0600 1)" font-size="50.3" font-family="Liberation Sans, sans-serif" fill="#000" text-anchor="middle">5</text>
<text transform="translate(1666.48 1817.00) scale(1.0600 1)" font-size="50.3" font-family="Liberation Sans, sans-serif" fill="#000" text-anchor="middle">4</text>
<text transform="translate(1939.76 1817.00) scale(1.0600 1)" font-size="50.3" font-family="Liberation Sans, sans-serif" fill="#000" text-anchor="middle">3</text>
<text transform="translate(2100.42 1804.70) scale(1.0700 1)" font-size="50" font-family="Liberation Sans, sans-serif" fill="#000">ppm</text>
</svg>
</body></html>
